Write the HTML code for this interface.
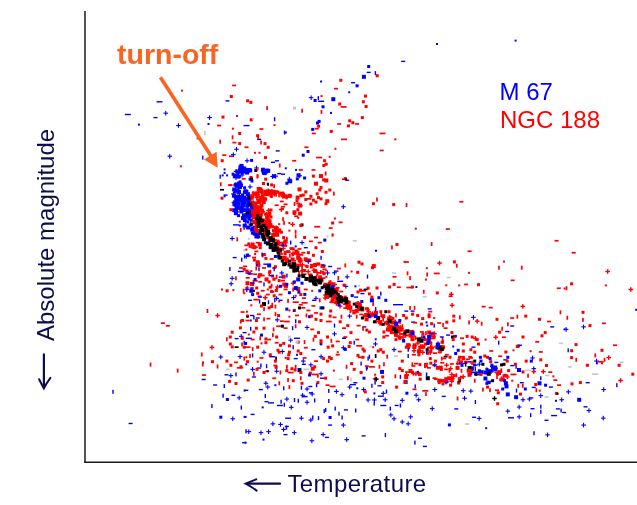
<!DOCTYPE html>
<html><head><meta charset="utf-8">
<style>
html,body{margin:0;padding:0;background:#fff;}
body{width:637px;height:505px;overflow:hidden;position:relative;}
svg{position:absolute;left:0;top:0;}
</style></head><body>
<svg width="637" height="505" viewBox="0 0 637 505">
<defs><filter id="bl" x="0" y="0" width="1" height="1" color-interpolation-filters="sRGB"><feGaussianBlur stdDeviation="0.45"/></filter></defs>
<g id="scatter" filter="url(#bl)">
<rect x="232.1" y="84.6" width="4.0" height="1.7" fill="#f00"/>
<rect x="367.2" y="65.0" width="3.0" height="3.0" fill="#00f"/>
<rect x="366.7" y="71.7" width="4.0" height="1.4" fill="#00f"/>
<rect x="374.7" y="71.1" width="1.4" height="4.0" fill="#00f"/>
<rect x="375.7" y="74.2" width="3.0" height="3.0" fill="#f00"/>
<rect x="361.9" y="74.8" width="4.0" height="4.0" fill="#00f"/>
<rect x="320.1" y="80.5" width="2.0" height="2.0" fill="#00f"/>
<rect x="339.3" y="78.8" width="3.0" height="3.0" fill="#f00"/>
<rect x="351.1" y="82.0" width="4.0" height="1.4" fill="#00f"/>
<rect x="355.6" y="84.3" width="3.0" height="3.0" fill="#00f"/>
<rect x="334.0" y="87.8" width="4.0" height="1.7" fill="#f00"/>
<rect x="436.0" y="43.0" width="2.0" height="2.0" fill="#00f"/>
<rect x="401.2" y="60.7" width="4.0" height="1.4" fill="#00f"/>
<rect x="514.6" y="39.6" width="2.0" height="2.0" fill="#00f"/>
<rect x="156.5" y="101.1" width="6.0" height="1.4" fill="#00f"/>
<rect x="124.8" y="113.8" width="6.0" height="1.4" fill="#00f"/>
<rect x="153.5" y="116.9" width="4.0" height="1.4" fill="#00f"/>
<rect x="163.5" y="112.6" width="4.6" height="1.1" fill="#00f"/><rect x="165.2" y="110.9" width="1.1" height="4.6" fill="#00f"/>
<rect x="137.9" y="123.6" width="2.0" height="2.0" fill="#00f"/>
<rect x="176.2" y="125.0" width="4.6" height="1.1" fill="#00f"/><rect x="177.9" y="123.2" width="1.1" height="4.6" fill="#00f"/>
<rect x="167.5" y="155.7" width="4.6" height="1.1" fill="#00f"/><rect x="169.2" y="154.0" width="1.1" height="4.6" fill="#00f"/>
<rect x="179.9" y="165.3" width="2.0" height="2.0" fill="#f00"/>
<rect x="229.8" y="95.0" width="3.0" height="3.0" fill="#f00"/>
<rect x="225.5" y="100.2" width="4.0" height="1.4" fill="#00f"/>
<rect x="246.1" y="99.3" width="3.0" height="3.0" fill="#f00"/>
<rect x="249.3" y="100.9" width="3.0" height="3.0" fill="#f00"/>
<rect x="266.2" y="106.1" width="1.7" height="4.0" fill="#f00"/>
<rect x="207.3" y="117.0" width="4.6" height="1.1" fill="#00f"/><rect x="209.0" y="115.3" width="1.1" height="4.6" fill="#00f"/>
<rect x="207.5" y="123.0" width="2.0" height="2.0" fill="#00f"/>
<rect x="221.5" y="115.6" width="3.0" height="3.0" fill="#f00"/>
<rect x="236.0" y="115.0" width="2.0" height="2.0" fill="#f00"/>
<rect x="249.7" y="118.3" width="3.0" height="3.0" fill="#f00"/>
<rect x="252.1" y="117.7" width="2.0" height="2.0" fill="#c8c8c8"/>
<rect x="273.9" y="117.2" width="1.4" height="4.0" fill="#00f"/>
<rect x="217.1" y="124.7" width="4.0" height="1.7" fill="#f00"/>
<rect x="243.5" y="124.9" width="6.0" height="1.4" fill="#00f"/>
<rect x="273.5" y="124.1" width="2.0" height="2.0" fill="#f00"/>
<rect x="231.9" y="127.7" width="2.0" height="2.0" fill="#f00"/>
<rect x="259.4" y="128.2" width="4.0" height="1.7" fill="#f00"/>
<rect x="204.0" y="131.0" width="1.7" height="4.0" fill="#c8c8c8"/>
<rect x="238.2" y="132.0" width="3.0" height="3.0" fill="#f00"/>
<rect x="256.1" y="134.2" width="3.0" height="3.0" fill="#f00"/>
<rect x="257.4" y="135.0" width="1.7" height="4.0" fill="#f00"/>
<rect x="231.7" y="135.3" width="1.7" height="4.0" fill="#f00"/>
<rect x="257.2" y="138.7" width="4.0" height="1.4" fill="#00f"/>
<rect x="283.8" y="130.5" width="1.4" height="4.0" fill="#00f"/>
<rect x="196.7" y="137.5" width="2.0" height="2.0" fill="#f00"/>
<rect x="219.3" y="139.7" width="1.7" height="4.0" fill="#f00"/>
<rect x="232.4" y="141.7" width="4.0" height="1.7" fill="#f00"/>
<rect x="238.2" y="142.1" width="3.0" height="3.0" fill="#f00"/>
<rect x="260.2" y="140.5" width="1.7" height="4.0" fill="#f00"/>
<rect x="263.5" y="142.1" width="3.0" height="3.0" fill="#f00"/>
<rect x="266.7" y="145.8" width="3.0" height="3.0" fill="#f00"/>
<rect x="244.5" y="146.4" width="4.0" height="1.7" fill="#f00"/>
<rect x="234.2" y="148.7" width="4.6" height="1.1" fill="#00f"/><rect x="235.9" y="147.0" width="1.1" height="4.6" fill="#00f"/>
<rect x="275.7" y="150.2" width="4.0" height="1.4" fill="#00f"/>
<rect x="254.0" y="151.8" width="2.0" height="2.0" fill="#f00"/>
<rect x="258.5" y="151.8" width="2.0" height="2.0" fill="#f00"/>
<rect x="222.3" y="154.3" width="4.0" height="1.7" fill="#f00"/>
<rect x="229.0" y="155.4" width="4.0" height="1.7" fill="#f00"/>
<rect x="231.0" y="154.1" width="4.6" height="1.1" fill="#00f"/><rect x="232.8" y="152.4" width="1.1" height="4.6" fill="#00f"/>
<rect x="202.1" y="155.6" width="1.4" height="4.0" fill="#00f"/>
<rect x="220.7" y="159.2" width="3.0" height="3.0" fill="#f00"/>
<rect x="264.0" y="156.1" width="3.0" height="3.0" fill="#f00"/>
<rect x="244.8" y="160.2" width="4.6" height="1.1" fill="#00f"/><rect x="246.5" y="158.4" width="1.1" height="4.6" fill="#00f"/>
<rect x="250.1" y="158.9" width="3.0" height="3.0" fill="#00f"/>
<rect x="271.0" y="161.6" width="4.0" height="1.4" fill="#00f"/>
<rect x="274.9" y="160.1" width="4.0" height="1.4" fill="#00f"/>
<rect x="278.9" y="163.5" width="1.7" height="4.0" fill="#f00"/>
<rect x="223.6" y="168.4" width="2.0" height="2.0" fill="#00f"/>
<rect x="348.2" y="91.3" width="2.0" height="2.0" fill="#00f"/>
<rect x="364.0" y="94.6" width="3.0" height="3.0" fill="#f00"/>
<rect x="308.8" y="97.1" width="4.6" height="1.1" fill="#00f"/><rect x="310.6" y="95.4" width="1.1" height="4.6" fill="#00f"/>
<rect x="317.6" y="96.1" width="1.4" height="4.0" fill="#00f"/>
<rect x="313.6" y="99.0" width="3.0" height="3.0" fill="#00f"/>
<rect x="318.1" y="100.6" width="6.0" height="1.4" fill="#00f"/>
<rect x="320.5" y="95.1" width="2.0" height="2.0" fill="#f00"/>
<rect x="331.3" y="97.2" width="4.0" height="4.0" fill="#00f"/>
<rect x="338.2" y="102.5" width="3.0" height="3.0" fill="#f00"/>
<rect x="340.6" y="106.0" width="6.0" height="1.7" fill="#f00"/>
<rect x="361.9" y="100.3" width="3.0" height="3.0" fill="#f00"/>
<rect x="364.6" y="105.0" width="3.0" height="3.0" fill="#f00"/>
<rect x="293.0" y="106.6" width="3.0" height="3.0" fill="#c8c8c8"/>
<rect x="301.3" y="108.8" width="1.7" height="4.0" fill="#f00"/>
<rect x="321.5" y="105.3" width="3.0" height="3.0" fill="#00f"/>
<rect x="320.6" y="109.9" width="1.7" height="4.0" fill="#f00"/>
<rect x="330.0" y="111.9" width="2.0" height="2.0" fill="#00f"/>
<rect x="360.8" y="116.1" width="3.0" height="3.0" fill="#f00"/>
<rect x="348.2" y="119.3" width="3.0" height="3.0" fill="#f00"/>
<rect x="351.3" y="121.2" width="3.0" height="3.0" fill="#f00"/>
<rect x="355.1" y="123.1" width="4.0" height="1.7" fill="#f00"/>
<rect x="346.9" y="124.4" width="3.0" height="3.0" fill="#f00"/>
<rect x="337.2" y="123.1" width="4.0" height="1.7" fill="#f00"/>
<rect x="317.6" y="119.9" width="3.0" height="3.0" fill="#00f"/>
<rect x="316.0" y="121.5" width="3.0" height="3.0" fill="#00f"/>
<rect x="317.1" y="124.7" width="3.0" height="3.0" fill="#f00"/>
<rect x="311.2" y="127.9" width="3.0" height="3.0" fill="#00f"/>
<rect x="314.7" y="127.9" width="4.0" height="1.7" fill="#f00"/>
<rect x="284.8" y="131.5" width="2.0" height="2.0" fill="#00f"/>
<rect x="311.8" y="132.6" width="4.0" height="1.7" fill="#f00"/>
<rect x="329.8" y="129.9" width="3.0" height="3.0" fill="#f00"/>
<rect x="379.5" y="132.6" width="6.0" height="1.7" fill="#f00"/>
<rect x="341.0" y="138.5" width="6.0" height="1.7" fill="#f00"/>
<rect x="304.4" y="146.4" width="4.0" height="1.7" fill="#f00"/>
<rect x="306.5" y="150.0" width="3.0" height="3.0" fill="#00f"/>
<rect x="301.7" y="153.7" width="3.0" height="3.0" fill="#00f"/>
<rect x="334.4" y="147.8" width="2.0" height="2.0" fill="#f00"/>
<rect x="379.7" y="149.6" width="4.0" height="1.7" fill="#f00"/>
<rect x="316.1" y="156.7" width="6.0" height="1.7" fill="#f00"/>
<rect x="328.7" y="155.8" width="2.0" height="2.0" fill="#f00"/>
<rect x="323.1" y="159.2" width="3.0" height="3.0" fill="#f00"/>
<rect x="324.7" y="162.7" width="3.0" height="3.0" fill="#f00"/>
<rect x="322.3" y="164.0" width="3.0" height="3.0" fill="#f00"/>
<rect x="292.2" y="159.9" width="4.0" height="1.7" fill="#f00"/>
<rect x="284.8" y="167.3" width="2.0" height="2.0" fill="#00f"/>
<rect x="295.1" y="168.9" width="2.0" height="2.0" fill="#00f"/>
<rect x="298.8" y="169.1" width="4.0" height="1.7" fill="#f00"/>
<rect x="311.5" y="169.1" width="4.0" height="1.7" fill="#f00"/>
<rect x="394.3" y="138.3" width="2.0" height="2.0" fill="#f00"/>
<rect x="223.6" y="171.9" width="2.0" height="2.0" fill="#00f"/>
<rect x="221.7" y="174.4" width="2.0" height="2.0" fill="#00f"/>
<rect x="226.1" y="174.4" width="2.0" height="2.0" fill="#00f"/>
<rect x="219.5" y="174.7" width="1.4" height="4.0" fill="#00f"/>
<rect x="219.9" y="182.3" width="1.7" height="4.0" fill="#f00"/>
<rect x="228.3" y="184.3" width="4.0" height="1.7" fill="#f00"/>
<rect x="235.1" y="184.2" width="1.7" height="4.0" fill="#f00"/>
<rect x="220.0" y="188.9" width="4.0" height="1.7" fill="#000"/>
<rect x="223.6" y="194.4" width="4.0" height="1.4" fill="#00f"/>
<rect x="223.6" y="195.3" width="2.0" height="2.0" fill="#00f"/>
<rect x="220.5" y="196.7" width="3.0" height="3.0" fill="#f00"/>
<rect x="233.7" y="196.9" width="2.0" height="2.0" fill="#f00"/>
<rect x="229.4" y="208.2" width="3.0" height="3.0" fill="#f00"/>
<rect x="236.9" y="215.0" width="2.0" height="2.0" fill="#f00"/>
<rect x="238.8" y="220.7" width="2.0" height="2.0" fill="#f00"/>
<rect x="233.0" y="224.2" width="6.0" height="1.4" fill="#00f"/>
<rect x="238.8" y="224.5" width="2.0" height="2.0" fill="#00f"/>
<rect x="239.9" y="227.9" width="1.7" height="4.0" fill="#f00"/>
<rect x="243.2" y="227.7" width="2.0" height="2.0" fill="#f00"/>
<rect x="229.9" y="238.0" width="4.6" height="1.1" fill="#00f"/><rect x="231.6" y="236.2" width="1.1" height="4.6" fill="#00f"/>
<rect x="236.4" y="237.4" width="1.7" height="4.0" fill="#f00"/>
<rect x="243.2" y="249.2" width="2.0" height="2.0" fill="#c8c8c8"/>
<rect x="232.7" y="256.9" width="4.0" height="1.4" fill="#00f"/>
<rect x="241.0" y="257.7" width="1.4" height="4.0" fill="#00f"/>
<rect x="243.9" y="254.5" width="1.4" height="4.0" fill="#00f"/>
<rect x="229.2" y="267.0" width="1.4" height="4.0" fill="#00f"/>
<rect x="239.0" y="267.1" width="4.0" height="1.7" fill="#f00"/>
<rect x="237.8" y="270.8" width="6.0" height="1.4" fill="#00f"/>
<rect x="242.7" y="267.7" width="3.0" height="3.0" fill="#f00"/>
<rect x="229.9" y="277.8" width="4.6" height="1.1" fill="#00f"/><rect x="231.6" y="276.0" width="1.1" height="4.6" fill="#00f"/>
<rect x="235.1" y="276.3" width="1.7" height="4.0" fill="#f00"/>
<rect x="228.9" y="283.2" width="4.6" height="1.1" fill="#00f"/><rect x="230.6" y="281.5" width="1.1" height="4.6" fill="#00f"/>
<rect x="221.0" y="288.5" width="2.0" height="2.0" fill="#f00"/>
<rect x="225.6" y="289.3" width="3.0" height="3.0" fill="#f00"/>
<rect x="232.4" y="289.1" width="2.0" height="2.0" fill="#f00"/>
<rect x="242.7" y="288.8" width="1.7" height="4.0" fill="#f00"/>
<rect x="243.2" y="292.3" width="2.0" height="2.0" fill="#f00"/>
<rect x="232.8" y="174.2" width="4.0" height="4.0" fill="#00f"/>
<rect x="234.7" y="170.7" width="4.6" height="1.1" fill="#00f"/><rect x="236.4" y="169.0" width="1.1" height="4.6" fill="#00f"/>
<rect x="239.5" y="168.2" width="3.0" height="3.0" fill="#00f"/>
<rect x="245.8" y="168.4" width="4.0" height="4.0" fill="#00f"/>
<rect x="245.1" y="170.6" width="4.0" height="4.0" fill="#00f"/>
<rect x="248.2" y="168.2" width="3.0" height="3.0" fill="#00f"/>
<rect x="239.8" y="174.5" width="4.6" height="1.1" fill="#00f"/><rect x="241.5" y="172.8" width="1.1" height="4.6" fill="#00f"/>
<rect x="241.0" y="167.7" width="3.0" height="3.0" fill="#00f"/>
<rect x="247.9" y="168.7" width="3.0" height="3.0" fill="#00f"/>
<rect x="236.3" y="173.3" width="3.0" height="3.0" fill="#00f"/>
<rect x="248.1" y="168.8" width="3.0" height="3.0" fill="#00f"/>
<rect x="235.6" y="172.0" width="4.6" height="1.1" fill="#00f"/><rect x="237.3" y="170.3" width="1.1" height="4.6" fill="#00f"/>
<rect x="246.5" y="169.9" width="3.0" height="3.0" fill="#00f"/>
<rect x="245.8" y="170.5" width="4.6" height="1.1" fill="#00f"/><rect x="247.5" y="168.8" width="1.1" height="4.6" fill="#00f"/>
<rect x="238.5" y="165.2" width="3.0" height="3.0" fill="#00f"/>
<rect x="233.3" y="174.1" width="4.0" height="4.0" fill="#00f"/>
<rect x="231.6" y="172.7" width="3.0" height="3.0" fill="#00f"/>
<rect x="241.8" y="168.3" width="3.0" height="3.0" fill="#00f"/>
<rect x="238.3" y="167.6" width="3.0" height="3.0" fill="#00f"/>
<rect x="237.3" y="175.6" width="3.0" height="3.0" fill="#00f"/>
<rect x="237.9" y="174.9" width="3.0" height="3.0" fill="#00f"/>
<rect x="245.8" y="170.1" width="3.0" height="3.0" fill="#00f"/>
<rect x="233.8" y="177.1" width="4.6" height="1.1" fill="#00f"/><rect x="235.5" y="175.4" width="1.1" height="4.6" fill="#00f"/>
<rect x="233.7" y="170.8" width="4.6" height="1.1" fill="#00f"/><rect x="235.4" y="169.1" width="1.1" height="4.6" fill="#00f"/>
<rect x="245.3" y="168.1" width="4.0" height="4.0" fill="#00f"/>
<rect x="240.8" y="171.6" width="3.0" height="3.0" fill="#00f"/>
<rect x="236.9" y="171.3" width="3.0" height="3.0" fill="#00f"/>
<rect x="242.6" y="170.6" width="3.0" height="3.0" fill="#00f"/>
<rect x="235.0" y="174.2" width="4.0" height="4.0" fill="#00f"/>
<rect x="241.9" y="167.2" width="4.0" height="4.0" fill="#00f"/>
<rect x="242.3" y="166.5" width="4.0" height="4.0" fill="#00f"/>
<rect x="239.5" y="163.9" width="4.0" height="4.0" fill="#00f"/>
<rect x="238.0" y="168.7" width="3.0" height="3.0" fill="#00f"/>
<rect x="248.2" y="168.4" width="4.0" height="4.0" fill="#00f"/>
<rect x="238.2" y="170.9" width="4.6" height="1.1" fill="#00f"/><rect x="240.0" y="169.1" width="1.1" height="4.6" fill="#00f"/>
<rect x="240.9" y="165.9" width="3.0" height="3.0" fill="#00f"/>
<rect x="264.1" y="169.3" width="4.0" height="4.0" fill="#00f"/>
<rect x="263.5" y="169.6" width="4.0" height="4.0" fill="#00f"/>
<rect x="266.2" y="168.8" width="4.0" height="4.0" fill="#00f"/>
<rect x="260.9" y="167.7" width="4.0" height="4.0" fill="#00f"/>
<rect x="262.7" y="171.1" width="4.0" height="4.0" fill="#00f"/>
<rect x="261.7" y="170.0" width="3.0" height="3.0" fill="#00f"/>
<rect x="261.8" y="171.6" width="3.0" height="3.0" fill="#00f"/>
<rect x="264.7" y="168.6" width="4.0" height="4.0" fill="#00f"/>
<rect x="270.3" y="175.9" width="4.6" height="1.1" fill="#00f"/><rect x="272.0" y="174.2" width="1.1" height="4.6" fill="#00f"/>
<rect x="273.4" y="175.6" width="4.6" height="1.1" fill="#00f"/><rect x="275.1" y="173.9" width="1.1" height="4.6" fill="#00f"/>
<rect x="271.8" y="174.2" width="4.0" height="4.0" fill="#00f"/>
<rect x="242.3" y="195.5" width="4.0" height="4.0" fill="#00f"/>
<rect x="247.1" y="193.4" width="3.0" height="3.0" fill="#00f"/>
<rect x="233.4" y="184.4" width="4.6" height="1.1" fill="#00f"/><rect x="235.1" y="182.6" width="1.1" height="4.6" fill="#00f"/>
<rect x="248.8" y="208.5" width="4.6" height="1.1" fill="#00f"/><rect x="250.5" y="206.8" width="1.1" height="4.6" fill="#00f"/>
<rect x="246.2" y="200.8" width="4.0" height="4.0" fill="#00f"/>
<rect x="242.0" y="213.4" width="4.0" height="4.0" fill="#00f"/>
<rect x="236.0" y="184.2" width="3.0" height="3.0" fill="#00f"/>
<rect x="248.4" y="205.1" width="4.6" height="1.1" fill="#00f"/><rect x="250.1" y="203.4" width="1.1" height="4.6" fill="#00f"/>
<rect x="246.7" y="212.9" width="4.0" height="4.0" fill="#00f"/>
<rect x="240.8" y="202.1" width="4.0" height="4.0" fill="#00f"/>
<rect x="236.6" y="191.6" width="3.0" height="3.0" fill="#00f"/>
<rect x="233.9" y="211.2" width="4.0" height="4.0" fill="#00f"/>
<rect x="238.0" y="184.2" width="3.0" height="3.0" fill="#00f"/>
<rect x="247.8" y="198.2" width="4.6" height="1.1" fill="#00f"/><rect x="249.6" y="196.5" width="1.1" height="4.6" fill="#00f"/>
<rect x="247.2" y="201.2" width="4.0" height="4.0" fill="#00f"/>
<rect x="240.8" y="208.1" width="4.0" height="4.0" fill="#00f"/>
<rect x="241.9" y="197.4" width="4.0" height="4.0" fill="#00f"/>
<rect x="237.0" y="181.6" width="4.0" height="4.0" fill="#00f"/>
<rect x="240.6" y="207.1" width="4.0" height="4.0" fill="#00f"/>
<rect x="233.5" y="201.2" width="4.0" height="4.0" fill="#00f"/>
<rect x="232.0" y="193.7" width="4.0" height="4.0" fill="#00f"/>
<rect x="235.5" y="188.3" width="4.0" height="4.0" fill="#00f"/>
<rect x="246.8" y="202.7" width="4.0" height="4.0" fill="#00f"/>
<rect x="233.6" y="183.6" width="3.0" height="3.0" fill="#00f"/>
<rect x="242.0" y="203.9" width="3.0" height="3.0" fill="#00f"/>
<rect x="237.0" y="190.0" width="4.0" height="4.0" fill="#00f"/>
<rect x="236.5" y="198.7" width="3.0" height="3.0" fill="#00f"/>
<rect x="235.7" y="200.3" width="3.0" height="3.0" fill="#00f"/>
<rect x="235.1" y="208.5" width="3.0" height="3.0" fill="#00f"/>
<rect x="250.1" y="212.4" width="3.0" height="3.0" fill="#00f"/>
<rect x="248.5" y="210.0" width="3.0" height="3.0" fill="#00f"/>
<rect x="243.7" y="189.3" width="4.0" height="4.0" fill="#00f"/>
<rect x="243.8" y="198.7" width="4.6" height="1.1" fill="#00f"/><rect x="245.5" y="197.0" width="1.1" height="4.6" fill="#00f"/>
<rect x="241.2" y="201.6" width="3.0" height="3.0" fill="#00f"/>
<rect x="238.3" y="195.2" width="4.0" height="4.0" fill="#00f"/>
<rect x="247.3" y="217.6" width="3.0" height="3.0" fill="#00f"/>
<rect x="242.0" y="203.8" width="3.0" height="3.0" fill="#00f"/>
<rect x="237.4" y="195.9" width="3.0" height="3.0" fill="#00f"/>
<rect x="231.1" y="193.4" width="4.6" height="1.1" fill="#00f"/><rect x="232.9" y="191.7" width="1.1" height="4.6" fill="#00f"/>
<rect x="250.8" y="205.6" width="3.0" height="3.0" fill="#00f"/>
<rect x="232.7" y="200.7" width="4.6" height="1.1" fill="#00f"/><rect x="234.4" y="198.9" width="1.1" height="4.6" fill="#00f"/>
<rect x="250.9" y="208.2" width="4.0" height="4.0" fill="#00f"/>
<rect x="241.0" y="216.1" width="4.0" height="4.0" fill="#00f"/>
<rect x="250.0" y="210.2" width="4.0" height="4.0" fill="#00f"/>
<rect x="244.3" y="213.7" width="4.0" height="4.0" fill="#00f"/>
<rect x="238.6" y="182.5" width="4.0" height="4.0" fill="#00f"/>
<rect x="249.9" y="218.8" width="3.0" height="3.0" fill="#00f"/>
<rect x="236.1" y="186.8" width="4.6" height="1.1" fill="#00f"/><rect x="237.9" y="185.1" width="1.1" height="4.6" fill="#00f"/>
<rect x="232.4" y="202.3" width="4.0" height="4.0" fill="#00f"/>
<rect x="239.4" y="195.1" width="4.0" height="4.0" fill="#00f"/>
<rect x="237.1" y="214.1" width="3.0" height="3.0" fill="#00f"/>
<rect x="251.5" y="212.0" width="4.0" height="4.0" fill="#00f"/>
<rect x="246.4" y="213.4" width="4.0" height="4.0" fill="#00f"/>
<rect x="247.6" y="197.2" width="3.0" height="3.0" fill="#00f"/>
<rect x="243.1" y="199.5" width="3.0" height="3.0" fill="#00f"/>
<rect x="237.2" y="183.8" width="4.0" height="4.0" fill="#00f"/>
<rect x="234.4" y="195.0" width="3.0" height="3.0" fill="#00f"/>
<rect x="238.5" y="180.4" width="3.0" height="3.0" fill="#00f"/>
<rect x="233.6" y="190.2" width="3.0" height="3.0" fill="#00f"/>
<rect x="234.1" y="201.2" width="4.0" height="4.0" fill="#00f"/>
<rect x="234.5" y="211.4" width="4.6" height="1.1" fill="#00f"/><rect x="236.2" y="209.7" width="1.1" height="4.6" fill="#00f"/>
<rect x="247.3" y="212.6" width="3.0" height="3.0" fill="#00f"/>
<rect x="240.6" y="199.1" width="4.0" height="4.0" fill="#00f"/>
<rect x="245.9" y="203.8" width="4.6" height="1.1" fill="#00f"/><rect x="247.7" y="202.0" width="1.1" height="4.6" fill="#00f"/>
<rect x="234.9" y="207.1" width="3.0" height="3.0" fill="#00f"/>
<rect x="247.1" y="196.9" width="4.0" height="4.0" fill="#00f"/>
<rect x="246.0" y="192.2" width="4.0" height="4.0" fill="#00f"/>
<rect x="238.1" y="197.4" width="4.0" height="4.0" fill="#00f"/>
<rect x="241.0" y="193.4" width="3.0" height="3.0" fill="#00f"/>
<rect x="239.0" y="206.9" width="4.6" height="1.1" fill="#00f"/><rect x="240.7" y="205.2" width="1.1" height="4.6" fill="#00f"/>
<rect x="236.6" y="201.8" width="4.0" height="4.0" fill="#00f"/>
<rect x="243.4" y="209.0" width="3.0" height="3.0" fill="#00f"/>
<rect x="242.0" y="200.1" width="4.0" height="4.0" fill="#00f"/>
<rect x="245.1" y="197.9" width="3.0" height="3.0" fill="#00f"/>
<rect x="231.6" y="201.9" width="4.6" height="1.1" fill="#00f"/><rect x="233.4" y="200.2" width="1.1" height="4.6" fill="#00f"/>
<rect x="235.4" y="204.4" width="4.0" height="4.0" fill="#00f"/>
<rect x="239.3" y="209.5" width="4.0" height="4.0" fill="#00f"/>
<rect x="243.2" y="196.1" width="3.0" height="3.0" fill="#00f"/>
<rect x="242.8" y="217.3" width="4.0" height="4.0" fill="#00f"/>
<rect x="248.7" y="210.9" width="3.0" height="3.0" fill="#00f"/>
<rect x="247.5" y="196.3" width="3.0" height="3.0" fill="#00f"/>
<rect x="234.6" y="197.9" width="4.0" height="4.0" fill="#00f"/>
<rect x="239.1" y="198.1" width="4.0" height="4.0" fill="#00f"/>
<rect x="234.3" y="183.5" width="3.0" height="3.0" fill="#00f"/>
<rect x="237.3" y="195.0" width="4.6" height="1.1" fill="#00f"/><rect x="239.0" y="193.2" width="1.1" height="4.6" fill="#00f"/>
<rect x="250.4" y="208.7" width="4.6" height="1.1" fill="#00f"/><rect x="252.1" y="206.9" width="1.1" height="4.6" fill="#00f"/>
<rect x="242.9" y="190.3" width="4.0" height="4.0" fill="#00f"/>
<rect x="232.2" y="187.5" width="4.0" height="4.0" fill="#00f"/>
<rect x="234.2" y="182.6" width="3.0" height="3.0" fill="#00f"/>
<rect x="244.0" y="198.6" width="3.0" height="3.0" fill="#00f"/>
<rect x="243.8" y="208.7" width="3.0" height="3.0" fill="#00f"/>
<rect x="234.2" y="204.4" width="3.0" height="3.0" fill="#00f"/>
<rect x="236.5" y="196.8" width="4.6" height="1.1" fill="#00f"/><rect x="238.2" y="195.0" width="1.1" height="4.6" fill="#00f"/>
<rect x="246.7" y="214.4" width="4.0" height="4.0" fill="#00f"/>
<rect x="245.4" y="190.1" width="3.0" height="3.0" fill="#00f"/>
<rect x="244.7" y="213.5" width="4.0" height="4.0" fill="#00f"/>
<rect x="248.0" y="215.9" width="4.6" height="1.1" fill="#00f"/><rect x="249.7" y="214.2" width="1.1" height="4.6" fill="#00f"/>
<rect x="235.4" y="197.2" width="3.0" height="3.0" fill="#00f"/>
<rect x="243.1" y="186.3" width="3.0" height="3.0" fill="#00f"/>
<rect x="245.2" y="203.8" width="4.0" height="4.0" fill="#00f"/>
<rect x="239.0" y="186.1" width="3.0" height="3.0" fill="#00f"/>
<rect x="234.7" y="195.4" width="4.0" height="4.0" fill="#00f"/>
<rect x="245.0" y="208.4" width="4.0" height="4.0" fill="#00f"/>
<rect x="245.5" y="208.4" width="4.6" height="1.1" fill="#00f"/><rect x="247.2" y="206.6" width="1.1" height="4.6" fill="#00f"/>
<rect x="245.1" y="212.8" width="3.0" height="3.0" fill="#00f"/>
<rect x="238.1" y="206.1" width="4.0" height="4.0" fill="#00f"/>
<rect x="239.9" y="195.0" width="3.0" height="3.0" fill="#00f"/>
<rect x="233.8" y="202.8" width="4.6" height="1.1" fill="#00f"/><rect x="235.5" y="201.1" width="1.1" height="4.6" fill="#00f"/>
<rect x="232.3" y="208.2" width="4.0" height="4.0" fill="#00f"/>
<rect x="239.9" y="184.0" width="3.0" height="3.0" fill="#00f"/>
<rect x="246.9" y="214.1" width="4.0" height="4.0" fill="#00f"/>
<rect x="249.2" y="213.7" width="4.0" height="4.0" fill="#00f"/>
<rect x="249.5" y="210.5" width="3.0" height="3.0" fill="#00f"/>
<rect x="240.6" y="202.1" width="4.0" height="4.0" fill="#00f"/>
<rect x="255.2" y="234.4" width="4.0" height="4.0" fill="#00f"/>
<rect x="250.9" y="228.4" width="3.0" height="3.0" fill="#00f"/>
<rect x="242.7" y="223.7" width="4.0" height="4.0" fill="#00f"/>
<rect x="248.5" y="223.7" width="4.6" height="1.1" fill="#00f"/><rect x="250.2" y="221.9" width="1.1" height="4.6" fill="#00f"/>
<rect x="252.5" y="232.2" width="3.0" height="3.0" fill="#00f"/>
<rect x="252.4" y="225.6" width="4.0" height="4.0" fill="#00f"/>
<rect x="246.3" y="220.5" width="3.0" height="3.0" fill="#00f"/>
<rect x="253.0" y="229.9" width="4.0" height="4.0" fill="#00f"/>
<rect x="250.9" y="231.6" width="3.0" height="3.0" fill="#00f"/>
<rect x="253.2" y="231.6" width="4.0" height="4.0" fill="#00f"/>
<rect x="255.4" y="233.5" width="4.0" height="4.0" fill="#00f"/>
<rect x="250.1" y="227.5" width="4.0" height="4.0" fill="#00f"/>
<rect x="250.8" y="227.0" width="3.0" height="3.0" fill="#00f"/>
<rect x="255.8" y="233.4" width="4.6" height="1.1" fill="#00f"/><rect x="257.5" y="231.7" width="1.1" height="4.6" fill="#00f"/>
<rect x="243.0" y="221.0" width="4.6" height="1.1" fill="#00f"/><rect x="244.8" y="219.3" width="1.1" height="4.6" fill="#00f"/>
<rect x="243.4" y="223.9" width="3.0" height="3.0" fill="#00f"/>
<rect x="246.1" y="225.5" width="4.0" height="4.0" fill="#00f"/>
<rect x="249.2" y="223.7" width="3.0" height="3.0" fill="#00f"/>
<rect x="285.4" y="181.8" width="3.0" height="3.0" fill="#00f"/>
<rect x="287.1" y="178.6" width="4.6" height="1.1" fill="#00f"/><rect x="288.8" y="176.8" width="1.1" height="4.6" fill="#00f"/>
<rect x="287.5" y="179.9" width="3.0" height="3.0" fill="#00f"/>
<rect x="288.2" y="179.3" width="4.0" height="4.0" fill="#00f"/>
<rect x="297.4" y="175.2" width="4.6" height="1.1" fill="#00f"/><rect x="299.1" y="173.5" width="1.1" height="4.6" fill="#00f"/>
<rect x="296.5" y="173.3" width="4.0" height="4.0" fill="#00f"/>
<rect x="295.8" y="177.4" width="3.0" height="3.0" fill="#00f"/>
<rect x="261.7" y="200.1" width="4.0" height="4.0" fill="#f00"/>
<rect x="260.6" y="221.7" width="3.0" height="3.0" fill="#f00"/>
<rect x="255.2" y="229.0" width="4.0" height="4.0" fill="#f00"/>
<rect x="251.3" y="209.2" width="4.0" height="4.0" fill="#f00"/>
<rect x="256.4" y="193.6" width="3.0" height="3.0" fill="#f00"/>
<rect x="271.9" y="229.1" width="3.0" height="3.0" fill="#f00"/>
<rect x="279.9" y="230.7" width="3.0" height="3.0" fill="#f00"/>
<rect x="251.8" y="191.3" width="3.0" height="3.0" fill="#f00"/>
<rect x="257.9" y="189.7" width="3.0" height="3.0" fill="#f00"/>
<rect x="270.0" y="189.8" width="4.0" height="4.0" fill="#f00"/>
<rect x="266.0" y="215.1" width="4.6" height="1.4" fill="#f00"/><rect x="267.6" y="213.5" width="1.4" height="4.6" fill="#f00"/>
<rect x="266.6" y="218.3" width="3.0" height="3.0" fill="#f00"/>
<rect x="284.9" y="196.3" width="4.6" height="1.4" fill="#f00"/><rect x="286.5" y="194.7" width="1.4" height="4.6" fill="#f00"/>
<rect x="256.9" y="222.4" width="4.6" height="1.4" fill="#f00"/><rect x="258.5" y="220.8" width="1.4" height="4.6" fill="#f00"/>
<rect x="265.7" y="228.0" width="3.0" height="3.0" fill="#f00"/>
<rect x="256.8" y="200.1" width="4.0" height="4.0" fill="#f00"/>
<rect x="271.1" y="225.2" width="3.0" height="3.0" fill="#f00"/>
<rect x="265.4" y="215.7" width="4.0" height="4.0" fill="#f00"/>
<rect x="266.8" y="193.6" width="4.6" height="1.4" fill="#f00"/><rect x="268.4" y="192.0" width="1.4" height="4.6" fill="#f00"/>
<rect x="287.7" y="193.8" width="4.0" height="4.0" fill="#f00"/>
<rect x="265.1" y="230.0" width="4.0" height="4.0" fill="#f00"/>
<rect x="267.6" y="223.4" width="4.0" height="4.0" fill="#f00"/>
<rect x="274.3" y="226.1" width="4.0" height="4.0" fill="#f00"/>
<rect x="264.3" y="225.1" width="4.6" height="1.4" fill="#f00"/><rect x="265.9" y="223.5" width="1.4" height="4.6" fill="#f00"/>
<rect x="250.1" y="194.2" width="4.0" height="4.0" fill="#f00"/>
<rect x="263.8" y="192.1" width="4.0" height="4.0" fill="#f00"/>
<rect x="263.0" y="229.5" width="3.0" height="3.0" fill="#f00"/>
<rect x="253.4" y="192.7" width="3.0" height="3.0" fill="#f00"/>
<rect x="258.3" y="187.3" width="4.0" height="4.0" fill="#f00"/>
<rect x="255.5" y="222.4" width="4.0" height="4.0" fill="#f00"/>
<rect x="265.0" y="220.0" width="4.0" height="4.0" fill="#f00"/>
<rect x="252.8" y="214.8" width="4.0" height="4.0" fill="#f00"/>
<rect x="263.0" y="230.5" width="4.0" height="4.0" fill="#f00"/>
<rect x="256.4" y="223.9" width="4.0" height="4.0" fill="#f00"/>
<rect x="252.5" y="205.7" width="4.6" height="1.4" fill="#f00"/><rect x="254.1" y="204.1" width="1.4" height="4.6" fill="#f00"/>
<rect x="260.6" y="211.2" width="4.6" height="1.4" fill="#f00"/><rect x="262.2" y="209.6" width="1.4" height="4.6" fill="#f00"/>
<rect x="253.9" y="226.2" width="4.0" height="4.0" fill="#f00"/>
<rect x="255.7" y="215.4" width="3.0" height="3.0" fill="#f00"/>
<rect x="256.4" y="198.7" width="3.0" height="3.0" fill="#f00"/>
<rect x="261.2" y="209.7" width="3.0" height="3.0" fill="#f00"/>
<rect x="273.8" y="226.5" width="4.0" height="4.0" fill="#f00"/>
<rect x="275.2" y="229.5" width="4.0" height="4.0" fill="#f00"/>
<rect x="251.6" y="215.4" width="4.0" height="4.0" fill="#f00"/>
<rect x="258.8" y="199.5" width="3.0" height="3.0" fill="#f00"/>
<rect x="266.0" y="192.7" width="3.0" height="3.0" fill="#f00"/>
<rect x="265.4" y="215.7" width="4.0" height="4.0" fill="#f00"/>
<rect x="255.2" y="205.5" width="4.0" height="4.0" fill="#f00"/>
<rect x="256.8" y="222.2" width="3.0" height="3.0" fill="#f00"/>
<rect x="252.1" y="201.9" width="3.0" height="3.0" fill="#f00"/>
<rect x="254.4" y="192.7" width="4.0" height="4.0" fill="#f00"/>
<rect x="258.2" y="215.9" width="4.0" height="4.0" fill="#f00"/>
<rect x="258.7" y="196.0" width="3.0" height="3.0" fill="#f00"/>
<rect x="262.2" y="222.4" width="4.0" height="4.0" fill="#f00"/>
<rect x="273.9" y="226.5" width="4.0" height="4.0" fill="#f00"/>
<rect x="250.7" y="202.1" width="3.0" height="3.0" fill="#f00"/>
<rect x="254.3" y="228.8" width="3.0" height="3.0" fill="#f00"/>
<rect x="252.4" y="220.1" width="4.0" height="4.0" fill="#f00"/>
<rect x="261.6" y="198.3" width="3.0" height="3.0" fill="#f00"/>
<rect x="255.3" y="205.3" width="3.0" height="3.0" fill="#f00"/>
<rect x="253.0" y="201.5" width="4.0" height="4.0" fill="#f00"/>
<rect x="269.8" y="194.8" width="3.0" height="3.0" fill="#f00"/>
<rect x="254.3" y="219.4" width="4.0" height="4.0" fill="#f00"/>
<rect x="264.1" y="212.7" width="3.0" height="3.0" fill="#f00"/>
<rect x="261.9" y="218.6" width="3.0" height="3.0" fill="#f00"/>
<rect x="252.8" y="213.8" width="3.0" height="3.0" fill="#f00"/>
<rect x="268.4" y="223.7" width="4.0" height="4.0" fill="#f00"/>
<rect x="255.2" y="224.7" width="4.6" height="1.4" fill="#f00"/><rect x="256.8" y="223.1" width="1.4" height="4.6" fill="#f00"/>
<rect x="265.8" y="232.4" width="3.0" height="3.0" fill="#f00"/>
<rect x="260.4" y="217.9" width="3.0" height="3.0" fill="#f00"/>
<rect x="254.5" y="221.1" width="4.0" height="4.0" fill="#f00"/>
<rect x="267.9" y="223.2" width="3.0" height="3.0" fill="#f00"/>
<rect x="267.5" y="190.8" width="4.0" height="4.0" fill="#f00"/>
<rect x="268.5" y="219.3" width="3.0" height="3.0" fill="#f00"/>
<rect x="258.8" y="212.5" width="4.0" height="4.0" fill="#f00"/>
<rect x="265.9" y="220.2" width="4.0" height="4.0" fill="#f00"/>
<rect x="275.2" y="232.8" width="4.0" height="4.0" fill="#f00"/>
<rect x="263.4" y="221.5" width="4.0" height="4.0" fill="#f00"/>
<rect x="267.2" y="219.4" width="3.0" height="3.0" fill="#f00"/>
<rect x="276.3" y="228.4" width="3.0" height="3.0" fill="#f00"/>
<rect x="253.8" y="214.7" width="4.6" height="1.4" fill="#f00"/><rect x="255.4" y="213.1" width="1.4" height="4.6" fill="#f00"/>
<rect x="282.6" y="194.8" width="3.0" height="3.0" fill="#f00"/>
<rect x="253.3" y="201.8" width="4.0" height="4.0" fill="#f00"/>
<rect x="269.2" y="222.9" width="3.0" height="3.0" fill="#f00"/>
<rect x="254.1" y="209.0" width="4.0" height="4.0" fill="#f00"/>
<rect x="282.0" y="194.4" width="4.6" height="1.4" fill="#f00"/><rect x="283.6" y="192.8" width="1.4" height="4.6" fill="#f00"/>
<rect x="265.6" y="223.6" width="4.0" height="4.0" fill="#f00"/>
<rect x="255.4" y="210.7" width="4.0" height="4.0" fill="#f00"/>
<rect x="265.4" y="216.3" width="3.0" height="3.0" fill="#f00"/>
<rect x="259.2" y="223.0" width="3.0" height="3.0" fill="#f00"/>
<rect x="287.6" y="194.8" width="3.0" height="3.0" fill="#f00"/>
<rect x="250.7" y="196.8" width="3.0" height="3.0" fill="#f00"/>
<rect x="280.0" y="191.7" width="4.0" height="4.0" fill="#f00"/>
<rect x="264.2" y="213.7" width="4.6" height="1.4" fill="#f00"/><rect x="265.8" y="212.1" width="1.4" height="4.6" fill="#f00"/>
<rect x="251.1" y="210.4" width="4.0" height="4.0" fill="#f00"/>
<rect x="268.2" y="220.5" width="3.0" height="3.0" fill="#f00"/>
<rect x="272.7" y="232.4" width="4.0" height="4.0" fill="#f00"/>
<rect x="260.8" y="194.8" width="3.0" height="3.0" fill="#f00"/>
<rect x="253.1" y="203.5" width="3.0" height="3.0" fill="#f00"/>
<rect x="259.2" y="199.2" width="4.6" height="1.4" fill="#f00"/><rect x="260.8" y="197.6" width="1.4" height="4.6" fill="#f00"/>
<rect x="260.8" y="208.5" width="3.0" height="3.0" fill="#f00"/>
<rect x="258.7" y="189.9" width="3.0" height="3.0" fill="#f00"/>
<rect x="266.7" y="227.5" width="3.0" height="3.0" fill="#f00"/>
<rect x="255.3" y="208.2" width="3.0" height="3.0" fill="#f00"/>
<rect x="255.4" y="217.4" width="4.0" height="4.0" fill="#f00"/>
<rect x="254.4" y="211.4" width="4.0" height="4.0" fill="#f00"/>
<rect x="254.5" y="196.9" width="4.6" height="1.4" fill="#f00"/><rect x="256.1" y="195.3" width="1.4" height="4.6" fill="#f00"/>
<rect x="263.9" y="225.9" width="3.0" height="3.0" fill="#f00"/>
<rect x="260.7" y="194.2" width="4.6" height="1.4" fill="#f00"/><rect x="262.3" y="192.6" width="1.4" height="4.6" fill="#f00"/>
<rect x="270.4" y="190.3" width="4.0" height="4.0" fill="#f00"/>
<rect x="257.5" y="207.8" width="4.0" height="4.0" fill="#f00"/>
<rect x="253.1" y="204.9" width="4.6" height="1.4" fill="#f00"/><rect x="254.7" y="203.3" width="1.4" height="4.6" fill="#f00"/>
<rect x="259.4" y="188.8" width="4.0" height="4.0" fill="#f00"/>
<rect x="255.6" y="192.3" width="4.0" height="4.0" fill="#f00"/>
<rect x="254.3" y="207.0" width="3.0" height="3.0" fill="#f00"/>
<rect x="259.5" y="196.4" width="3.0" height="3.0" fill="#f00"/>
<rect x="265.4" y="229.4" width="3.0" height="3.0" fill="#f00"/>
<rect x="257.0" y="223.2" width="4.6" height="1.4" fill="#f00"/><rect x="258.6" y="221.6" width="1.4" height="4.6" fill="#f00"/>
<rect x="258.9" y="188.4" width="3.0" height="3.0" fill="#f00"/>
<rect x="276.2" y="229.8" width="3.0" height="3.0" fill="#f00"/>
<rect x="258.5" y="205.4" width="4.0" height="4.0" fill="#f00"/>
<rect x="260.5" y="191.2" width="3.0" height="3.0" fill="#f00"/>
<rect x="256.7" y="186.9" width="4.0" height="4.0" fill="#f00"/>
<rect x="262.5" y="197.5" width="4.0" height="4.0" fill="#f00"/>
<rect x="257.3" y="210.5" width="3.0" height="3.0" fill="#f00"/>
<rect x="264.0" y="197.5" width="3.0" height="3.0" fill="#f00"/>
<rect x="267.9" y="225.7" width="3.0" height="3.0" fill="#f00"/>
<rect x="253.5" y="205.4" width="3.0" height="3.0" fill="#f00"/>
<rect x="264.5" y="229.9" width="4.6" height="1.4" fill="#f00"/><rect x="266.1" y="228.3" width="1.4" height="4.6" fill="#f00"/>
<rect x="250.0" y="200.4" width="4.0" height="4.0" fill="#f00"/>
<rect x="271.2" y="232.9" width="4.0" height="4.0" fill="#f00"/>
<rect x="272.5" y="191.9" width="3.0" height="3.0" fill="#f00"/>
<rect x="270.1" y="190.8" width="4.0" height="4.0" fill="#f00"/>
<rect x="274.0" y="227.1" width="4.6" height="1.4" fill="#f00"/><rect x="275.6" y="225.5" width="1.4" height="4.6" fill="#f00"/>
<rect x="263.0" y="229.7" width="3.0" height="3.0" fill="#f00"/>
<rect x="262.6" y="196.6" width="3.0" height="3.0" fill="#f00"/>
<rect x="255.2" y="191.2" width="4.0" height="4.0" fill="#f00"/>
<rect x="259.5" y="203.4" width="4.0" height="4.0" fill="#f00"/>
<rect x="277.2" y="228.5" width="4.0" height="4.0" fill="#f00"/>
<rect x="266.1" y="192.5" width="3.0" height="3.0" fill="#f00"/>
<rect x="257.3" y="200.4" width="4.6" height="1.4" fill="#f00"/><rect x="258.9" y="198.8" width="1.4" height="4.6" fill="#f00"/>
<rect x="251.7" y="210.6" width="3.0" height="3.0" fill="#f00"/>
<rect x="303.1" y="176.5" width="3.0" height="3.0" fill="#00f"/>
<rect x="247.8" y="186.3" width="4.6" height="1.1" fill="#00f"/><rect x="249.5" y="184.5" width="1.1" height="4.6" fill="#00f"/>
<rect x="248.6" y="177.7" width="3.0" height="3.0" fill="#00f"/>
<rect x="277.2" y="172.9" width="4.0" height="1.4" fill="#00f"/>
<rect x="281.0" y="173.5" width="4.0" height="1.4" fill="#00f"/>
<rect x="247.3" y="196.1" width="3.0" height="3.0" fill="#000"/>
<rect x="248.6" y="202.5" width="3.0" height="3.0" fill="#000"/>
<rect x="246.0" y="211.3" width="3.0" height="3.0" fill="#000"/>
<rect x="249.8" y="222.7" width="3.0" height="3.0" fill="#000"/>
<rect x="256.2" y="213.9" width="3.0" height="3.0" fill="#000"/>
<rect x="258.7" y="216.6" width="3.0" height="3.0" fill="#000"/>
<rect x="261.2" y="219.2" width="3.0" height="3.0" fill="#000"/>
<rect x="257.4" y="222.7" width="3.0" height="3.0" fill="#000"/>
<rect x="262.5" y="224.3" width="3.0" height="3.0" fill="#000"/>
<rect x="260.0" y="228.1" width="3.0" height="3.0" fill="#000"/>
<rect x="265.0" y="229.3" width="3.0" height="3.0" fill="#000"/>
<rect x="267.6" y="231.9" width="3.0" height="3.0" fill="#000"/>
<rect x="258.7" y="231.9" width="3.0" height="3.0" fill="#000"/>
<rect x="300.5" y="223.4" width="3.0" height="3.0" fill="#000"/>
<rect x="266.8" y="182.7" width="2.0" height="2.0" fill="#000"/>
<rect x="256.8" y="174.1" width="1.7" height="4.0" fill="#f00"/>
<rect x="270.1" y="183.4" width="3.0" height="3.0" fill="#f00"/>
<rect x="273.3" y="184.2" width="1.7" height="4.0" fill="#f00"/>
<rect x="279.8" y="200.6" width="4.0" height="1.7" fill="#f00"/>
<rect x="274.7" y="204.4" width="4.0" height="1.7" fill="#f00"/>
<rect x="282.0" y="208.0" width="2.0" height="2.0" fill="#f00"/>
<rect x="285.3" y="211.3" width="3.0" height="3.0" fill="#f00"/>
<rect x="292.9" y="212.0" width="3.0" height="3.0" fill="#f00"/>
<rect x="282.2" y="217.2" width="1.7" height="4.0" fill="#f00"/>
<rect x="288.4" y="222.0" width="2.0" height="2.0" fill="#f00"/>
<rect x="297.2" y="216.9" width="2.0" height="2.0" fill="#f00"/>
<rect x="299.3" y="224.0" width="3.0" height="3.0" fill="#f00"/>
<rect x="288.4" y="229.6" width="2.0" height="2.0" fill="#f00"/>
<rect x="294.8" y="229.8" width="1.7" height="4.0" fill="#f00"/>
<rect x="314.2" y="225.9" width="6.0" height="1.7" fill="#f00"/>
<rect x="278.2" y="223.2" width="2.0" height="2.0" fill="#f00"/>
<rect x="274.4" y="230.8" width="2.0" height="2.0" fill="#f00"/>
<rect x="297.5" y="187.4" width="4.0" height="4.0" fill="#f00"/>
<rect x="304.3" y="190.4" width="3.0" height="3.0" fill="#f00"/>
<rect x="295.6" y="195.6" width="4.0" height="4.0" fill="#f00"/>
<rect x="295.5" y="199.3" width="3.0" height="3.0" fill="#f00"/>
<rect x="301.8" y="193.6" width="3.0" height="3.0" fill="#f00"/>
<rect x="305.4" y="198.0" width="6.0" height="1.7" fill="#f00"/>
<rect x="311.9" y="198.7" width="3.0" height="3.0" fill="#f00"/>
<rect x="315.7" y="192.3" width="3.0" height="3.0" fill="#f00"/>
<rect x="318.3" y="188.5" width="3.0" height="3.0" fill="#f00"/>
<rect x="314.0" y="181.7" width="4.0" height="4.0" fill="#f00"/>
<rect x="319.5" y="186.0" width="3.0" height="3.0" fill="#f00"/>
<rect x="319.5" y="197.4" width="3.0" height="3.0" fill="#f00"/>
<rect x="314.5" y="200.6" width="3.0" height="3.0" fill="#f00"/>
<rect x="309.4" y="202.5" width="3.0" height="3.0" fill="#f00"/>
<rect x="311.9" y="174.6" width="3.0" height="3.0" fill="#f00"/>
<rect x="319.0" y="174.1" width="4.0" height="4.0" fill="#f00"/>
<rect x="322.1" y="178.4" width="3.0" height="3.0" fill="#f00"/>
<rect x="299.3" y="194.2" width="3.0" height="3.0" fill="#f00"/>
<rect x="304.3" y="198.0" width="3.0" height="3.0" fill="#f00"/>
<rect x="309.4" y="194.8" width="3.0" height="3.0" fill="#f00"/>
<rect x="317.0" y="196.1" width="3.0" height="3.0" fill="#f00"/>
<rect x="291.5" y="252.4" width="1.7" height="4.0" fill="#f00"/>
<rect x="298.2" y="270.6" width="1.7" height="4.0" fill="#f00"/>
<rect x="276.6" y="239.6" width="3.0" height="3.0" fill="#f00"/>
<rect x="306.7" y="258.5" width="4.0" height="1.7" fill="#f00"/>
<rect x="276.5" y="249.7" width="4.6" height="1.4" fill="#f00"/><rect x="278.1" y="248.1" width="1.4" height="4.6" fill="#f00"/>
<rect x="295.3" y="250.3" width="1.7" height="4.0" fill="#f00"/>
<rect x="320.4" y="263.9" width="4.0" height="4.0" fill="#f00"/>
<rect x="301.1" y="269.5" width="4.0" height="1.7" fill="#f00"/>
<rect x="313.2" y="263.0" width="4.0" height="4.0" fill="#f00"/>
<rect x="319.5" y="278.5" width="4.0" height="4.0" fill="#f00"/>
<rect x="304.3" y="264.8" width="4.0" height="1.7" fill="#f00"/>
<rect x="309.9" y="265.6" width="3.0" height="3.0" fill="#f00"/>
<rect x="313.2" y="269.0" width="4.0" height="4.0" fill="#f00"/>
<rect x="287.7" y="262.9" width="4.0" height="1.7" fill="#f00"/>
<rect x="319.8" y="270.1" width="1.7" height="4.0" fill="#f00"/>
<rect x="267.7" y="240.1" width="4.0" height="1.7" fill="#f00"/>
<rect x="308.5" y="273.7" width="4.0" height="1.7" fill="#f00"/>
<rect x="286.7" y="251.4" width="4.0" height="1.7" fill="#f00"/>
<rect x="269.3" y="240.5" width="4.0" height="1.7" fill="#f00"/>
<rect x="321.3" y="270.8" width="3.0" height="3.0" fill="#f00"/>
<rect x="309.8" y="273.3" width="1.7" height="4.0" fill="#f00"/>
<rect x="298.1" y="253.6" width="4.0" height="1.7" fill="#f00"/>
<rect x="321.4" y="277.3" width="4.0" height="1.7" fill="#f00"/>
<rect x="269.4" y="244.1" width="3.0" height="3.0" fill="#f00"/>
<rect x="301.2" y="265.9" width="1.7" height="4.0" fill="#f00"/>
<rect x="305.9" y="270.9" width="4.6" height="1.4" fill="#f00"/><rect x="307.5" y="269.3" width="1.4" height="4.6" fill="#f00"/>
<rect x="294.1" y="269.4" width="3.0" height="3.0" fill="#f00"/>
<rect x="311.6" y="269.6" width="4.6" height="1.4" fill="#f00"/><rect x="313.2" y="268.0" width="1.4" height="4.6" fill="#f00"/>
<rect x="308.2" y="274.0" width="4.0" height="1.7" fill="#f00"/>
<rect x="282.1" y="236.1" width="3.0" height="3.0" fill="#f00"/>
<rect x="266.3" y="236.4" width="3.0" height="3.0" fill="#f00"/>
<rect x="296.5" y="251.2" width="3.0" height="3.0" fill="#f00"/>
<rect x="300.0" y="264.1" width="4.6" height="1.4" fill="#f00"/><rect x="301.6" y="262.5" width="1.4" height="4.6" fill="#f00"/>
<rect x="276.2" y="248.7" width="4.0" height="4.0" fill="#f00"/>
<rect x="283.6" y="239.4" width="4.0" height="4.0" fill="#f00"/>
<rect x="281.0" y="247.7" width="4.6" height="1.4" fill="#f00"/><rect x="282.6" y="246.1" width="1.4" height="4.6" fill="#f00"/>
<rect x="316.6" y="271.5" width="1.7" height="4.0" fill="#f00"/>
<rect x="279.3" y="244.5" width="4.0" height="1.7" fill="#f00"/>
<rect x="318.1" y="280.5" width="4.6" height="1.4" fill="#f00"/><rect x="319.7" y="278.9" width="1.4" height="4.6" fill="#f00"/>
<rect x="289.4" y="247.2" width="4.0" height="1.7" fill="#f00"/>
<rect x="293.6" y="251.8" width="3.0" height="3.0" fill="#f00"/>
<rect x="316.3" y="262.5" width="4.0" height="1.7" fill="#f00"/>
<rect x="290.9" y="253.0" width="4.6" height="1.4" fill="#f00"/><rect x="292.5" y="251.4" width="1.4" height="4.6" fill="#f00"/>
<rect x="286.2" y="250.2" width="4.0" height="1.7" fill="#f00"/>
<rect x="291.8" y="266.9" width="3.0" height="3.0" fill="#f00"/>
<rect x="279.4" y="253.1" width="4.0" height="1.7" fill="#f00"/>
<rect x="282.6" y="255.8" width="4.0" height="4.0" fill="#f00"/>
<rect x="285.7" y="257.4" width="3.0" height="3.0" fill="#f00"/>
<rect x="314.4" y="269.9" width="3.0" height="3.0" fill="#f00"/>
<rect x="305.1" y="259.0" width="3.0" height="3.0" fill="#f00"/>
<rect x="322.6" y="272.2" width="3.0" height="3.0" fill="#f00"/>
<rect x="302.5" y="273.3" width="4.0" height="1.7" fill="#f00"/>
<rect x="315.8" y="274.6" width="1.7" height="4.0" fill="#f00"/>
<rect x="316.3" y="272.0" width="4.0" height="1.7" fill="#f00"/>
<rect x="276.8" y="247.3" width="4.0" height="1.7" fill="#f00"/>
<rect x="278.1" y="248.5" width="4.0" height="4.0" fill="#f00"/>
<rect x="277.9" y="249.6" width="4.0" height="4.0" fill="#f00"/>
<rect x="310.4" y="280.2" width="4.6" height="1.4" fill="#f00"/><rect x="312.0" y="278.6" width="1.4" height="4.6" fill="#f00"/>
<rect x="298.5" y="258.3" width="4.0" height="4.0" fill="#f00"/>
<rect x="277.9" y="241.7" width="4.0" height="1.7" fill="#f00"/>
<rect x="276.7" y="242.9" width="4.0" height="1.7" fill="#f00"/>
<rect x="285.0" y="259.0" width="4.0" height="4.0" fill="#f00"/>
<rect x="297.7" y="259.9" width="4.6" height="1.4" fill="#f00"/><rect x="299.3" y="258.3" width="1.4" height="4.6" fill="#f00"/>
<rect x="322.5" y="268.5" width="4.0" height="1.7" fill="#f00"/>
<rect x="283.7" y="250.8" width="4.0" height="1.7" fill="#f00"/>
<rect x="312.0" y="280.6" width="4.6" height="1.4" fill="#f00"/><rect x="313.6" y="279.0" width="1.4" height="4.6" fill="#f00"/>
<rect x="274.5" y="249.0" width="3.0" height="3.0" fill="#f00"/>
<rect x="278.4" y="252.0" width="1.7" height="4.0" fill="#f00"/>
<rect x="306.6" y="260.5" width="4.0" height="1.7" fill="#f00"/>
<rect x="300.1" y="270.1" width="4.0" height="1.7" fill="#f00"/>
<rect x="272.9" y="239.2" width="4.0" height="1.7" fill="#f00"/>
<rect x="295.1" y="264.3" width="4.0" height="1.7" fill="#f00"/>
<rect x="292.1" y="259.9" width="4.0" height="1.7" fill="#f00"/>
<rect x="318.1" y="275.3" width="4.0" height="4.0" fill="#f00"/>
<rect x="299.2" y="254.0" width="4.0" height="1.7" fill="#f00"/>
<rect x="306.7" y="278.0" width="4.6" height="1.4" fill="#f00"/><rect x="308.3" y="276.4" width="1.4" height="4.6" fill="#f00"/>
<rect x="276.0" y="241.3" width="4.0" height="1.7" fill="#f00"/>
<rect x="297.8" y="258.5" width="4.0" height="4.0" fill="#f00"/>
<rect x="285.0" y="242.6" width="1.7" height="4.0" fill="#f00"/>
<rect x="296.6" y="257.1" width="4.6" height="1.4" fill="#f00"/><rect x="298.2" y="255.5" width="1.4" height="4.6" fill="#f00"/>
<rect x="294.4" y="249.6" width="4.0" height="4.0" fill="#f00"/>
<rect x="281.6" y="241.7" width="3.0" height="3.0" fill="#f00"/>
<rect x="296.2" y="252.9" width="3.0" height="3.0" fill="#f00"/>
<rect x="309.9" y="263.8" width="4.0" height="1.7" fill="#f00"/>
<rect x="296.7" y="257.9" width="4.0" height="1.7" fill="#f00"/>
<rect x="270.2" y="237.2" width="4.6" height="1.4" fill="#f00"/><rect x="271.8" y="235.6" width="1.4" height="4.6" fill="#f00"/>
<rect x="280.8" y="255.9" width="4.0" height="1.7" fill="#f00"/>
<rect x="296.2" y="255.7" width="4.0" height="4.0" fill="#f00"/>
<rect x="308.3" y="258.9" width="3.0" height="3.0" fill="#f00"/>
<rect x="283.7" y="252.1" width="3.0" height="3.0" fill="#f00"/>
<rect x="271.1" y="239.0" width="3.0" height="3.0" fill="#f00"/>
<rect x="289.0" y="253.6" width="1.7" height="4.0" fill="#f00"/>
<rect x="290.6" y="257.4" width="4.0" height="4.0" fill="#f00"/>
<rect x="316.5" y="280.0" width="3.0" height="3.0" fill="#f00"/>
<rect x="310.5" y="279.6" width="4.0" height="1.7" fill="#f00"/>
<rect x="283.3" y="245.0" width="4.0" height="1.7" fill="#f00"/>
<rect x="281.7" y="257.3" width="4.0" height="1.7" fill="#f00"/>
<rect x="311.3" y="277.0" width="3.0" height="3.0" fill="#f00"/>
<rect x="291.2" y="261.9" width="1.7" height="4.0" fill="#f00"/>
<rect x="275.9" y="241.8" width="4.0" height="4.0" fill="#f00"/>
<rect x="272.1" y="241.3" width="4.0" height="1.7" fill="#f00"/>
<rect x="301.1" y="272.0" width="1.7" height="4.0" fill="#f00"/>
<rect x="283.1" y="241.4" width="4.0" height="1.7" fill="#f00"/>
<rect x="305.5" y="265.0" width="3.0" height="3.0" fill="#f00"/>
<rect x="296.2" y="263.6" width="3.0" height="3.0" fill="#f00"/>
<rect x="277.2" y="245.8" width="1.7" height="4.0" fill="#f00"/>
<rect x="311.1" y="277.4" width="4.0" height="1.7" fill="#f00"/>
<rect x="314.6" y="280.3" width="4.0" height="1.7" fill="#f00"/>
<rect x="303.1" y="269.0" width="3.0" height="3.0" fill="#f00"/>
<rect x="273.5" y="246.3" width="3.0" height="3.0" fill="#f00"/>
<rect x="303.7" y="257.3" width="4.0" height="4.0" fill="#f00"/>
<rect x="272.3" y="246.7" width="4.0" height="1.7" fill="#f00"/>
<rect x="310.6" y="264.6" width="3.0" height="3.0" fill="#f00"/>
<rect x="268.1" y="240.4" width="4.0" height="1.7" fill="#f00"/>
<rect x="281.9" y="258.6" width="3.0" height="3.0" fill="#f00"/>
<rect x="322.3" y="264.9" width="3.0" height="3.0" fill="#f00"/>
<rect x="292.5" y="265.6" width="3.0" height="3.0" fill="#f00"/>
<rect x="283.6" y="239.7" width="3.0" height="3.0" fill="#f00"/>
<rect x="297.8" y="264.1" width="4.6" height="1.4" fill="#f00"/><rect x="299.4" y="262.5" width="1.4" height="4.6" fill="#f00"/>
<rect x="301.7" y="269.2" width="3.0" height="3.0" fill="#f00"/>
<rect x="290.1" y="248.4" width="4.0" height="1.7" fill="#f00"/>
<rect x="292.5" y="262.6" width="4.0" height="1.7" fill="#f00"/>
<rect x="275.3" y="286.2" width="4.6" height="1.4" fill="#f00"/><rect x="276.9" y="284.6" width="1.4" height="4.6" fill="#f00"/>
<rect x="272.4" y="277.8" width="3.0" height="3.0" fill="#f00"/>
<rect x="263.0" y="297.0" width="4.6" height="1.4" fill="#f00"/><rect x="264.6" y="295.4" width="1.4" height="4.6" fill="#f00"/>
<rect x="290.8" y="282.5" width="4.6" height="1.4" fill="#f00"/><rect x="292.4" y="280.9" width="1.4" height="4.6" fill="#f00"/>
<rect x="268.7" y="285.7" width="3.0" height="3.0" fill="#f00"/>
<rect x="262.9" y="253.0" width="3.0" height="3.0" fill="#f00"/>
<rect x="274.8" y="289.0" width="3.0" height="3.0" fill="#f00"/>
<rect x="296.2" y="287.0" width="4.0" height="4.0" fill="#f00"/>
<rect x="272.8" y="277.7" width="4.0" height="1.7" fill="#f00"/>
<rect x="247.6" y="271.9" width="3.0" height="3.0" fill="#f00"/>
<rect x="284.0" y="283.9" width="4.0" height="4.0" fill="#f00"/>
<rect x="250.1" y="282.0" width="4.0" height="4.0" fill="#f00"/>
<rect x="282.3" y="282.5" width="4.0" height="4.0" fill="#f00"/>
<rect x="281.7" y="274.7" width="4.0" height="4.0" fill="#f00"/>
<rect x="253.7" y="280.0" width="4.0" height="1.7" fill="#f00"/>
<rect x="245.7" y="277.0" width="4.0" height="1.7" fill="#f00"/>
<rect x="257.9" y="273.4" width="1.7" height="4.0" fill="#f00"/>
<rect x="270.2" y="289.9" width="3.0" height="3.0" fill="#f00"/>
<rect x="255.2" y="286.5" width="3.0" height="3.0" fill="#f00"/>
<rect x="302.0" y="297.3" width="4.0" height="1.7" fill="#f00"/>
<rect x="270.2" y="291.0" width="4.0" height="1.7" fill="#f00"/>
<rect x="252.9" y="258.5" width="3.0" height="3.0" fill="#f00"/>
<rect x="257.5" y="295.4" width="4.0" height="1.7" fill="#f00"/>
<rect x="247.2" y="271.8" width="4.0" height="1.7" fill="#f00"/>
<rect x="257.9" y="261.7" width="1.7" height="4.0" fill="#f00"/>
<rect x="268.3" y="272.2" width="1.7" height="4.0" fill="#f00"/>
<rect x="243.1" y="265.5" width="4.0" height="1.7" fill="#f00"/>
<rect x="252.6" y="279.7" width="1.7" height="4.0" fill="#f00"/>
<rect x="244.9" y="287.3" width="4.6" height="1.4" fill="#f00"/><rect x="246.5" y="285.7" width="1.4" height="4.6" fill="#f00"/>
<rect x="258.2" y="273.4" width="3.0" height="3.0" fill="#f00"/>
<rect x="271.1" y="274.5" width="3.0" height="3.0" fill="#f00"/>
<rect x="259.3" y="273.3" width="3.0" height="3.0" fill="#f00"/>
<rect x="255.4" y="266.5" width="1.7" height="4.0" fill="#f00"/>
<rect x="244.5" y="269.6" width="4.0" height="1.7" fill="#f00"/>
<rect x="252.0" y="256.7" width="4.0" height="1.7" fill="#f00"/>
<rect x="268.1" y="270.4" width="3.0" height="3.0" fill="#f00"/>
<rect x="255.8" y="262.4" width="4.0" height="4.0" fill="#00f"/>
<rect x="269.8" y="275.0" width="4.0" height="1.4" fill="#00f"/>
<rect x="250.3" y="287.2" width="3.0" height="3.0" fill="#00f"/>
<rect x="278.6" y="276.4" width="4.0" height="1.4" fill="#00f"/>
<rect x="303.3" y="292.9" width="3.0" height="3.0" fill="#00f"/>
<rect x="279.1" y="284.8" width="3.0" height="3.0" fill="#00f"/>
<rect x="291.3" y="297.0" width="4.6" height="1.1" fill="#00f"/><rect x="293.0" y="295.3" width="1.1" height="4.6" fill="#00f"/>
<rect x="293.8" y="286.1" width="4.0" height="4.0" fill="#00f"/>
<rect x="244.5" y="289.1" width="4.6" height="1.1" fill="#00f"/><rect x="246.2" y="287.4" width="1.1" height="4.6" fill="#00f"/>
<rect x="245.5" y="272.4" width="4.0" height="1.4" fill="#00f"/>
<rect x="246.2" y="253.5" width="3.0" height="3.0" fill="#00f"/>
<rect x="248.8" y="273.2" width="4.0" height="1.4" fill="#00f"/>
<rect x="297.4" y="290.7" width="3.0" height="3.0" fill="#00f"/>
<rect x="257.8" y="242.3" width="4.0" height="4.0" fill="#f00"/>
<rect x="248.6" y="244.8" width="3.0" height="3.0" fill="#f00"/>
<rect x="253.9" y="246.3" width="4.0" height="1.7" fill="#f00"/>
<rect x="252.4" y="245.2" width="4.0" height="4.0" fill="#f00"/>
<rect x="244.3" y="244.5" width="4.0" height="1.7" fill="#f00"/>
<rect x="247.8" y="237.8" width="2.0" height="2.0" fill="#c8c8c8"/>
<rect x="254.4" y="234.3" width="4.0" height="4.0" fill="#00f"/>
<rect x="257.4" y="235.4" width="3.0" height="3.0" fill="#00f"/>
<rect x="247.3" y="242.4" width="3.0" height="3.0" fill="#f00"/>
<rect x="250.6" y="242.5" width="4.0" height="4.0" fill="#f00"/>
<rect x="255.7" y="241.8" width="4.0" height="1.7" fill="#f00"/>
<rect x="258.7" y="246.2" width="3.0" height="3.0" fill="#f00"/>
<rect x="250.6" y="246.8" width="4.0" height="1.7" fill="#f00"/>
<rect x="245.3" y="248.6" width="2.0" height="2.0" fill="#f00"/>
<rect x="254.4" y="250.6" width="4.0" height="1.7" fill="#f00"/>
<rect x="244.0" y="256.0" width="4.6" height="1.1" fill="#00f"/><rect x="245.7" y="254.2" width="1.1" height="4.6" fill="#00f"/>
<rect x="246.8" y="255.2" width="4.0" height="1.4" fill="#00f"/>
<rect x="254.1" y="253.0" width="2.0" height="2.0" fill="#f00"/>
<rect x="261.9" y="253.3" width="1.7" height="4.0" fill="#f00"/>
<rect x="264.4" y="256.9" width="3.0" height="3.0" fill="#f00"/>
<rect x="269.6" y="258.2" width="4.0" height="1.7" fill="#f00"/>
<rect x="261.4" y="252.6" width="1.4" height="4.0" fill="#00f"/>
<rect x="267.1" y="263.4" width="4.0" height="4.0" fill="#00f"/>
<rect x="263.3" y="263.5" width="4.0" height="1.4" fill="#00f"/>
<rect x="255.7" y="260.2" width="4.0" height="4.0" fill="#f00"/>
<rect x="257.4" y="263.9" width="3.0" height="3.0" fill="#f00"/>
<rect x="262.0" y="267.1" width="4.0" height="1.7" fill="#f00"/>
<rect x="272.2" y="267.1" width="4.0" height="1.7" fill="#f00"/>
<rect x="269.5" y="269.8" width="1.7" height="4.0" fill="#f00"/>
<rect x="273.9" y="265.2" width="3.0" height="3.0" fill="#f00"/>
<rect x="273.5" y="267.2" width="1.4" height="4.0" fill="#00f"/>
<rect x="258.3" y="267.2" width="1.4" height="4.0" fill="#00f"/>
<rect x="245.5" y="270.9" width="4.0" height="1.7" fill="#f00"/>
<rect x="250.3" y="270.1" width="2.0" height="2.0" fill="#f00"/>
<rect x="253.1" y="273.4" width="4.0" height="1.7" fill="#f00"/>
<rect x="257.4" y="275.3" width="3.0" height="3.0" fill="#f00"/>
<rect x="260.7" y="274.7" width="4.0" height="1.7" fill="#f00"/>
<rect x="264.5" y="277.4" width="4.0" height="4.0" fill="#f00"/>
<rect x="267.6" y="280.4" width="3.0" height="3.0" fill="#f00"/>
<rect x="258.2" y="281.0" width="4.0" height="1.7" fill="#f00"/>
<rect x="275.8" y="274.8" width="1.7" height="4.0" fill="#f00"/>
<rect x="277.7" y="279.1" width="3.0" height="3.0" fill="#f00"/>
<rect x="281.0" y="279.8" width="4.0" height="1.7" fill="#f00"/>
<rect x="270.8" y="283.7" width="1.7" height="4.0" fill="#f00"/>
<rect x="275.7" y="287.2" width="2.0" height="2.0" fill="#f00"/>
<rect x="279.5" y="272.4" width="4.6" height="1.1" fill="#00f"/><rect x="281.2" y="270.7" width="1.1" height="4.6" fill="#00f"/>
<rect x="286.2" y="273.6" width="1.4" height="4.0" fill="#00f"/>
<rect x="253.6" y="277.9" width="3.0" height="3.0" fill="#00f"/>
<rect x="250.6" y="282.5" width="4.0" height="1.4" fill="#00f"/>
<rect x="263.3" y="282.4" width="1.4" height="4.0" fill="#00f"/>
<rect x="285.3" y="282.9" width="3.0" height="3.0" fill="#00f"/>
<rect x="292.9" y="280.4" width="3.0" height="3.0" fill="#00f"/>
<rect x="296.2" y="277.4" width="4.0" height="4.0" fill="#00f"/>
<rect x="300.5" y="281.7" width="3.0" height="3.0" fill="#00f"/>
<rect x="287.9" y="291.2" width="3.0" height="3.0" fill="#00f"/>
<rect x="245.5" y="281.2" width="4.0" height="4.0" fill="#f00"/>
<rect x="251.6" y="287.2" width="2.0" height="2.0" fill="#f00"/>
<rect x="260.7" y="289.9" width="4.0" height="1.7" fill="#f00"/>
<rect x="266.8" y="288.5" width="2.0" height="2.0" fill="#f00"/>
<rect x="256.2" y="291.8" width="3.0" height="3.0" fill="#f00"/>
<rect x="265.8" y="293.7" width="4.0" height="1.7" fill="#f00"/>
<rect x="272.7" y="294.3" width="3.0" height="3.0" fill="#f00"/>
<rect x="278.5" y="293.7" width="4.0" height="1.7" fill="#f00"/>
<rect x="283.6" y="288.6" width="4.0" height="1.7" fill="#f00"/>
<rect x="292.3" y="287.5" width="1.7" height="4.0" fill="#f00"/>
<rect x="294.7" y="294.8" width="2.0" height="2.0" fill="#f00"/>
<rect x="299.3" y="293.1" width="3.0" height="3.0" fill="#f00"/>
<rect x="303.8" y="288.6" width="4.0" height="1.7" fill="#f00"/>
<rect x="311.2" y="289.8" width="2.0" height="2.0" fill="#f00"/>
<rect x="249.3" y="288.8" width="4.0" height="4.0" fill="#00f"/>
<rect x="251.1" y="293.1" width="3.0" height="3.0" fill="#00f"/>
<rect x="258.2" y="296.4" width="4.0" height="1.4" fill="#00f"/>
<rect x="274.4" y="297.8" width="4.6" height="1.1" fill="#00f"/><rect x="276.1" y="296.1" width="1.1" height="4.6" fill="#00f"/>
<rect x="313.7" y="297.8" width="4.6" height="1.1" fill="#00f"/><rect x="315.4" y="296.1" width="1.1" height="4.6" fill="#00f"/>
<rect x="318.3" y="289.3" width="3.0" height="3.0" fill="#00f"/>
<rect x="252.9" y="289.8" width="2.0" height="2.0" fill="#000"/>
<rect x="286.0" y="236.8" width="1.7" height="4.0" fill="#f00"/>
<rect x="294.8" y="234.3" width="1.7" height="4.0" fill="#f00"/>
<rect x="299.7" y="242.0" width="4.6" height="1.1" fill="#00f"/><rect x="301.5" y="240.3" width="1.1" height="4.6" fill="#00f"/>
<rect x="303.1" y="236.0" width="3.0" height="3.0" fill="#f00"/>
<rect x="308.9" y="240.5" width="4.0" height="1.7" fill="#f00"/>
<rect x="314.5" y="246.2" width="3.0" height="3.0" fill="#f00"/>
<rect x="317.8" y="241.8" width="4.0" height="1.7" fill="#f00"/>
<rect x="314.0" y="236.7" width="4.0" height="1.7" fill="#f00"/>
<rect x="323.3" y="238.6" width="3.0" height="3.0" fill="#00f"/>
<rect x="320.8" y="250.0" width="3.0" height="3.0" fill="#f00"/>
<rect x="320.4" y="255.8" width="1.4" height="4.0" fill="#00f"/>
<rect x="311.9" y="253.8" width="3.0" height="3.0" fill="#f00"/>
<rect x="306.9" y="251.2" width="3.0" height="3.0" fill="#f00"/>
<rect x="301.3" y="251.9" width="4.0" height="1.7" fill="#f00"/>
<rect x="306.1" y="261.0" width="4.6" height="1.1" fill="#00f"/><rect x="307.8" y="259.3" width="1.1" height="4.6" fill="#00f"/>
<rect x="317.0" y="262.7" width="3.0" height="3.0" fill="#f00"/>
<rect x="321.6" y="264.7" width="4.0" height="1.4" fill="#00f"/>
<rect x="294.7" y="245.4" width="2.0" height="2.0" fill="#00f"/>
<rect x="290.0" y="240.6" width="1.4" height="4.0" fill="#00f"/>
<rect x="291.7" y="247.4" width="3.0" height="3.0" fill="#f00"/>
<rect x="297.5" y="248.1" width="4.0" height="1.7" fill="#f00"/>
<rect x="303.8" y="247.0" width="4.0" height="1.4" fill="#00f"/>
<rect x="263.8" y="241.1" width="3.0" height="3.0" fill="#00f"/>
<rect x="268.8" y="246.2" width="3.0" height="3.0" fill="#00f"/>
<rect x="281.5" y="243.6" width="3.0" height="3.0" fill="#00f"/>
<rect x="273.9" y="255.0" width="3.0" height="3.0" fill="#00f"/>
<rect x="324.8" y="171.5" width="1.7" height="4.0" fill="#f00"/>
<rect x="324.3" y="178.5" width="4.0" height="4.0" fill="#f00"/>
<rect x="343.8" y="177.1" width="3.0" height="3.0" fill="#f00"/>
<rect x="342.0" y="178.4" width="4.0" height="1.7" fill="#f00"/>
<rect x="345.2" y="179.5" width="4.0" height="1.4" fill="#00f"/>
<rect x="344.9" y="178.2" width="2.0" height="2.0" fill="#000"/>
<rect x="328.3" y="188.5" width="3.0" height="3.0" fill="#f00"/>
<rect x="324.5" y="190.8" width="3.0" height="3.0" fill="#f00"/>
<rect x="333.0" y="191.6" width="1.7" height="4.0" fill="#f00"/>
<rect x="325.3" y="199.2" width="4.0" height="4.0" fill="#f00"/>
<rect x="324.5" y="202.2" width="3.0" height="3.0" fill="#f00"/>
<rect x="341.1" y="206.2" width="4.6" height="1.1" fill="#00f"/><rect x="342.8" y="204.4" width="1.1" height="4.6" fill="#00f"/>
<rect x="376.1" y="197.5" width="1.7" height="4.0" fill="#f00"/>
<rect x="371.9" y="202.2" width="3.0" height="3.0" fill="#f00"/>
<rect x="392.2" y="203.1" width="3.0" height="3.0" fill="#f00"/>
<rect x="333.9" y="217.5" width="2.0" height="2.0" fill="#f00"/>
<rect x="331.1" y="221.5" width="3.0" height="3.0" fill="#f00"/>
<rect x="338.6" y="221.5" width="4.0" height="1.7" fill="#f00"/>
<rect x="328.7" y="227.2" width="4.0" height="1.7" fill="#f00"/>
<rect x="331.6" y="233.4" width="2.0" height="2.0" fill="#f00"/>
<rect x="405.7" y="203.0" width="1.7" height="4.0" fill="#f00"/>
<rect x="459.4" y="200.9" width="4.0" height="1.7" fill="#f00"/>
<rect x="414.8" y="227.7" width="2.0" height="2.0" fill="#f00"/>
<rect x="445.8" y="228.2" width="4.0" height="1.7" fill="#f00"/>
<rect x="554.6" y="239.9" width="4.0" height="1.7" fill="#f00"/>
<rect x="325.1" y="285.7" width="3.0" height="3.0" fill="#f00"/>
<rect x="326.1" y="289.4" width="4.0" height="1.7" fill="#f00"/>
<rect x="339.2" y="290.7" width="4.0" height="1.7" fill="#f00"/>
<rect x="330.8" y="291.7" width="3.0" height="3.0" fill="#f00"/>
<rect x="323.7" y="282.8" width="4.0" height="1.7" fill="#f00"/>
<rect x="325.1" y="296.1" width="4.0" height="1.7" fill="#f00"/>
<rect x="327.2" y="289.9" width="4.0" height="4.0" fill="#f00"/>
<rect x="331.5" y="294.9" width="4.6" height="1.4" fill="#f00"/><rect x="333.1" y="293.3" width="1.4" height="4.6" fill="#f00"/>
<rect x="322.9" y="297.4" width="4.6" height="1.4" fill="#f00"/><rect x="324.5" y="295.8" width="1.4" height="4.6" fill="#f00"/>
<rect x="323.3" y="283.4" width="4.0" height="4.0" fill="#f00"/>
<rect x="334.5" y="296.4" width="4.0" height="1.7" fill="#f00"/>
<rect x="325.1" y="294.5" width="1.7" height="4.0" fill="#f00"/>
<rect x="338.3" y="297.1" width="3.0" height="3.0" fill="#f00"/>
<rect x="328.1" y="283.6" width="1.7" height="4.0" fill="#f00"/>
<rect x="328.8" y="283.4" width="4.0" height="1.7" fill="#f00"/>
<rect x="334.8" y="295.2" width="3.0" height="3.0" fill="#f00"/>
<rect x="331.4" y="291.7" width="4.0" height="4.0" fill="#f00"/>
<rect x="327.3" y="287.8" width="4.0" height="1.7" fill="#f00"/>
<rect x="333.6" y="295.9" width="3.0" height="3.0" fill="#f00"/>
<rect x="326.1" y="295.8" width="3.0" height="3.0" fill="#f00"/>
<rect x="332.5" y="283.8" width="4.6" height="1.4" fill="#f00"/><rect x="334.1" y="282.2" width="1.4" height="4.6" fill="#f00"/>
<rect x="323.2" y="284.0" width="4.0" height="1.7" fill="#f00"/>
<rect x="330.4" y="289.0" width="4.6" height="1.4" fill="#f00"/><rect x="332.0" y="287.4" width="1.4" height="4.6" fill="#f00"/>
<rect x="328.0" y="282.2" width="4.6" height="1.4" fill="#f00"/><rect x="329.6" y="280.6" width="1.4" height="4.6" fill="#f00"/>
<rect x="334.7" y="287.7" width="4.0" height="4.0" fill="#f00"/>
<rect x="324.5" y="284.1" width="3.0" height="3.0" fill="#f00"/>
<rect x="330.5" y="295.1" width="4.6" height="1.4" fill="#f00"/><rect x="332.1" y="293.5" width="1.4" height="4.6" fill="#f00"/>
<rect x="339.3" y="295.1" width="3.0" height="3.0" fill="#f00"/>
<rect x="333.6" y="288.1" width="4.0" height="4.0" fill="#f00"/>
<rect x="326.7" y="292.4" width="4.0" height="1.7" fill="#f00"/>
<rect x="333.4" y="288.3" width="3.0" height="3.0" fill="#f00"/>
<rect x="327.9" y="282.0" width="3.0" height="3.0" fill="#f00"/>
<rect x="324.0" y="295.0" width="4.0" height="1.7" fill="#f00"/>
<rect x="323.3" y="294.2" width="4.0" height="1.7" fill="#f00"/>
<rect x="331.2" y="297.3" width="4.0" height="1.7" fill="#f00"/>
<rect x="328.3" y="286.6" width="1.7" height="4.0" fill="#f00"/>
<rect x="341.9" y="296.4" width="1.7" height="4.0" fill="#f00"/>
<rect x="331.2" y="282.3" width="3.0" height="3.0" fill="#f00"/>
<rect x="329.4" y="286.7" width="4.0" height="4.0" fill="#f00"/>
<rect x="335.6" y="287.0" width="4.0" height="1.7" fill="#f00"/>
<rect x="333.8" y="295.3" width="4.6" height="1.4" fill="#f00"/><rect x="335.4" y="293.7" width="1.4" height="4.6" fill="#f00"/>
<rect x="327.6" y="286.6" width="4.6" height="1.4" fill="#f00"/><rect x="329.2" y="285.0" width="1.4" height="4.6" fill="#f00"/>
<rect x="330.7" y="290.1" width="3.0" height="3.0" fill="#f00"/>
<rect x="327.6" y="294.4" width="1.7" height="4.0" fill="#f00"/>
<rect x="331.5" y="289.4" width="3.0" height="3.0" fill="#f00"/>
<rect x="325.6" y="290.6" width="3.0" height="3.0" fill="#f00"/>
<rect x="331.6" y="288.6" width="4.0" height="1.7" fill="#f00"/>
<rect x="331.6" y="234.6" width="2.0" height="2.0" fill="#f00"/>
<rect x="326.5" y="235.3" width="2.0" height="2.0" fill="#c8c8c8"/>
<rect x="352.8" y="239.9" width="4.0" height="1.7" fill="#c8c8c8"/>
<rect x="395.5" y="243.0" width="3.0" height="3.0" fill="#f00"/>
<rect x="391.1" y="245.4" width="1.7" height="4.0" fill="#f00"/>
<rect x="375.0" y="249.8" width="2.0" height="2.0" fill="#00f"/>
<rect x="357.5" y="260.7" width="3.0" height="3.0" fill="#f00"/>
<rect x="360.5" y="262.4" width="3.0" height="3.0" fill="#f00"/>
<rect x="371.8" y="264.1" width="4.0" height="4.0" fill="#f00"/>
<rect x="371.0" y="266.2" width="3.0" height="3.0" fill="#f00"/>
<rect x="344.4" y="263.4" width="1.7" height="4.0" fill="#f00"/>
<rect x="328.1" y="265.8" width="4.0" height="1.4" fill="#00f"/>
<rect x="336.9" y="267.7" width="4.0" height="1.7" fill="#f00"/>
<rect x="350.6" y="270.5" width="2.0" height="2.0" fill="#f00"/>
<rect x="356.2" y="270.9" width="3.0" height="3.0" fill="#f00"/>
<rect x="332.2" y="272.2" width="4.6" height="1.1" fill="#00f"/><rect x="333.9" y="270.5" width="1.1" height="4.6" fill="#00f"/>
<rect x="325.2" y="272.4" width="4.6" height="1.1" fill="#00f"/><rect x="327.0" y="270.7" width="1.1" height="4.6" fill="#00f"/>
<rect x="334.4" y="270.4" width="4.0" height="1.4" fill="#00f"/>
<rect x="325.3" y="269.5" width="2.0" height="2.0" fill="#f00"/>
<rect x="366.8" y="274.6" width="1.4" height="4.0" fill="#00f"/>
<rect x="344.9" y="276.3" width="4.6" height="1.1" fill="#00f"/><rect x="346.6" y="274.5" width="1.1" height="4.6" fill="#00f"/>
<rect x="337.2" y="280.6" width="6.0" height="1.4" fill="#00f"/>
<rect x="337.5" y="276.1" width="1.7" height="4.0" fill="#f00"/>
<rect x="343.6" y="285.8" width="4.6" height="1.1" fill="#00f"/><rect x="345.3" y="284.0" width="1.1" height="4.6" fill="#00f"/>
<rect x="342.5" y="283.6" width="3.0" height="3.0" fill="#f00"/>
<rect x="328.6" y="280.4" width="3.0" height="3.0" fill="#f00"/>
<rect x="325.3" y="275.8" width="2.0" height="2.0" fill="#f00"/>
<rect x="330.6" y="285.0" width="4.0" height="4.0" fill="#00f"/>
<rect x="354.4" y="285.3" width="2.0" height="2.0" fill="#00f"/>
<rect x="358.2" y="284.7" width="2.0" height="2.0" fill="#c8c8c8"/>
<rect x="359.0" y="288.6" width="3.0" height="3.0" fill="#f00"/>
<rect x="360.0" y="289.9" width="6.0" height="1.7" fill="#f00"/>
<rect x="366.6" y="286.7" width="3.0" height="3.0" fill="#f00"/>
<rect x="367.9" y="292.4" width="3.0" height="3.0" fill="#f00"/>
<rect x="370.4" y="295.6" width="3.0" height="3.0" fill="#f00"/>
<rect x="356.5" y="290.5" width="3.0" height="3.0" fill="#f00"/>
<rect x="363.6" y="288.6" width="4.0" height="1.7" fill="#000"/>
<rect x="360.4" y="292.9" width="4.0" height="1.4" fill="#00f"/>
<rect x="380.1" y="291.6" width="1.4" height="4.0" fill="#00f"/>
<rect x="375.5" y="286.5" width="3.0" height="3.0" fill="#f00"/>
<rect x="388.1" y="285.5" width="3.0" height="3.0" fill="#f00"/>
<rect x="392.6" y="282.9" width="3.0" height="3.0" fill="#f00"/>
<rect x="396.8" y="286.4" width="4.0" height="1.7" fill="#f00"/>
<rect x="392.1" y="272.2" width="4.0" height="1.7" fill="#c8c8c8"/>
<rect x="392.5" y="276.0" width="4.0" height="1.7" fill="#f00"/>
<rect x="403.6" y="260.9" width="2.0" height="2.0" fill="#f00"/>
<rect x="350.7" y="294.1" width="3.0" height="3.0" fill="#00f"/>
<rect x="354.1" y="296.4" width="4.0" height="1.4" fill="#00f"/>
<rect x="343.8" y="295.6" width="3.0" height="3.0" fill="#f00"/>
<rect x="377.4" y="296.2" width="3.0" height="3.0" fill="#00f"/>
<rect x="430.8" y="242.1" width="1.7" height="4.0" fill="#f00"/>
<rect x="467.6" y="250.4" width="4.0" height="1.7" fill="#f00"/>
<rect x="404.9" y="261.1" width="4.0" height="1.7" fill="#f00"/>
<rect x="437.2" y="262.4" width="4.6" height="1.4" fill="#f00"/><rect x="438.8" y="260.8" width="1.4" height="4.6" fill="#f00"/>
<rect x="452.9" y="260.4" width="3.0" height="3.0" fill="#f00"/>
<rect x="455.9" y="263.7" width="1.7" height="4.0" fill="#f00"/>
<rect x="425.8" y="267.2" width="2.0" height="2.0" fill="#f00"/>
<rect x="406.7" y="271.3" width="1.7" height="4.0" fill="#f00"/>
<rect x="409.2" y="276.1" width="1.7" height="4.0" fill="#f00"/>
<rect x="426.3" y="272.5" width="1.7" height="4.0" fill="#f00"/>
<rect x="433.7" y="272.6" width="6.0" height="1.7" fill="#f00"/>
<rect x="424.9" y="278.6" width="2.0" height="2.0" fill="#f00"/>
<rect x="446.7" y="276.6" width="4.0" height="1.7" fill="#c8c8c8"/>
<rect x="468.0" y="271.8" width="2.0" height="2.0" fill="#f00"/>
<rect x="406.4" y="286.7" width="6.0" height="1.7" fill="#f00"/>
<rect x="410.9" y="285.5" width="3.0" height="3.0" fill="#f00"/>
<rect x="415.4" y="286.0" width="2.0" height="2.0" fill="#00f"/>
<rect x="445.2" y="284.3" width="2.0" height="2.0" fill="#f00"/>
<rect x="458.2" y="284.4" width="2.0" height="2.0" fill="#f00"/>
<rect x="464.1" y="283.6" width="4.0" height="1.7" fill="#f00"/>
<rect x="477.0" y="283.2" width="3.0" height="3.0" fill="#f00"/>
<rect x="422.9" y="289.7" width="1.7" height="4.0" fill="#f00"/>
<rect x="435.8" y="291.4" width="3.0" height="3.0" fill="#f00"/>
<rect x="422.6" y="295.9" width="4.0" height="1.7" fill="#c8c8c8"/>
<rect x="449.0" y="293.6" width="4.6" height="1.4" fill="#f00"/><rect x="450.6" y="292.0" width="1.4" height="4.6" fill="#f00"/>
<rect x="448.6" y="295.4" width="4.0" height="1.7" fill="#f00"/>
<rect x="503.0" y="260.6" width="2.0" height="2.0" fill="#f00"/>
<rect x="498.1" y="265.7" width="1.7" height="4.0" fill="#f00"/>
<rect x="520.9" y="265.7" width="1.7" height="4.0" fill="#f00"/>
<rect x="510.6" y="279.5" width="4.0" height="1.7" fill="#f00"/>
<rect x="556.8" y="287.4" width="4.0" height="1.7" fill="#f00"/>
<rect x="563.6" y="287.5" width="2.0" height="2.0" fill="#f00"/>
<rect x="571.7" y="251.9" width="4.0" height="1.7" fill="#f00"/>
<rect x="605.4" y="270.8" width="4.6" height="1.4" fill="#f00"/><rect x="607.0" y="269.2" width="1.4" height="4.6" fill="#f00"/>
<rect x="570.1" y="282.3" width="3.0" height="3.0" fill="#f00"/>
<rect x="565.7" y="286.2" width="1.7" height="4.0" fill="#f00"/>
<rect x="604.8" y="284.4" width="2.0" height="2.0" fill="#f00"/>
<rect x="628.5" y="288.8" width="4.6" height="1.4" fill="#f00"/><rect x="630.1" y="287.2" width="1.4" height="4.6" fill="#f00"/>
<rect x="160.9" y="322.3" width="4.0" height="1.7" fill="#f00"/>
<rect x="149.7" y="362.6" width="1.7" height="4.0" fill="#f00"/>
<rect x="112.3" y="389.8" width="1.4" height="4.0" fill="#00f"/>
<rect x="165.8" y="325.0" width="4.0" height="1.7" fill="#f00"/>
<rect x="206.6" y="309.0" width="1.7" height="4.0" fill="#f00"/>
<rect x="215.3" y="314.8" width="4.6" height="1.4" fill="#f00"/><rect x="216.9" y="313.2" width="1.4" height="4.6" fill="#f00"/>
<rect x="240.6" y="311.2" width="4.0" height="1.7" fill="#f00"/>
<rect x="239.9" y="319.6" width="1.7" height="4.0" fill="#f00"/>
<rect x="241.1" y="319.0" width="3.0" height="3.0" fill="#f00"/>
<rect x="238.9" y="326.4" width="3.0" height="3.0" fill="#f00"/>
<rect x="230.7" y="330.7" width="3.0" height="3.0" fill="#f00"/>
<rect x="242.6" y="331.9" width="4.0" height="1.4" fill="#00f"/>
<rect x="228.8" y="335.5" width="3.0" height="3.0" fill="#f00"/>
<rect x="226.0" y="337.3" width="1.7" height="4.0" fill="#f00"/>
<rect x="234.6" y="337.9" width="4.0" height="1.4" fill="#00f"/>
<rect x="239.0" y="335.8" width="4.6" height="1.1" fill="#00f"/><rect x="240.7" y="334.1" width="1.1" height="4.6" fill="#00f"/>
<rect x="240.8" y="336.8" width="3.0" height="3.0" fill="#f00"/>
<rect x="228.8" y="342.5" width="3.0" height="3.0" fill="#f00"/>
<rect x="230.7" y="345.4" width="3.0" height="3.0" fill="#f00"/>
<rect x="234.6" y="346.3" width="4.0" height="1.7" fill="#000"/>
<rect x="241.2" y="342.4" width="1.7" height="4.0" fill="#f00"/>
<rect x="243.5" y="340.7" width="1.4" height="4.0" fill="#00f"/>
<rect x="209.6" y="346.7" width="4.6" height="1.4" fill="#f00"/><rect x="211.2" y="345.1" width="1.4" height="4.6" fill="#f00"/>
<rect x="200.9" y="352.5" width="1.7" height="4.0" fill="#f00"/>
<rect x="218.5" y="356.5" width="4.6" height="1.1" fill="#00f"/><rect x="220.2" y="354.7" width="1.1" height="4.6" fill="#00f"/>
<rect x="237.7" y="356.1" width="4.6" height="1.1" fill="#00f"/><rect x="239.5" y="354.4" width="1.1" height="4.6" fill="#00f"/>
<rect x="242.7" y="345.7" width="3.0" height="3.0" fill="#f00"/>
<rect x="243.4" y="356.6" width="1.7" height="4.0" fill="#f00"/>
<rect x="225.4" y="359.6" width="3.0" height="3.0" fill="#f00"/>
<rect x="211.0" y="360.2" width="3.0" height="3.0" fill="#f00"/>
<rect x="234.0" y="361.5" width="4.0" height="1.7" fill="#f00"/>
<rect x="202.0" y="361.4" width="2.0" height="2.0" fill="#f00"/>
<rect x="248.1" y="299.6" width="4.0" height="1.4" fill="#00f"/>
<rect x="253.4" y="298.8" width="6.0" height="1.7" fill="#f00"/>
<rect x="258.9" y="299.5" width="1.4" height="4.0" fill="#00f"/>
<rect x="262.5" y="302.6" width="3.0" height="3.0" fill="#f00"/>
<rect x="262.0" y="302.1" width="4.0" height="4.0" fill="#000"/>
<rect x="260.0" y="304.5" width="3.0" height="3.0" fill="#f00"/>
<rect x="267.8" y="300.2" width="1.4" height="4.0" fill="#00f"/>
<rect x="271.4" y="302.7" width="1.7" height="4.0" fill="#f00"/>
<rect x="274.1" y="298.3" width="1.4" height="4.0" fill="#00f"/>
<rect x="278.5" y="299.6" width="4.0" height="1.4" fill="#00f"/>
<rect x="278.2" y="300.5" width="2.0" height="2.0" fill="#f00"/>
<rect x="287.2" y="298.9" width="1.7" height="4.0" fill="#f00"/>
<rect x="292.7" y="301.3" width="6.0" height="1.7" fill="#f00"/>
<rect x="301.6" y="302.0" width="6.0" height="1.7" fill="#f00"/>
<rect x="298.8" y="303.9" width="4.0" height="1.7" fill="#f00"/>
<rect x="312.1" y="299.6" width="4.0" height="1.4" fill="#00f"/>
<rect x="318.9" y="298.3" width="1.7" height="4.0" fill="#f00"/>
<rect x="250.3" y="304.3" width="2.0" height="2.0" fill="#f00"/>
<rect x="274.6" y="304.6" width="1.7" height="4.0" fill="#f00"/>
<rect x="270.1" y="305.1" width="3.0" height="3.0" fill="#f00"/>
<rect x="245.9" y="310.7" width="2.0" height="2.0" fill="#f00"/>
<rect x="246.0" y="314.6" width="3.0" height="3.0" fill="#f00"/>
<rect x="246.5" y="315.7" width="2.0" height="2.0" fill="#000"/>
<rect x="250.0" y="314.8" width="4.0" height="1.4" fill="#00f"/>
<rect x="253.2" y="315.4" width="1.4" height="4.0" fill="#00f"/>
<rect x="256.9" y="313.4" width="4.0" height="1.7" fill="#f00"/>
<rect x="255.7" y="317.3" width="4.0" height="1.4" fill="#00f"/>
<rect x="263.2" y="307.1" width="1.7" height="4.0" fill="#f00"/>
<rect x="267.6" y="306.4" width="3.0" height="3.0" fill="#f00"/>
<rect x="285.3" y="307.6" width="3.0" height="3.0" fill="#00f"/>
<rect x="288.4" y="309.4" width="2.0" height="2.0" fill="#f00"/>
<rect x="292.9" y="308.9" width="3.0" height="3.0" fill="#f00"/>
<rect x="292.8" y="310.0" width="2.0" height="2.0" fill="#00f"/>
<rect x="298.0" y="306.4" width="3.0" height="3.0" fill="#000"/>
<rect x="301.3" y="307.0" width="4.0" height="1.7" fill="#f00"/>
<rect x="306.4" y="309.6" width="4.0" height="1.7" fill="#f00"/>
<rect x="305.6" y="313.5" width="1.7" height="4.0" fill="#f00"/>
<rect x="308.1" y="315.2" width="3.0" height="3.0" fill="#00f"/>
<rect x="310.0" y="314.6" width="3.0" height="3.0" fill="#f00"/>
<rect x="314.0" y="312.1" width="4.0" height="1.7" fill="#f00"/>
<rect x="319.5" y="312.7" width="3.0" height="3.0" fill="#f00"/>
<rect x="319.5" y="306.4" width="3.0" height="3.0" fill="#00f"/>
<rect x="321.4" y="306.4" width="3.0" height="3.0" fill="#000"/>
<rect x="311.4" y="305.1" width="4.0" height="1.7" fill="#f00"/>
<rect x="263.2" y="317.3" width="1.7" height="4.0" fill="#f00"/>
<rect x="266.4" y="317.8" width="4.0" height="1.7" fill="#f00"/>
<rect x="274.6" y="312.2" width="1.7" height="4.0" fill="#f00"/>
<rect x="275.0" y="319.3" width="4.6" height="1.1" fill="#00f"/><rect x="276.7" y="317.6" width="1.1" height="4.6" fill="#00f"/>
<rect x="277.1" y="314.0" width="3.0" height="3.0" fill="#f00"/>
<rect x="279.8" y="320.3" width="4.0" height="1.7" fill="#f00"/>
<rect x="283.8" y="320.7" width="6.0" height="1.7" fill="#f00"/>
<rect x="295.0" y="319.2" width="1.4" height="4.0" fill="#00f"/>
<rect x="298.0" y="320.3" width="3.0" height="3.0" fill="#f00"/>
<rect x="288.4" y="315.7" width="2.0" height="2.0" fill="#f00"/>
<rect x="295.0" y="314.6" width="4.0" height="1.7" fill="#f00"/>
<rect x="314.5" y="317.8" width="3.0" height="3.0" fill="#f00"/>
<rect x="319.5" y="319.0" width="3.0" height="3.0" fill="#f00"/>
<rect x="254.9" y="319.0" width="3.0" height="3.0" fill="#f00"/>
<rect x="245.5" y="319.7" width="4.0" height="1.7" fill="#f00"/>
<rect x="249.7" y="319.5" width="2.0" height="2.0" fill="#00f"/>
<rect x="276.2" y="325.4" width="6.0" height="1.7" fill="#f00"/>
<rect x="280.9" y="324.7" width="3.0" height="3.0" fill="#000"/>
<rect x="272.7" y="327.4" width="1.7" height="4.0" fill="#f00"/>
<rect x="283.6" y="327.3" width="4.0" height="1.7" fill="#f00"/>
<rect x="294.8" y="324.2" width="1.7" height="4.0" fill="#f00"/>
<rect x="304.8" y="326.9" width="4.6" height="1.1" fill="#00f"/><rect x="306.5" y="325.2" width="1.1" height="4.6" fill="#00f"/>
<rect x="310.2" y="328.6" width="4.0" height="1.7" fill="#f00"/>
<rect x="317.0" y="331.1" width="3.0" height="3.0" fill="#f00"/>
<rect x="291.9" y="326.2" width="1.4" height="4.0" fill="#00f"/>
<rect x="262.5" y="326.7" width="3.0" height="3.0" fill="#f00"/>
<rect x="254.9" y="326.7" width="3.0" height="3.0" fill="#f00"/>
<rect x="250.0" y="326.8" width="1.4" height="4.0" fill="#00f"/>
<rect x="252.4" y="330.5" width="3.0" height="3.0" fill="#f00"/>
<rect x="247.8" y="333.5" width="2.0" height="2.0" fill="#f00"/>
<rect x="260.0" y="333.6" width="3.0" height="3.0" fill="#00f"/>
<rect x="272.0" y="333.1" width="1.7" height="4.0" fill="#f00"/>
<rect x="275.2" y="335.5" width="3.0" height="3.0" fill="#f00"/>
<rect x="259.4" y="336.3" width="1.7" height="4.0" fill="#f00"/>
<rect x="245.8" y="337.6" width="6.0" height="1.4" fill="#00f"/>
<rect x="250.6" y="338.7" width="4.0" height="1.7" fill="#f00"/>
<rect x="264.4" y="337.4" width="3.0" height="3.0" fill="#f00"/>
<rect x="267.1" y="338.7" width="4.0" height="1.7" fill="#f00"/>
<rect x="288.3" y="339.6" width="4.6" height="1.1" fill="#00f"/><rect x="290.1" y="337.9" width="1.1" height="4.6" fill="#00f"/>
<rect x="294.0" y="337.6" width="6.0" height="1.4" fill="#00f"/>
<rect x="296.7" y="340.6" width="3.0" height="3.0" fill="#f00"/>
<rect x="303.7" y="340.1" width="1.7" height="4.0" fill="#f00"/>
<rect x="313.8" y="334.9" width="3.0" height="3.0" fill="#f00"/>
<rect x="312.6" y="337.6" width="1.7" height="4.0" fill="#f00"/>
<rect x="319.5" y="339.3" width="3.0" height="3.0" fill="#f00"/>
<rect x="287.9" y="335.5" width="3.0" height="3.0" fill="#c8c8c8"/>
<rect x="295.5" y="340.6" width="3.0" height="3.0" fill="#c8c8c8"/>
<rect x="244.5" y="346.3" width="6.0" height="1.7" fill="#f00"/>
<rect x="244.1" y="341.9" width="3.0" height="3.0" fill="#00f"/>
<rect x="256.2" y="345.7" width="3.0" height="3.0" fill="#f00"/>
<rect x="260.5" y="342.4" width="2.0" height="2.0" fill="#f00"/>
<rect x="264.4" y="341.2" width="3.0" height="3.0" fill="#f00"/>
<rect x="274.7" y="341.9" width="4.0" height="1.7" fill="#f00"/>
<rect x="279.0" y="343.8" width="3.0" height="3.0" fill="#f00"/>
<rect x="282.2" y="341.9" width="3.0" height="3.0" fill="#f00"/>
<rect x="287.9" y="344.4" width="3.0" height="3.0" fill="#f00"/>
<rect x="292.5" y="345.2" width="1.4" height="4.0" fill="#00f"/>
<rect x="303.8" y="346.9" width="4.0" height="1.7" fill="#f00"/>
<rect x="311.4" y="349.0" width="4.0" height="1.4" fill="#00f"/>
<rect x="319.5" y="341.9" width="3.0" height="3.0" fill="#f00"/>
<rect x="320.0" y="343.4" width="2.0" height="2.0" fill="#00f"/>
<rect x="251.8" y="347.1" width="1.7" height="4.0" fill="#f00"/>
<rect x="261.7" y="351.7" width="4.6" height="1.1" fill="#00f"/><rect x="263.4" y="349.9" width="1.1" height="4.6" fill="#00f"/>
<rect x="276.5" y="348.8" width="3.0" height="3.0" fill="#f00"/>
<rect x="277.7" y="350.7" width="3.0" height="3.0" fill="#f00"/>
<rect x="280.1" y="351.0" width="4.6" height="1.1" fill="#00f"/><rect x="281.8" y="349.3" width="1.1" height="4.6" fill="#00f"/>
<rect x="287.9" y="350.7" width="3.0" height="3.0" fill="#f00"/>
<rect x="287.2" y="353.3" width="3.0" height="3.0" fill="#f00"/>
<rect x="296.7" y="349.5" width="3.0" height="3.0" fill="#f00"/>
<rect x="296.0" y="353.8" width="2.0" height="2.0" fill="#00f"/>
<rect x="299.3" y="352.0" width="3.0" height="3.0" fill="#f00"/>
<rect x="302.6" y="357.1" width="4.0" height="1.7" fill="#f00"/>
<rect x="318.7" y="356.1" width="4.6" height="1.1" fill="#00f"/><rect x="320.5" y="354.4" width="1.1" height="4.6" fill="#00f"/>
<rect x="322.1" y="357.1" width="3.0" height="3.0" fill="#f00"/>
<rect x="249.2" y="354.0" width="1.7" height="4.0" fill="#f00"/>
<rect x="251.9" y="353.4" width="1.4" height="4.0" fill="#00f"/>
<rect x="259.5" y="357.1" width="4.0" height="1.7" fill="#f00"/>
<rect x="268.8" y="353.3" width="3.0" height="3.0" fill="#f00"/>
<rect x="269.2" y="356.0" width="6.0" height="1.4" fill="#00f"/>
<rect x="275.2" y="356.6" width="1.7" height="4.0" fill="#000"/>
<rect x="273.9" y="359.6" width="3.0" height="3.0" fill="#f00"/>
<rect x="284.6" y="356.9" width="2.0" height="2.0" fill="#f00"/>
<rect x="286.6" y="357.1" width="3.0" height="3.0" fill="#f00"/>
<rect x="293.7" y="357.9" width="4.0" height="1.4" fill="#00f"/>
<rect x="301.0" y="360.5" width="4.6" height="1.1" fill="#00f"/><rect x="302.7" y="358.8" width="1.1" height="4.6" fill="#00f"/>
<rect x="314.0" y="360.3" width="4.0" height="1.7" fill="#f00"/>
<rect x="256.7" y="360.7" width="2.0" height="2.0" fill="#f00"/>
<rect x="245.3" y="356.3" width="2.0" height="2.0" fill="#f00"/>
<rect x="246.0" y="360.2" width="3.0" height="3.0" fill="#f00"/>
<rect x="364.1" y="313.0" width="4.0" height="4.0" fill="#f00"/>
<rect x="390.3" y="320.5" width="4.0" height="4.0" fill="#f00"/>
<rect x="347.0" y="305.7" width="4.6" height="1.4" fill="#f00"/><rect x="348.6" y="304.1" width="1.4" height="4.6" fill="#f00"/>
<rect x="366.3" y="314.0" width="3.0" height="3.0" fill="#f00"/>
<rect x="340.1" y="297.2" width="4.0" height="4.0" fill="#f00"/>
<rect x="389.5" y="319.5" width="3.0" height="3.0" fill="#f00"/>
<rect x="397.9" y="326.5" width="4.6" height="1.4" fill="#f00"/><rect x="399.5" y="324.9" width="1.4" height="4.6" fill="#f00"/>
<rect x="341.2" y="299.8" width="4.0" height="1.7" fill="#f00"/>
<rect x="381.3" y="314.2" width="4.0" height="4.0" fill="#f00"/>
<rect x="386.0" y="327.5" width="4.0" height="4.0" fill="#f00"/>
<rect x="393.1" y="321.2" width="4.0" height="1.7" fill="#f00"/>
<rect x="388.7" y="327.0" width="4.0" height="4.0" fill="#f00"/>
<rect x="345.1" y="297.8" width="1.7" height="4.0" fill="#f00"/>
<rect x="356.5" y="309.2" width="4.0" height="1.7" fill="#f00"/>
<rect x="356.6" y="304.7" width="3.0" height="3.0" fill="#f00"/>
<rect x="394.5" y="325.0" width="4.0" height="1.7" fill="#f00"/>
<rect x="396.4" y="333.5" width="1.7" height="4.0" fill="#f00"/>
<rect x="389.1" y="316.6" width="4.0" height="1.7" fill="#f00"/>
<rect x="395.7" y="328.2" width="4.0" height="4.0" fill="#f00"/>
<rect x="347.6" y="303.8" width="3.0" height="3.0" fill="#f00"/>
<rect x="374.1" y="320.5" width="4.6" height="1.4" fill="#f00"/><rect x="375.7" y="318.9" width="1.4" height="4.6" fill="#f00"/>
<rect x="329.4" y="301.3" width="4.0" height="1.7" fill="#f00"/>
<rect x="345.5" y="307.2" width="4.6" height="1.4" fill="#f00"/><rect x="347.1" y="305.6" width="1.4" height="4.6" fill="#f00"/>
<rect x="397.8" y="335.2" width="3.0" height="3.0" fill="#f00"/>
<rect x="334.2" y="300.2" width="3.0" height="3.0" fill="#f00"/>
<rect x="355.8" y="302.7" width="4.6" height="1.4" fill="#f00"/><rect x="357.4" y="301.1" width="1.4" height="4.6" fill="#f00"/>
<rect x="374.6" y="310.8" width="3.0" height="3.0" fill="#f00"/>
<rect x="395.2" y="329.9" width="1.7" height="4.0" fill="#f00"/>
<rect x="398.8" y="327.6" width="4.0" height="4.0" fill="#f00"/>
<rect x="389.9" y="315.7" width="1.7" height="4.0" fill="#f00"/>
<rect x="357.7" y="302.2" width="4.0" height="4.0" fill="#f00"/>
<rect x="396.5" y="329.4" width="4.0" height="4.0" fill="#f00"/>
<rect x="386.9" y="317.8" width="4.0" height="1.7" fill="#f00"/>
<rect x="337.7" y="305.4" width="4.6" height="1.4" fill="#f00"/><rect x="339.3" y="303.8" width="1.4" height="4.6" fill="#f00"/>
<rect x="356.9" y="302.7" width="3.0" height="3.0" fill="#f00"/>
<rect x="400.7" y="333.0" width="4.0" height="1.7" fill="#f00"/>
<rect x="391.4" y="317.1" width="3.0" height="3.0" fill="#f00"/>
<rect x="330.0" y="301.5" width="4.0" height="1.7" fill="#f00"/>
<rect x="397.8" y="327.4" width="4.0" height="4.0" fill="#f00"/>
<rect x="394.0" y="333.7" width="3.0" height="3.0" fill="#f00"/>
<rect x="389.8" y="330.1" width="4.0" height="4.0" fill="#f00"/>
<rect x="334.4" y="301.8" width="4.0" height="1.7" fill="#f00"/>
<rect x="388.7" y="325.1" width="4.0" height="1.7" fill="#f00"/>
<rect x="355.3" y="302.3" width="1.7" height="4.0" fill="#f00"/>
<rect x="360.3" y="307.5" width="4.0" height="4.0" fill="#f00"/>
<rect x="403.3" y="329.8" width="3.0" height="3.0" fill="#f00"/>
<rect x="334.1" y="302.8" width="4.6" height="1.4" fill="#f00"/><rect x="335.7" y="301.2" width="1.4" height="4.6" fill="#f00"/>
<rect x="389.5" y="326.0" width="4.0" height="1.7" fill="#f00"/>
<rect x="343.3" y="307.2" width="4.0" height="1.7" fill="#f00"/>
<rect x="384.2" y="321.2" width="3.0" height="3.0" fill="#f00"/>
<rect x="367.6" y="312.5" width="4.0" height="1.7" fill="#f00"/>
<rect x="387.6" y="327.3" width="4.0" height="1.7" fill="#f00"/>
<rect x="359.3" y="313.6" width="4.0" height="1.7" fill="#f00"/>
<rect x="334.5" y="298.5" width="4.6" height="1.4" fill="#f00"/><rect x="336.1" y="296.9" width="1.4" height="4.6" fill="#f00"/>
<rect x="352.6" y="311.9" width="4.0" height="1.7" fill="#f00"/>
<rect x="385.7" y="323.8" width="4.0" height="1.7" fill="#f00"/>
<rect x="386.2" y="327.5" width="3.0" height="3.0" fill="#f00"/>
<rect x="385.7" y="320.5" width="4.0" height="1.7" fill="#f00"/>
<rect x="396.0" y="326.3" width="4.6" height="1.4" fill="#f00"/><rect x="397.6" y="324.7" width="1.4" height="4.6" fill="#f00"/>
<rect x="364.4" y="315.3" width="4.0" height="1.7" fill="#f00"/>
<rect x="382.3" y="317.6" width="1.7" height="4.0" fill="#f00"/>
<rect x="351.3" y="309.8" width="4.0" height="1.7" fill="#f00"/>
<rect x="394.2" y="328.4" width="4.6" height="1.4" fill="#f00"/><rect x="395.8" y="326.8" width="1.4" height="4.6" fill="#f00"/>
<rect x="366.3" y="311.1" width="4.6" height="1.4" fill="#f00"/><rect x="367.9" y="309.5" width="1.4" height="4.6" fill="#f00"/>
<rect x="375.0" y="311.0" width="3.0" height="3.0" fill="#f00"/>
<rect x="345.1" y="301.6" width="4.0" height="1.7" fill="#f00"/>
<rect x="339.1" y="299.9" width="4.6" height="1.4" fill="#f00"/><rect x="340.7" y="298.3" width="1.4" height="4.6" fill="#f00"/>
<rect x="394.3" y="319.6" width="1.7" height="4.0" fill="#f00"/>
<rect x="392.5" y="331.9" width="4.6" height="1.4" fill="#f00"/><rect x="394.1" y="330.3" width="1.4" height="4.6" fill="#f00"/>
<rect x="346.6" y="300.6" width="4.0" height="4.0" fill="#f00"/>
<rect x="386.9" y="318.1" width="4.0" height="1.7" fill="#f00"/>
<rect x="346.7" y="306.2" width="3.0" height="3.0" fill="#f00"/>
<rect x="378.1" y="320.0" width="4.0" height="4.0" fill="#f00"/>
<rect x="356.4" y="301.5" width="3.0" height="3.0" fill="#f00"/>
<rect x="370.8" y="312.8" width="4.0" height="4.0" fill="#f00"/>
<rect x="358.9" y="304.2" width="3.0" height="3.0" fill="#f00"/>
<rect x="373.4" y="320.7" width="4.0" height="1.7" fill="#f00"/>
<rect x="392.2" y="325.3" width="3.0" height="3.0" fill="#f00"/>
<rect x="365.1" y="309.0" width="4.6" height="1.4" fill="#f00"/><rect x="366.7" y="307.4" width="1.4" height="4.6" fill="#f00"/>
<rect x="364.9" y="307.3" width="4.0" height="1.7" fill="#f00"/>
<rect x="330.5" y="298.9" width="3.0" height="3.0" fill="#f00"/>
<rect x="379.2" y="323.9" width="4.0" height="1.7" fill="#f00"/>
<rect x="397.9" y="328.3" width="4.0" height="1.7" fill="#f00"/>
<rect x="380.3" y="313.0" width="1.7" height="4.0" fill="#f00"/>
<rect x="345.8" y="303.6" width="4.0" height="1.7" fill="#f00"/>
<rect x="339.7" y="301.0" width="4.6" height="1.4" fill="#f00"/><rect x="341.3" y="299.4" width="1.4" height="4.6" fill="#f00"/>
<rect x="345.8" y="300.5" width="3.0" height="3.0" fill="#f00"/>
<rect x="345.4" y="304.9" width="4.0" height="4.0" fill="#f00"/>
<rect x="346.6" y="300.9" width="4.0" height="1.7" fill="#f00"/>
<rect x="384.1" y="322.2" width="4.0" height="1.7" fill="#f00"/>
<rect x="397.2" y="327.2" width="3.0" height="3.0" fill="#f00"/>
<rect x="398.0" y="320.7" width="3.0" height="3.0" fill="#f00"/>
<rect x="387.1" y="316.5" width="4.6" height="1.4" fill="#f00"/><rect x="388.7" y="314.9" width="1.4" height="4.6" fill="#f00"/>
<rect x="370.8" y="313.4" width="1.7" height="4.0" fill="#f00"/>
<rect x="370.1" y="313.0" width="4.6" height="1.4" fill="#f00"/><rect x="371.7" y="311.4" width="1.4" height="4.6" fill="#f00"/>
<rect x="348.3" y="305.7" width="4.0" height="4.0" fill="#f00"/>
<rect x="344.7" y="301.4" width="1.7" height="4.0" fill="#f00"/>
<rect x="359.1" y="307.1" width="4.0" height="1.7" fill="#f00"/>
<rect x="374.1" y="316.1" width="4.0" height="1.7" fill="#f00"/>
<rect x="362.7" y="314.6" width="1.7" height="4.0" fill="#f00"/>
<rect x="364.6" y="317.3" width="4.0" height="4.0" fill="#f00"/>
<rect x="356.9" y="307.4" width="3.0" height="3.0" fill="#f00"/>
<rect x="400.8" y="336.4" width="4.6" height="1.4" fill="#f00"/><rect x="402.4" y="334.8" width="1.4" height="4.6" fill="#f00"/>
<rect x="398.9" y="333.2" width="4.0" height="1.7" fill="#f00"/>
<rect x="385.6" y="321.0" width="4.0" height="4.0" fill="#f00"/>
<rect x="343.0" y="303.3" width="4.0" height="1.7" fill="#f00"/>
<rect x="387.0" y="325.5" width="4.6" height="1.4" fill="#f00"/><rect x="388.6" y="323.9" width="1.4" height="4.6" fill="#f00"/>
<rect x="368.5" y="314.6" width="3.0" height="3.0" fill="#f00"/>
<rect x="398.2" y="336.2" width="4.0" height="1.7" fill="#f00"/>
<rect x="398.1" y="337.1" width="4.0" height="1.7" fill="#f00"/>
<rect x="354.7" y="308.9" width="4.0" height="4.0" fill="#f00"/>
<rect x="387.5" y="329.9" width="4.0" height="1.7" fill="#f00"/>
<rect x="401.5" y="324.3" width="1.7" height="4.0" fill="#f00"/>
<rect x="352.4" y="311.4" width="3.0" height="3.0" fill="#f00"/>
<rect x="331.2" y="298.3" width="3.0" height="3.0" fill="#f00"/>
<rect x="373.7" y="310.6" width="1.7" height="4.0" fill="#f00"/>
<rect x="400.7" y="327.5" width="3.0" height="3.0" fill="#f00"/>
<rect x="394.5" y="333.7" width="3.0" height="3.0" fill="#f00"/>
<rect x="364.8" y="314.3" width="4.0" height="1.7" fill="#f00"/>
<rect x="336.9" y="297.6" width="4.0" height="4.0" fill="#000"/>
<rect x="344.5" y="300.2" width="4.0" height="4.0" fill="#000"/>
<rect x="352.7" y="302.6" width="3.0" height="3.0" fill="#000"/>
<rect x="359.8" y="306.5" width="4.0" height="4.0" fill="#000"/>
<rect x="360.9" y="316.5" width="3.0" height="3.0" fill="#000"/>
<rect x="367.2" y="314.0" width="3.0" height="3.0" fill="#000"/>
<rect x="376.2" y="316.0" width="4.0" height="4.0" fill="#000"/>
<rect x="384.3" y="310.2" width="3.0" height="3.0" fill="#000"/>
<rect x="381.8" y="322.8" width="3.0" height="3.0" fill="#000"/>
<rect x="387.6" y="319.2" width="4.0" height="4.0" fill="#000"/>
<rect x="392.1" y="326.8" width="4.0" height="4.0" fill="#000"/>
<rect x="394.0" y="329.3" width="4.0" height="4.0" fill="#000"/>
<rect x="402.1" y="339.3" width="3.0" height="3.0" fill="#000"/>
<rect x="355.2" y="305.1" width="3.0" height="3.0" fill="#000"/>
<rect x="372.9" y="320.3" width="3.0" height="3.0" fill="#000"/>
<rect x="337.4" y="303.2" width="3.0" height="3.0" fill="#00f"/>
<rect x="360.3" y="300.0" width="3.0" height="3.0" fill="#00f"/>
<rect x="369.9" y="298.3" width="4.0" height="4.0" fill="#00f"/>
<rect x="375.0" y="307.1" width="1.4" height="4.0" fill="#00f"/>
<rect x="373.7" y="314.1" width="4.0" height="4.0" fill="#00f"/>
<rect x="367.9" y="315.2" width="3.0" height="3.0" fill="#00f"/>
<rect x="394.0" y="321.7" width="4.0" height="4.0" fill="#00f"/>
<rect x="398.3" y="319.0" width="3.0" height="3.0" fill="#00f"/>
<rect x="402.1" y="339.3" width="3.0" height="3.0" fill="#00f"/>
<rect x="384.3" y="298.8" width="3.0" height="3.0" fill="#00f"/>
<rect x="393.0" y="304.0" width="6.0" height="1.4" fill="#00f"/>
<rect x="399.0" y="304.0" width="4.0" height="1.4" fill="#00f"/>
<rect x="329.2" y="309.5" width="3.0" height="3.0" fill="#f00"/>
<rect x="328.6" y="314.6" width="3.0" height="3.0" fill="#f00"/>
<rect x="332.5" y="316.5" width="4.0" height="1.7" fill="#f00"/>
<rect x="340.6" y="314.7" width="1.7" height="4.0" fill="#f00"/>
<rect x="338.7" y="320.3" width="3.0" height="3.0" fill="#f00"/>
<rect x="325.8" y="320.7" width="6.0" height="1.7" fill="#f00"/>
<rect x="333.8" y="323.6" width="1.4" height="4.0" fill="#00f"/>
<rect x="347.4" y="315.5" width="4.6" height="1.1" fill="#00f"/><rect x="349.1" y="313.8" width="1.1" height="4.6" fill="#00f"/>
<rect x="349.5" y="309.0" width="1.7" height="4.0" fill="#f00"/>
<rect x="346.3" y="324.1" width="3.0" height="3.0" fill="#f00"/>
<rect x="342.0" y="327.3" width="4.0" height="1.7" fill="#f00"/>
<rect x="355.8" y="314.7" width="1.7" height="4.0" fill="#f00"/>
<rect x="356.6" y="324.8" width="4.0" height="1.7" fill="#f00"/>
<rect x="362.3" y="326.2" width="4.0" height="1.4" fill="#00f"/>
<rect x="365.3" y="328.6" width="3.0" height="3.0" fill="#f00"/>
<rect x="367.9" y="330.5" width="3.0" height="3.0" fill="#f00"/>
<rect x="362.2" y="326.8" width="1.7" height="4.0" fill="#f00"/>
<rect x="349.5" y="331.1" width="3.0" height="3.0" fill="#f00"/>
<rect x="343.3" y="336.2" width="4.0" height="1.7" fill="#f00"/>
<rect x="342.0" y="337.6" width="4.0" height="1.4" fill="#00f"/>
<rect x="332.2" y="333.3" width="4.6" height="1.1" fill="#00f"/><rect x="333.9" y="331.6" width="1.1" height="4.6" fill="#00f"/>
<rect x="326.0" y="335.5" width="3.0" height="3.0" fill="#f00"/>
<rect x="330.5" y="338.8" width="1.7" height="4.0" fill="#f00"/>
<rect x="335.7" y="340.6" width="4.0" height="1.7" fill="#f00"/>
<rect x="326.7" y="345.7" width="3.0" height="3.0" fill="#f00"/>
<rect x="331.1" y="344.4" width="3.0" height="3.0" fill="#f00"/>
<rect x="353.5" y="340.7" width="1.4" height="4.0" fill="#00f"/>
<rect x="341.1" y="347.2" width="4.6" height="1.1" fill="#00f"/><rect x="342.8" y="345.5" width="1.1" height="4.6" fill="#00f"/>
<rect x="343.8" y="347.9" width="3.0" height="3.0" fill="#00f"/>
<rect x="347.6" y="345.0" width="3.0" height="3.0" fill="#f00"/>
<rect x="348.8" y="341.2" width="3.0" height="3.0" fill="#f00"/>
<rect x="356.2" y="345.0" width="6.0" height="1.7" fill="#f00"/>
<rect x="361.5" y="347.6" width="3.0" height="3.0" fill="#f00"/>
<rect x="362.8" y="349.5" width="3.0" height="3.0" fill="#f00"/>
<rect x="355.3" y="338.7" width="4.0" height="1.7" fill="#f00"/>
<rect x="382.4" y="330.5" width="3.0" height="3.0" fill="#f00"/>
<rect x="385.1" y="334.9" width="4.0" height="1.7" fill="#f00"/>
<rect x="382.4" y="335.5" width="3.0" height="3.0" fill="#f00"/>
<rect x="394.5" y="338.1" width="3.0" height="3.0" fill="#f00"/>
<rect x="398.3" y="336.8" width="3.0" height="3.0" fill="#f00"/>
<rect x="374.7" y="338.3" width="2.0" height="2.0" fill="#00f"/>
<rect x="373.1" y="343.4" width="4.6" height="1.1" fill="#00f"/><rect x="374.9" y="341.7" width="1.1" height="4.6" fill="#00f"/>
<rect x="379.3" y="348.2" width="3.0" height="3.0" fill="#f00"/>
<rect x="381.8" y="350.7" width="3.0" height="3.0" fill="#f00"/>
<rect x="376.7" y="349.5" width="3.0" height="3.0" fill="#f00"/>
<rect x="391.8" y="349.1" width="4.6" height="1.1" fill="#00f"/><rect x="393.5" y="347.4" width="1.1" height="4.6" fill="#00f"/>
<rect x="397.8" y="350.7" width="4.0" height="1.7" fill="#f00"/>
<rect x="372.2" y="346.2" width="2.0" height="2.0" fill="#f00"/>
<rect x="369.6" y="345.5" width="2.0" height="2.0" fill="#c8c8c8"/>
<rect x="336.7" y="351.2" width="2.0" height="2.0" fill="#f00"/>
<rect x="335.7" y="353.9" width="4.0" height="1.7" fill="#f00"/>
<rect x="327.9" y="355.8" width="3.0" height="3.0" fill="#f00"/>
<rect x="329.8" y="357.1" width="3.0" height="3.0" fill="#f00"/>
<rect x="357.9" y="356.5" width="4.0" height="1.7" fill="#f00"/>
<rect x="361.5" y="355.8" width="3.0" height="3.0" fill="#f00"/>
<rect x="356.5" y="353.9" width="3.0" height="3.0" fill="#f00"/>
<rect x="367.4" y="356.6" width="1.4" height="4.0" fill="#00f"/>
<rect x="368.7" y="354.7" width="1.4" height="4.0" fill="#00f"/>
<rect x="374.8" y="354.0" width="1.7" height="4.0" fill="#000"/>
<rect x="370.4" y="359.6" width="3.0" height="3.0" fill="#f00"/>
<rect x="386.3" y="354.7" width="1.7" height="4.0" fill="#f00"/>
<rect x="394.0" y="355.2" width="4.0" height="1.7" fill="#c8c8c8"/>
<rect x="326.0" y="359.6" width="3.0" height="3.0" fill="#f00"/>
<rect x="400.8" y="359.6" width="3.0" height="3.0" fill="#f00"/>
<rect x="379.3" y="310.2" width="3.0" height="3.0" fill="#f00"/>
<rect x="387.5" y="310.2" width="3.0" height="3.0" fill="#f00"/>
<rect x="395.1" y="313.5" width="1.7" height="4.0" fill="#f00"/>
<rect x="402.1" y="314.0" width="3.0" height="3.0" fill="#f00"/>
<rect x="372.3" y="302.1" width="1.7" height="4.0" fill="#f00"/>
<rect x="430.7" y="346.6" width="3.0" height="3.0" fill="#f00"/>
<rect x="423.4" y="338.9" width="4.0" height="1.7" fill="#f00"/>
<rect x="433.0" y="352.3" width="4.0" height="1.7" fill="#f00"/>
<rect x="406.0" y="343.2" width="4.0" height="1.7" fill="#f00"/>
<rect x="412.7" y="343.3" width="4.0" height="4.0" fill="#f00"/>
<rect x="409.6" y="330.2" width="3.0" height="3.0" fill="#f00"/>
<rect x="427.0" y="346.8" width="4.0" height="1.7" fill="#f00"/>
<rect x="411.8" y="329.8" width="1.7" height="4.0" fill="#f00"/>
<rect x="404.3" y="334.7" width="4.0" height="1.7" fill="#f00"/>
<rect x="418.0" y="350.1" width="1.7" height="4.0" fill="#f00"/>
<rect x="422.1" y="345.2" width="1.7" height="4.0" fill="#f00"/>
<rect x="418.3" y="345.7" width="4.6" height="1.4" fill="#f00"/><rect x="419.9" y="344.1" width="1.4" height="4.6" fill="#f00"/>
<rect x="419.4" y="337.0" width="4.6" height="1.4" fill="#f00"/><rect x="421.0" y="335.4" width="1.4" height="4.6" fill="#f00"/>
<rect x="417.2" y="350.2" width="3.0" height="3.0" fill="#f00"/>
<rect x="411.7" y="350.0" width="4.6" height="1.4" fill="#f00"/><rect x="413.3" y="348.4" width="1.4" height="4.6" fill="#f00"/>
<rect x="426.3" y="339.6" width="4.0" height="1.7" fill="#f00"/>
<rect x="427.2" y="336.5" width="4.0" height="4.0" fill="#f00"/>
<rect x="437.0" y="343.1" width="3.0" height="3.0" fill="#f00"/>
<rect x="437.8" y="351.7" width="4.0" height="1.7" fill="#f00"/>
<rect x="415.6" y="342.4" width="4.6" height="1.4" fill="#f00"/><rect x="417.2" y="340.8" width="1.4" height="4.6" fill="#f00"/>
<rect x="433.8" y="346.2" width="4.6" height="1.4" fill="#f00"/><rect x="435.4" y="344.6" width="1.4" height="4.6" fill="#f00"/>
<rect x="426.0" y="351.8" width="3.0" height="3.0" fill="#f00"/>
<rect x="410.1" y="330.0" width="4.0" height="1.7" fill="#f00"/>
<rect x="421.4" y="332.5" width="3.0" height="3.0" fill="#f00"/>
<rect x="428.9" y="334.1" width="4.6" height="1.4" fill="#f00"/><rect x="430.5" y="332.5" width="1.4" height="4.6" fill="#f00"/>
<rect x="435.7" y="342.9" width="4.6" height="1.4" fill="#f00"/><rect x="437.3" y="341.3" width="1.4" height="4.6" fill="#f00"/>
<rect x="423.8" y="342.6" width="3.0" height="3.0" fill="#f00"/>
<rect x="410.5" y="337.1" width="4.0" height="4.0" fill="#f00"/>
<rect x="432.5" y="335.9" width="3.0" height="3.0" fill="#f00"/>
<rect x="441.6" y="337.1" width="1.7" height="4.0" fill="#f00"/>
<rect x="408.5" y="333.6" width="4.0" height="4.0" fill="#f00"/>
<rect x="427.2" y="330.5" width="4.0" height="4.0" fill="#f00"/>
<rect x="407.9" y="343.6" width="3.0" height="3.0" fill="#f00"/>
<rect x="439.8" y="345.0" width="4.0" height="4.0" fill="#f00"/>
<rect x="420.5" y="351.6" width="4.6" height="1.4" fill="#f00"/><rect x="422.1" y="350.0" width="1.4" height="4.6" fill="#f00"/>
<rect x="419.9" y="331.1" width="4.0" height="1.7" fill="#f00"/>
<rect x="442.2" y="339.5" width="1.7" height="4.0" fill="#f00"/>
<rect x="421.3" y="344.4" width="1.7" height="4.0" fill="#f00"/>
<rect x="423.5" y="338.0" width="3.0" height="3.0" fill="#f00"/>
<rect x="426.2" y="351.3" width="4.0" height="1.7" fill="#f00"/>
<rect x="425.1" y="331.1" width="1.7" height="4.0" fill="#f00"/>
<rect x="412.3" y="345.0" width="4.0" height="4.0" fill="#f00"/>
<rect x="429.0" y="341.5" width="3.0" height="3.0" fill="#f00"/>
<rect x="440.6" y="340.8" width="3.0" height="3.0" fill="#f00"/>
<rect x="429.3" y="349.5" width="3.0" height="3.0" fill="#f00"/>
<rect x="414.6" y="335.8" width="1.7" height="4.0" fill="#f00"/>
<rect x="408.1" y="334.3" width="4.6" height="1.4" fill="#f00"/><rect x="409.7" y="332.7" width="1.4" height="4.6" fill="#f00"/>
<rect x="417.0" y="349.3" width="4.0" height="4.0" fill="#f00"/>
<rect x="405.9" y="344.6" width="3.0" height="3.0" fill="#f00"/>
<rect x="431.7" y="335.7" width="4.0" height="1.7" fill="#f00"/>
<rect x="429.2" y="347.2" width="4.6" height="1.4" fill="#f00"/><rect x="430.8" y="345.6" width="1.4" height="4.6" fill="#f00"/>
<rect x="415.1" y="337.5" width="4.0" height="1.7" fill="#f00"/>
<rect x="430.6" y="341.7" width="1.7" height="4.0" fill="#f00"/>
<rect x="428.3" y="346.5" width="4.6" height="1.4" fill="#f00"/><rect x="429.9" y="344.9" width="1.4" height="4.6" fill="#f00"/>
<rect x="406.4" y="329.9" width="3.0" height="3.0" fill="#f00"/>
<rect x="411.4" y="335.2" width="4.0" height="1.7" fill="#f00"/>
<rect x="421.3" y="344.7" width="4.0" height="4.0" fill="#f00"/>
<rect x="430.7" y="333.1" width="4.6" height="1.4" fill="#f00"/><rect x="432.3" y="331.5" width="1.4" height="4.6" fill="#f00"/>
<rect x="418.3" y="346.2" width="3.0" height="3.0" fill="#f00"/>
<rect x="441.0" y="345.4" width="4.0" height="4.0" fill="#f00"/>
<rect x="420.7" y="346.5" width="4.0" height="1.7" fill="#f00"/>
<rect x="427.9" y="352.0" width="4.6" height="1.4" fill="#f00"/><rect x="429.5" y="350.4" width="1.4" height="4.6" fill="#f00"/>
<rect x="417.4" y="350.1" width="4.6" height="1.4" fill="#f00"/><rect x="419.0" y="348.5" width="1.4" height="4.6" fill="#f00"/>
<rect x="403.3" y="334.6" width="4.6" height="1.4" fill="#f00"/><rect x="404.9" y="333.0" width="1.4" height="4.6" fill="#f00"/>
<rect x="438.2" y="350.1" width="4.0" height="1.7" fill="#f00"/>
<rect x="408.4" y="345.4" width="1.7" height="4.0" fill="#f00"/>
<rect x="432.2" y="333.1" width="4.6" height="1.4" fill="#f00"/><rect x="433.8" y="331.5" width="1.4" height="4.6" fill="#f00"/>
<rect x="419.4" y="337.4" width="1.7" height="4.0" fill="#f00"/>
<rect x="430.6" y="337.6" width="4.0" height="1.7" fill="#f00"/>
<rect x="405.5" y="329.3" width="4.0" height="4.0" fill="#000"/>
<rect x="416.9" y="337.6" width="4.0" height="4.0" fill="#000"/>
<rect x="419.5" y="338.8" width="4.0" height="4.0" fill="#000"/>
<rect x="426.3" y="341.9" width="3.0" height="3.0" fill="#000"/>
<rect x="437.2" y="345.8" width="4.0" height="4.0" fill="#000"/>
<rect x="439.8" y="347.1" width="4.0" height="4.0" fill="#000"/>
<rect x="425.7" y="348.2" width="3.0" height="3.0" fill="#000"/>
<rect x="403.5" y="331.7" width="3.0" height="3.0" fill="#000"/>
<rect x="410.6" y="331.2" width="4.0" height="4.0" fill="#00f"/>
<rect x="422.5" y="335.5" width="3.0" height="3.0" fill="#00f"/>
<rect x="427.1" y="335.0" width="4.0" height="4.0" fill="#00f"/>
<rect x="427.6" y="339.3" width="3.0" height="3.0" fill="#00f"/>
<rect x="426.3" y="341.2" width="3.0" height="3.0" fill="#00f"/>
<rect x="436.0" y="342.6" width="4.0" height="4.0" fill="#00f"/>
<rect x="435.8" y="346.3" width="3.0" height="3.0" fill="#00f"/>
<rect x="429.6" y="332.5" width="4.0" height="1.4" fill="#00f"/>
<rect x="439.8" y="336.3" width="4.0" height="1.4" fill="#00f"/>
<rect x="425.9" y="350.2" width="1.4" height="4.0" fill="#00f"/>
<rect x="409.2" y="305.9" width="1.7" height="4.0" fill="#f00"/>
<rect x="413.7" y="305.9" width="1.7" height="4.0" fill="#f00"/>
<rect x="427.7" y="308.2" width="4.0" height="1.4" fill="#00f"/>
<rect x="404.3" y="310.4" width="4.0" height="1.4" fill="#00f"/>
<rect x="410.6" y="310.4" width="4.0" height="1.4" fill="#00f"/>
<rect x="428.3" y="310.8" width="4.0" height="1.7" fill="#f00"/>
<rect x="411.1" y="312.7" width="3.0" height="3.0" fill="#f00"/>
<rect x="416.2" y="314.0" width="3.0" height="3.0" fill="#f00"/>
<rect x="427.6" y="313.3" width="3.0" height="3.0" fill="#f00"/>
<rect x="427.6" y="315.2" width="3.0" height="3.0" fill="#f00"/>
<rect x="404.8" y="316.5" width="3.0" height="3.0" fill="#f00"/>
<rect x="421.2" y="317.1" width="3.0" height="3.0" fill="#f00"/>
<rect x="433.2" y="317.0" width="2.0" height="2.0" fill="#f00"/>
<rect x="449.8" y="304.6" width="4.6" height="1.4" fill="#f00"/><rect x="451.4" y="303.0" width="1.4" height="4.6" fill="#f00"/>
<rect x="481.6" y="305.8" width="4.0" height="1.7" fill="#f00"/>
<rect x="452.3" y="314.6" width="3.0" height="3.0" fill="#f00"/>
<rect x="459.0" y="315.4" width="1.7" height="4.0" fill="#f00"/>
<rect x="471.1" y="316.8" width="4.6" height="1.1" fill="#00f"/><rect x="472.9" y="315.1" width="1.1" height="4.6" fill="#00f"/>
<rect x="474.9" y="320.5" width="4.6" height="1.4" fill="#f00"/><rect x="476.5" y="318.9" width="1.4" height="4.6" fill="#f00"/>
<rect x="480.8" y="321.7" width="1.7" height="4.0" fill="#f00"/>
<rect x="468.2" y="320.4" width="1.7" height="4.0" fill="#f00"/>
<rect x="452.3" y="319.3" width="3.0" height="3.0" fill="#f00"/>
<rect x="411.2" y="321.4" width="4.0" height="1.4" fill="#00f"/>
<rect x="413.1" y="321.9" width="4.0" height="1.7" fill="#f00"/>
<rect x="425.5" y="321.4" width="2.0" height="2.0" fill="#00f"/>
<rect x="420.0" y="322.6" width="3.0" height="3.0" fill="#f00"/>
<rect x="433.5" y="323.6" width="1.4" height="4.0" fill="#00f"/>
<rect x="430.1" y="322.2" width="3.0" height="3.0" fill="#f00"/>
<rect x="426.2" y="324.6" width="2.0" height="2.0" fill="#00f"/>
<rect x="437.2" y="322.2" width="4.0" height="1.7" fill="#f00"/>
<rect x="445.3" y="320.7" width="3.0" height="3.0" fill="#f00"/>
<rect x="442.2" y="323.0" width="1.7" height="4.0" fill="#f00"/>
<rect x="443.6" y="327.3" width="4.0" height="1.7" fill="#f00"/>
<rect x="450.4" y="331.1" width="3.0" height="3.0" fill="#f00"/>
<rect x="446.1" y="334.4" width="4.0" height="1.4" fill="#00f"/>
<rect x="451.0" y="335.5" width="3.0" height="3.0" fill="#000"/>
<rect x="451.7" y="338.1" width="3.0" height="3.0" fill="#f00"/>
<rect x="453.6" y="334.9" width="3.0" height="3.0" fill="#f00"/>
<rect x="453.1" y="335.3" width="4.0" height="1.4" fill="#00f"/>
<rect x="460.0" y="337.4" width="4.0" height="1.7" fill="#f00"/>
<rect x="465.6" y="334.9" width="3.0" height="3.0" fill="#f00"/>
<rect x="473.0" y="337.6" width="4.6" height="1.4" fill="#f00"/><rect x="474.6" y="336.0" width="1.4" height="4.6" fill="#f00"/>
<rect x="470.7" y="335.5" width="3.0" height="3.0" fill="#f00"/>
<rect x="475.7" y="338.1" width="3.0" height="3.0" fill="#f00"/>
<rect x="461.8" y="342.5" width="3.0" height="3.0" fill="#f00"/>
<rect x="477.0" y="342.5" width="3.0" height="3.0" fill="#f00"/>
<rect x="471.4" y="346.5" width="4.0" height="1.4" fill="#00f"/>
<rect x="452.2" y="345.5" width="2.0" height="2.0" fill="#00f"/>
<rect x="469.4" y="348.2" width="3.0" height="3.0" fill="#f00"/>
<rect x="473.2" y="350.7" width="3.0" height="3.0" fill="#f00"/>
<rect x="461.8" y="349.5" width="3.0" height="3.0" fill="#f00"/>
<rect x="454.2" y="352.0" width="3.0" height="3.0" fill="#00f"/>
<rect x="456.7" y="348.8" width="3.0" height="3.0" fill="#00f"/>
<rect x="444.8" y="353.9" width="4.0" height="1.7" fill="#f00"/>
<rect x="443.6" y="355.8" width="4.0" height="1.7" fill="#000"/>
<rect x="448.5" y="355.8" width="3.0" height="3.0" fill="#f00"/>
<rect x="458.0" y="355.8" width="3.0" height="3.0" fill="#f00"/>
<rect x="461.8" y="357.1" width="3.0" height="3.0" fill="#f00"/>
<rect x="468.9" y="357.1" width="4.0" height="1.7" fill="#f00"/>
<rect x="478.9" y="355.8" width="3.0" height="3.0" fill="#00f"/>
<rect x="483.3" y="354.5" width="3.0" height="3.0" fill="#f00"/>
<rect x="464.3" y="360.9" width="3.0" height="3.0" fill="#000"/>
<rect x="465.4" y="361.1" width="6.0" height="1.4" fill="#00f"/>
<rect x="473.2" y="359.6" width="3.0" height="3.0" fill="#000"/>
<rect x="479.5" y="359.6" width="3.0" height="3.0" fill="#00f"/>
<rect x="404.8" y="345.7" width="3.0" height="3.0" fill="#f00"/>
<rect x="407.5" y="347.7" width="1.4" height="4.0" fill="#00f"/>
<rect x="407.5" y="354.0" width="1.4" height="4.0" fill="#00f"/>
<rect x="411.9" y="353.9" width="4.0" height="1.7" fill="#f00"/>
<rect x="417.4" y="353.3" width="3.0" height="3.0" fill="#f00"/>
<rect x="428.8" y="357.1" width="3.0" height="3.0" fill="#f00"/>
<rect x="440.9" y="356.6" width="1.7" height="4.0" fill="#f00"/>
<rect x="433.9" y="359.6" width="3.0" height="3.0" fill="#f00"/>
<rect x="488.7" y="306.8" width="4.0" height="1.7" fill="#f00"/>
<rect x="520.5" y="305.7" width="4.6" height="1.4" fill="#f00"/><rect x="522.1" y="304.1" width="1.4" height="4.6" fill="#f00"/>
<rect x="559.6" y="310.3" width="1.7" height="4.0" fill="#f00"/>
<rect x="510.2" y="317.2" width="4.0" height="1.7" fill="#f00"/>
<rect x="516.5" y="314.7" width="1.7" height="4.0" fill="#f00"/>
<rect x="524.3" y="314.6" width="3.0" height="3.0" fill="#f00"/>
<rect x="495.5" y="317.8" width="3.0" height="3.0" fill="#f00"/>
<rect x="538.0" y="317.8" width="3.0" height="3.0" fill="#f00"/>
<rect x="547.0" y="320.7" width="4.0" height="1.7" fill="#f00"/>
<rect x="507.0" y="322.3" width="1.7" height="4.0" fill="#f00"/>
<rect x="510.2" y="325.3" width="4.0" height="1.4" fill="#00f"/>
<rect x="550.2" y="326.2" width="4.0" height="1.4" fill="#00f"/>
<rect x="563.6" y="328.4" width="2.0" height="2.0" fill="#00f"/>
<rect x="501.3" y="326.8" width="1.7" height="4.0" fill="#f00"/>
<rect x="498.1" y="330.7" width="3.0" height="3.0" fill="#f00"/>
<rect x="505.2" y="330.8" width="4.0" height="1.4" fill="#00f"/>
<rect x="543.7" y="331.1" width="3.0" height="3.0" fill="#f00"/>
<rect x="540.5" y="334.3" width="3.0" height="3.0" fill="#f00"/>
<rect x="493.5" y="336.6" width="4.6" height="1.4" fill="#f00"/><rect x="495.1" y="335.0" width="1.4" height="4.6" fill="#f00"/>
<rect x="501.8" y="336.4" width="4.0" height="1.7" fill="#f00"/>
<rect x="521.5" y="335.5" width="3.0" height="3.0" fill="#f00"/>
<rect x="484.6" y="338.6" width="2.0" height="2.0" fill="#f00"/>
<rect x="498.0" y="340.7" width="1.4" height="4.0" fill="#00f"/>
<rect x="535.2" y="341.0" width="4.0" height="1.7" fill="#f00"/>
<rect x="559.0" y="342.5" width="4.0" height="1.7" fill="#c8c8c8"/>
<rect x="516.7" y="344.6" width="3.0" height="3.0" fill="#000"/>
<rect x="517.9" y="344.6" width="4.0" height="1.4" fill="#00f"/>
<rect x="515.8" y="345.0" width="3.0" height="3.0" fill="#f00"/>
<rect x="489.3" y="350.1" width="4.0" height="1.7" fill="#f00"/>
<rect x="504.4" y="350.5" width="3.0" height="3.0" fill="#f00"/>
<rect x="512.5" y="349.3" width="2.0" height="2.0" fill="#f00"/>
<rect x="529.6" y="350.2" width="2.0" height="2.0" fill="#f00"/>
<rect x="538.8" y="351.1" width="4.0" height="1.7" fill="#f00"/>
<rect x="486.0" y="355.8" width="3.0" height="3.0" fill="#f00"/>
<rect x="488.6" y="357.1" width="3.0" height="3.0" fill="#00f"/>
<rect x="498.2" y="355.4" width="4.0" height="1.7" fill="#f00"/>
<rect x="506.3" y="355.8" width="3.0" height="3.0" fill="#00f"/>
<rect x="503.3" y="359.2" width="4.0" height="1.4" fill="#00f"/>
<rect x="505.7" y="359.6" width="3.0" height="3.0" fill="#f00"/>
<rect x="530.2" y="357.4" width="4.6" height="1.1" fill="#00f"/><rect x="532.0" y="355.6" width="1.1" height="4.6" fill="#00f"/>
<rect x="529.8" y="359.6" width="3.0" height="3.0" fill="#00f"/>
<rect x="524.7" y="359.6" width="3.0" height="3.0" fill="#f00"/>
<rect x="539.3" y="358.3" width="3.0" height="3.0" fill="#f00"/>
<rect x="489.2" y="360.2" width="3.0" height="3.0" fill="#f00"/>
<rect x="494.4" y="361.7" width="4.0" height="1.4" fill="#00f"/>
<rect x="566.5" y="315.8" width="1.7" height="4.0" fill="#f00"/>
<rect x="581.5" y="310.8" width="3.0" height="3.0" fill="#f00"/>
<rect x="582.1" y="317.9" width="1.7" height="4.0" fill="#f00"/>
<rect x="581.3" y="326.3" width="4.6" height="1.1" fill="#00f"/><rect x="583.0" y="324.6" width="1.1" height="4.6" fill="#00f"/>
<rect x="588.5" y="324.1" width="3.0" height="3.0" fill="#f00"/>
<rect x="601.9" y="322.5" width="4.0" height="1.7" fill="#f00"/>
<rect x="563.8" y="328.8" width="4.6" height="1.1" fill="#00f"/><rect x="565.6" y="327.1" width="1.1" height="4.6" fill="#00f"/>
<rect x="635.2" y="308.8" width="2.0" height="2.0" fill="#00f"/>
<rect x="574.5" y="343.1" width="3.0" height="3.0" fill="#f00"/>
<rect x="567.5" y="348.3" width="1.4" height="4.0" fill="#00f"/>
<rect x="570.1" y="349.2" width="3.0" height="3.0" fill="#f00"/>
<rect x="613.0" y="344.4" width="4.0" height="1.7" fill="#f00"/>
<rect x="600.5" y="348.8" width="3.0" height="3.0" fill="#f00"/>
<rect x="570.1" y="356.1" width="3.0" height="3.0" fill="#f00"/>
<rect x="575.4" y="357.8" width="1.7" height="4.0" fill="#f00"/>
<rect x="594.4" y="353.4" width="1.7" height="4.0" fill="#f00"/>
<rect x="606.4" y="356.9" width="4.6" height="1.4" fill="#f00"/><rect x="608.0" y="355.3" width="1.4" height="4.6" fill="#f00"/>
<rect x="603.7" y="357.8" width="1.7" height="4.0" fill="#f00"/>
<rect x="594.2" y="360.5" width="4.6" height="1.1" fill="#00f"/><rect x="596.0" y="358.8" width="1.1" height="4.6" fill="#00f"/>
<rect x="597.7" y="360.9" width="6.0" height="1.7" fill="#f00"/>
<rect x="619.6" y="361.5" width="4.0" height="1.7" fill="#c8c8c8"/>
<rect x="128.6" y="422.8" width="4.0" height="1.4" fill="#00f"/>
<rect x="176.8" y="368.6" width="1.7" height="4.0" fill="#f00"/>
<rect x="201.9" y="362.5" width="1.7" height="4.0" fill="#f00"/>
<rect x="216.7" y="364.5" width="1.7" height="4.0" fill="#f00"/>
<rect x="229.4" y="363.8" width="3.0" height="3.0" fill="#f00"/>
<rect x="236.8" y="367.0" width="6.0" height="1.7" fill="#f00"/>
<rect x="239.5" y="365.3" width="3.0" height="3.0" fill="#f00"/>
<rect x="225.7" y="368.5" width="4.0" height="1.7" fill="#c8c8c8"/>
<rect x="202.0" y="374.2" width="4.0" height="1.7" fill="#f00"/>
<rect x="201.7" y="378.8" width="4.0" height="1.4" fill="#00f"/>
<rect x="224.5" y="374.1" width="4.0" height="1.4" fill="#00f"/>
<rect x="228.6" y="375.1" width="4.6" height="1.1" fill="#00f"/><rect x="230.3" y="373.4" width="1.1" height="4.6" fill="#00f"/>
<rect x="235.3" y="372.4" width="1.4" height="4.0" fill="#00f"/>
<rect x="228.1" y="379.9" width="3.0" height="3.0" fill="#f00"/>
<rect x="234.5" y="382.0" width="3.0" height="3.0" fill="#f00"/>
<rect x="213.1" y="384.3" width="4.0" height="1.4" fill="#00f"/>
<rect x="223.6" y="384.1" width="1.4" height="4.0" fill="#00f"/>
<rect x="243.6" y="389.6" width="2.0" height="2.0" fill="#00f"/>
<rect x="222.4" y="393.7" width="1.4" height="4.0" fill="#00f"/>
<rect x="231.4" y="394.6" width="4.0" height="1.4" fill="#00f"/>
<rect x="225.9" y="398.0" width="3.0" height="3.0" fill="#00f"/>
<rect x="236.8" y="397.3" width="4.6" height="1.1" fill="#00f"/><rect x="238.6" y="395.6" width="1.1" height="4.6" fill="#00f"/>
<rect x="211.2" y="404.1" width="1.4" height="4.0" fill="#00f"/>
<rect x="240.6" y="405.6" width="1.4" height="4.0" fill="#00f"/>
<rect x="219.3" y="415.7" width="3.0" height="3.0" fill="#00f"/>
<rect x="230.5" y="418.2" width="4.6" height="1.1" fill="#00f"/><rect x="232.2" y="416.5" width="1.1" height="4.6" fill="#00f"/>
<rect x="243.6" y="415.9" width="2.0" height="2.0" fill="#00f"/>
<rect x="245.3" y="363.3" width="2.0" height="2.0" fill="#00f"/>
<rect x="260.2" y="363.5" width="1.4" height="4.0" fill="#00f"/>
<rect x="256.9" y="367.4" width="4.0" height="1.4" fill="#00f"/>
<rect x="250.3" y="368.8" width="4.6" height="1.1" fill="#00f"/><rect x="252.0" y="367.0" width="1.1" height="4.6" fill="#00f"/>
<rect x="255.5" y="367.8" width="3.0" height="3.0" fill="#f00"/>
<rect x="253.0" y="371.8" width="1.7" height="4.0" fill="#f00"/>
<rect x="251.9" y="376.3" width="4.0" height="1.4" fill="#00f"/>
<rect x="265.9" y="364.2" width="1.4" height="4.0" fill="#00f"/>
<rect x="262.5" y="371.0" width="3.0" height="3.0" fill="#f00"/>
<rect x="265.2" y="370.4" width="4.0" height="1.7" fill="#f00"/>
<rect x="266.6" y="370.2" width="2.0" height="2.0" fill="#000"/>
<rect x="274.4" y="370.7" width="4.6" height="1.1" fill="#00f"/><rect x="276.1" y="368.9" width="1.1" height="4.6" fill="#00f"/>
<rect x="273.4" y="364.7" width="4.0" height="1.7" fill="#f00"/>
<rect x="274.6" y="365.9" width="3.0" height="3.0" fill="#f00"/>
<rect x="279.6" y="370.5" width="1.7" height="4.0" fill="#f00"/>
<rect x="286.0" y="364.8" width="1.7" height="4.0" fill="#f00"/>
<rect x="285.3" y="369.1" width="3.0" height="3.0" fill="#f00"/>
<rect x="290.4" y="367.2" width="3.0" height="3.0" fill="#f00"/>
<rect x="287.6" y="371.7" width="6.0" height="1.7" fill="#f00"/>
<rect x="294.8" y="364.8" width="1.7" height="4.0" fill="#f00"/>
<rect x="293.6" y="368.5" width="3.0" height="3.0" fill="#f00"/>
<rect x="297.5" y="368.0" width="4.0" height="4.0" fill="#00f"/>
<rect x="298.0" y="369.1" width="3.0" height="3.0" fill="#000"/>
<rect x="299.3" y="371.0" width="3.0" height="3.0" fill="#f00"/>
<rect x="303.5" y="368.5" width="6.0" height="1.7" fill="#c8c8c8"/>
<rect x="301.9" y="363.6" width="4.0" height="1.4" fill="#00f"/>
<rect x="308.6" y="364.3" width="4.6" height="1.1" fill="#00f"/><rect x="310.3" y="362.6" width="1.1" height="4.6" fill="#00f"/>
<rect x="310.8" y="366.7" width="4.0" height="4.0" fill="#f00"/>
<rect x="313.2" y="365.3" width="3.0" height="3.0" fill="#f00"/>
<rect x="308.8" y="371.6" width="3.0" height="3.0" fill="#f00"/>
<rect x="311.7" y="373.6" width="6.0" height="1.7" fill="#f00"/>
<rect x="308.1" y="373.5" width="3.0" height="3.0" fill="#00f"/>
<rect x="318.7" y="373.2" width="4.6" height="1.1" fill="#00f"/><rect x="320.5" y="371.5" width="1.1" height="4.6" fill="#00f"/>
<rect x="319.9" y="377.5" width="6.0" height="1.4" fill="#00f"/>
<rect x="317.0" y="373.7" width="1.7" height="4.0" fill="#f00"/>
<rect x="299.9" y="376.2" width="1.7" height="4.0" fill="#f00"/>
<rect x="300.5" y="381.8" width="3.0" height="3.0" fill="#f00"/>
<rect x="316.4" y="381.1" width="3.0" height="3.0" fill="#f00"/>
<rect x="315.9" y="383.2" width="1.4" height="4.0" fill="#00f"/>
<rect x="246.7" y="378.6" width="3.0" height="3.0" fill="#f00"/>
<rect x="272.2" y="377.4" width="4.0" height="1.7" fill="#f00"/>
<rect x="278.4" y="381.3" width="1.7" height="4.0" fill="#f00"/>
<rect x="287.2" y="378.1" width="1.7" height="4.0" fill="#f00"/>
<rect x="291.7" y="379.2" width="3.0" height="3.0" fill="#f00"/>
<rect x="288.5" y="385.1" width="1.7" height="4.0" fill="#f00"/>
<rect x="263.6" y="382.7" width="4.6" height="1.1" fill="#00f"/><rect x="265.3" y="381.0" width="1.1" height="4.6" fill="#00f"/>
<rect x="265.5" y="386.5" width="4.6" height="1.1" fill="#00f"/><rect x="267.2" y="384.8" width="1.1" height="4.6" fill="#00f"/>
<rect x="244.3" y="389.6" width="4.0" height="1.4" fill="#00f"/>
<rect x="258.8" y="388.9" width="4.0" height="1.4" fill="#00f"/>
<rect x="274.4" y="384.2" width="2.0" height="2.0" fill="#00f"/>
<rect x="283.0" y="386.3" width="1.4" height="4.0" fill="#00f"/>
<rect x="300.7" y="385.7" width="1.4" height="4.0" fill="#00f"/>
<rect x="308.3" y="385.8" width="4.0" height="1.4" fill="#00f"/>
<rect x="304.8" y="388.4" width="4.6" height="1.1" fill="#00f"/><rect x="306.5" y="386.7" width="1.1" height="4.6" fill="#00f"/>
<rect x="264.6" y="394.0" width="1.4" height="4.0" fill="#00f"/>
<rect x="300.4" y="394.7" width="4.6" height="1.1" fill="#00f"/><rect x="302.1" y="393.0" width="1.1" height="4.6" fill="#00f"/>
<rect x="301.6" y="395.9" width="6.0" height="1.4" fill="#00f"/>
<rect x="309.9" y="393.5" width="4.6" height="1.1" fill="#00f"/><rect x="311.6" y="391.8" width="1.1" height="4.6" fill="#00f"/>
<rect x="308.9" y="392.1" width="4.0" height="1.4" fill="#00f"/>
<rect x="284.5" y="398.5" width="4.6" height="1.1" fill="#00f"/><rect x="286.3" y="396.8" width="1.1" height="4.6" fill="#00f"/>
<rect x="293.8" y="398.0" width="1.4" height="4.0" fill="#00f"/>
<rect x="297.6" y="398.8" width="1.4" height="4.0" fill="#00f"/>
<rect x="314.0" y="398.4" width="1.4" height="4.0" fill="#00f"/>
<rect x="304.8" y="401.7" width="4.6" height="1.1" fill="#00f"/><rect x="306.5" y="400.0" width="1.1" height="4.6" fill="#00f"/>
<rect x="264.5" y="401.0" width="4.0" height="1.4" fill="#00f"/>
<rect x="268.0" y="402.2" width="6.0" height="1.4" fill="#00f"/>
<rect x="280.4" y="399.7" width="1.4" height="4.0" fill="#00f"/>
<rect x="276.9" y="404.8" width="6.0" height="1.4" fill="#00f"/>
<rect x="283.6" y="402.8" width="1.4" height="4.0" fill="#00f"/>
<rect x="261.7" y="406.4" width="2.0" height="2.0" fill="#00f"/>
<rect x="289.0" y="406.8" width="4.6" height="1.1" fill="#00f"/><rect x="290.7" y="405.1" width="1.1" height="4.6" fill="#00f"/>
<rect x="323.5" y="409.2" width="1.4" height="4.0" fill="#00f"/>
<rect x="250.6" y="413.7" width="4.0" height="1.4" fill="#00f"/>
<rect x="244.6" y="415.9" width="2.0" height="2.0" fill="#00f"/>
<rect x="285.1" y="417.5" width="6.0" height="1.4" fill="#00f"/>
<rect x="299.1" y="417.6" width="4.6" height="1.1" fill="#00f"/><rect x="300.8" y="415.8" width="1.1" height="4.6" fill="#00f"/>
<rect x="308.6" y="419.5" width="4.6" height="1.1" fill="#00f"/><rect x="310.3" y="417.7" width="1.1" height="4.6" fill="#00f"/>
<rect x="312.1" y="415.5" width="1.4" height="4.0" fill="#00f"/>
<rect x="317.8" y="416.1" width="1.4" height="4.0" fill="#00f"/>
<rect x="270.6" y="423.3" width="4.6" height="1.1" fill="#00f"/><rect x="272.3" y="421.5" width="1.1" height="4.6" fill="#00f"/>
<rect x="278.2" y="423.9" width="4.6" height="1.1" fill="#00f"/><rect x="279.9" y="422.2" width="1.1" height="4.6" fill="#00f"/>
<rect x="284.8" y="425.7" width="4.0" height="1.4" fill="#00f"/>
<rect x="350.1" y="362.1" width="3.0" height="3.0" fill="#f00"/>
<rect x="360.4" y="361.6" width="1.4" height="4.0" fill="#00f"/>
<rect x="345.7" y="364.8" width="1.7" height="4.0" fill="#f00"/>
<rect x="332.9" y="369.6" width="2.0" height="2.0" fill="#f00"/>
<rect x="352.7" y="367.8" width="3.0" height="3.0" fill="#f00"/>
<rect x="359.6" y="371.0" width="3.0" height="3.0" fill="#f00"/>
<rect x="364.8" y="365.3" width="4.0" height="1.7" fill="#f00"/>
<rect x="365.8" y="367.1" width="2.0" height="2.0" fill="#000"/>
<rect x="365.9" y="366.7" width="1.4" height="4.0" fill="#00f"/>
<rect x="368.9" y="366.0" width="6.0" height="1.7" fill="#f00"/>
<rect x="378.6" y="364.8" width="1.7" height="4.0" fill="#f00"/>
<rect x="383.1" y="362.3" width="1.7" height="4.0" fill="#f00"/>
<rect x="380.0" y="369.9" width="4.0" height="4.0" fill="#00f"/>
<rect x="398.3" y="367.2" width="3.0" height="3.0" fill="#f00"/>
<rect x="400.8" y="369.1" width="3.0" height="3.0" fill="#f00"/>
<rect x="324.1" y="376.7" width="3.0" height="3.0" fill="#f00"/>
<rect x="347.0" y="376.2" width="1.7" height="4.0" fill="#f00"/>
<rect x="338.8" y="378.4" width="4.0" height="1.7" fill="#c8c8c8"/>
<rect x="350.1" y="377.5" width="1.7" height="4.0" fill="#c8c8c8"/>
<rect x="362.5" y="376.7" width="3.0" height="3.0" fill="#00f"/>
<rect x="374.1" y="373.7" width="2.0" height="2.0" fill="#f00"/>
<rect x="372.8" y="378.1" width="4.6" height="1.4" fill="#f00"/><rect x="374.4" y="376.5" width="1.4" height="4.6" fill="#f00"/>
<rect x="374.0" y="378.5" width="4.6" height="1.4" fill="#000"/><rect x="375.6" y="376.9" width="1.4" height="4.6" fill="#000"/>
<rect x="381.2" y="375.4" width="3.0" height="3.0" fill="#f00"/>
<rect x="381.2" y="381.1" width="3.0" height="3.0" fill="#f00"/>
<rect x="374.4" y="380.6" width="1.4" height="4.0" fill="#00f"/>
<rect x="394.5" y="374.3" width="1.7" height="4.0" fill="#f00"/>
<rect x="399.7" y="374.9" width="1.4" height="4.0" fill="#00f"/>
<rect x="403.4" y="380.0" width="1.7" height="4.0" fill="#f00"/>
<rect x="325.5" y="384.3" width="4.0" height="1.7" fill="#f00"/>
<rect x="329.6" y="385.6" width="6.0" height="1.7" fill="#f00"/>
<rect x="353.4" y="382.0" width="4.0" height="1.4" fill="#00f"/>
<rect x="349.9" y="383.9" width="6.0" height="1.4" fill="#00f"/>
<rect x="347.4" y="386.5" width="4.6" height="1.1" fill="#00f"/><rect x="349.1" y="384.8" width="1.1" height="4.6" fill="#00f"/>
<rect x="356.3" y="387.3" width="2.0" height="2.0" fill="#00f"/>
<rect x="361.4" y="389.0" width="4.6" height="1.1" fill="#00f"/><rect x="363.1" y="387.3" width="1.1" height="4.6" fill="#00f"/>
<rect x="363.8" y="390.4" width="3.0" height="3.0" fill="#f00"/>
<rect x="371.2" y="383.8" width="1.4" height="4.0" fill="#00f"/>
<rect x="377.5" y="385.1" width="4.0" height="1.4" fill="#00f"/>
<rect x="395.1" y="385.6" width="3.0" height="3.0" fill="#f00"/>
<rect x="328.1" y="388.9" width="1.4" height="4.0" fill="#00f"/>
<rect x="334.1" y="390.9" width="4.6" height="1.1" fill="#00f"/><rect x="335.8" y="389.2" width="1.1" height="4.6" fill="#00f"/>
<rect x="339.8" y="394.1" width="4.6" height="1.1" fill="#00f"/><rect x="341.5" y="392.4" width="1.1" height="4.6" fill="#00f"/>
<rect x="355.4" y="394.0" width="1.4" height="4.0" fill="#00f"/>
<rect x="373.4" y="392.4" width="2.0" height="2.0" fill="#00f"/>
<rect x="377.8" y="395.5" width="6.0" height="1.4" fill="#00f"/>
<rect x="385.8" y="389.5" width="1.4" height="4.0" fill="#00f"/>
<rect x="381.0" y="392.8" width="4.6" height="1.1" fill="#00f"/><rect x="382.7" y="391.1" width="1.1" height="4.6" fill="#00f"/>
<rect x="382.9" y="399.2" width="4.6" height="1.1" fill="#00f"/><rect x="384.6" y="397.5" width="1.1" height="4.6" fill="#00f"/>
<rect x="328.1" y="399.0" width="1.4" height="4.0" fill="#00f"/>
<rect x="365.8" y="399.4" width="4.6" height="1.1" fill="#00f"/><rect x="367.5" y="397.7" width="1.1" height="4.6" fill="#00f"/>
<rect x="372.1" y="399.4" width="4.6" height="1.1" fill="#00f"/><rect x="373.9" y="397.7" width="1.1" height="4.6" fill="#00f"/>
<rect x="373.5" y="401.6" width="1.4" height="4.0" fill="#00f"/>
<rect x="380.3" y="404.8" width="6.0" height="1.4" fill="#00f"/>
<rect x="394.6" y="404.8" width="4.0" height="1.4" fill="#00f"/>
<rect x="399.7" y="403.5" width="1.4" height="4.0" fill="#00f"/>
<rect x="400.0" y="399.8" width="4.6" height="1.1" fill="#00f"/><rect x="401.7" y="398.1" width="1.1" height="4.6" fill="#00f"/>
<rect x="334.5" y="406.6" width="1.4" height="4.0" fill="#00f"/>
<rect x="343.9" y="409.2" width="4.0" height="1.4" fill="#00f"/>
<rect x="355.0" y="408.5" width="1.4" height="4.0" fill="#00f"/>
<rect x="389.6" y="406.6" width="1.4" height="4.0" fill="#00f"/>
<rect x="325.0" y="407.9" width="1.4" height="4.0" fill="#00f"/>
<rect x="338.3" y="411.7" width="1.4" height="4.0" fill="#00f"/>
<rect x="328.6" y="416.0" width="3.0" height="3.0" fill="#00f"/>
<rect x="341.4" y="415.5" width="1.4" height="4.0" fill="#00f"/>
<rect x="388.6" y="414.4" width="4.6" height="1.1" fill="#00f"/><rect x="390.3" y="412.7" width="1.1" height="4.6" fill="#00f"/>
<rect x="391.8" y="418.2" width="4.6" height="1.1" fill="#00f"/><rect x="393.5" y="416.5" width="1.1" height="4.6" fill="#00f"/>
<rect x="400.0" y="421.4" width="4.6" height="1.1" fill="#00f"/><rect x="401.7" y="419.6" width="1.1" height="4.6" fill="#00f"/>
<rect x="328.1" y="424.4" width="4.0" height="1.4" fill="#00f"/>
<rect x="341.1" y="424.5" width="4.6" height="1.1" fill="#00f"/><rect x="342.8" y="422.8" width="1.1" height="4.6" fill="#00f"/>
<rect x="437.6" y="378.7" width="4.0" height="4.0" fill="#f00"/>
<rect x="449.9" y="363.1" width="4.0" height="1.7" fill="#f00"/>
<rect x="418.1" y="372.2" width="1.7" height="4.0" fill="#f00"/>
<rect x="424.0" y="364.0" width="1.7" height="4.0" fill="#f00"/>
<rect x="448.6" y="368.7" width="1.7" height="4.0" fill="#f00"/>
<rect x="426.9" y="367.0" width="4.0" height="1.7" fill="#f00"/>
<rect x="416.1" y="372.5" width="4.6" height="1.4" fill="#f00"/><rect x="417.7" y="370.9" width="1.4" height="4.6" fill="#f00"/>
<rect x="444.1" y="368.5" width="4.0" height="1.7" fill="#f00"/>
<rect x="432.3" y="364.6" width="4.0" height="1.7" fill="#f00"/>
<rect x="432.5" y="377.3" width="4.0" height="1.7" fill="#f00"/>
<rect x="437.2" y="380.3" width="4.0" height="1.7" fill="#f00"/>
<rect x="424.1" y="365.6" width="4.0" height="1.7" fill="#f00"/>
<rect x="449.4" y="380.6" width="4.6" height="1.4" fill="#f00"/><rect x="451.0" y="379.0" width="1.4" height="4.6" fill="#f00"/>
<rect x="458.3" y="377.2" width="4.6" height="1.4" fill="#f00"/><rect x="459.9" y="375.6" width="1.4" height="4.6" fill="#f00"/>
<rect x="418.4" y="363.1" width="3.0" height="3.0" fill="#f00"/>
<rect x="433.9" y="378.3" width="4.0" height="1.7" fill="#f00"/>
<rect x="455.5" y="365.9" width="4.0" height="4.0" fill="#f00"/>
<rect x="429.3" y="361.7" width="3.0" height="3.0" fill="#f00"/>
<rect x="412.1" y="370.6" width="1.7" height="4.0" fill="#f00"/>
<rect x="447.2" y="376.3" width="4.0" height="4.0" fill="#f00"/>
<rect x="413.6" y="373.1" width="4.6" height="1.4" fill="#f00"/><rect x="415.2" y="371.5" width="1.4" height="4.6" fill="#f00"/>
<rect x="411.5" y="362.3" width="1.7" height="4.0" fill="#f00"/>
<rect x="424.0" y="362.9" width="4.0" height="1.7" fill="#f00"/>
<rect x="455.8" y="362.8" width="4.0" height="1.7" fill="#f00"/>
<rect x="441.0" y="365.7" width="1.7" height="4.0" fill="#f00"/>
<rect x="457.3" y="381.4" width="3.0" height="3.0" fill="#f00"/>
<rect x="411.5" y="365.1" width="4.0" height="1.7" fill="#f00"/>
<rect x="414.0" y="362.8" width="4.0" height="1.7" fill="#f00"/>
<rect x="404.2" y="375.1" width="4.0" height="4.0" fill="#f00"/>
<rect x="404.2" y="374.3" width="4.6" height="1.4" fill="#f00"/><rect x="405.8" y="372.7" width="1.4" height="4.6" fill="#f00"/>
<rect x="443.4" y="381.3" width="4.6" height="1.4" fill="#f00"/><rect x="445.0" y="379.7" width="1.4" height="4.6" fill="#f00"/>
<rect x="441.0" y="379.1" width="3.0" height="3.0" fill="#f00"/>
<rect x="435.9" y="365.8" width="4.0" height="4.0" fill="#f00"/>
<rect x="405.1" y="371.2" width="4.0" height="1.7" fill="#f00"/>
<rect x="439.2" y="365.7" width="3.0" height="3.0" fill="#f00"/>
<rect x="411.1" y="372.7" width="4.6" height="1.4" fill="#f00"/><rect x="412.7" y="371.1" width="1.4" height="4.6" fill="#f00"/>
<rect x="444.3" y="364.5" width="4.6" height="1.4" fill="#f00"/><rect x="445.9" y="362.9" width="1.4" height="4.6" fill="#f00"/>
<rect x="439.8" y="368.0" width="3.0" height="3.0" fill="#f00"/>
<rect x="457.0" y="381.2" width="3.0" height="3.0" fill="#f00"/>
<rect x="408.5" y="369.0" width="4.0" height="4.0" fill="#f00"/>
<rect x="443.4" y="379.2" width="3.0" height="3.0" fill="#f00"/>
<rect x="425.9" y="362.8" width="1.7" height="4.0" fill="#f00"/>
<rect x="477.9" y="369.3" width="3.0" height="3.0" fill="#00f"/>
<rect x="469.4" y="367.4" width="4.0" height="4.0" fill="#00f"/>
<rect x="468.1" y="367.4" width="4.0" height="1.4" fill="#00f"/>
<rect x="477.9" y="374.0" width="4.0" height="1.4" fill="#00f"/>
<rect x="460.5" y="363.9" width="3.0" height="3.0" fill="#00f"/>
<rect x="473.7" y="364.4" width="4.0" height="1.4" fill="#00f"/>
<rect x="476.7" y="372.1" width="4.6" height="1.1" fill="#00f"/><rect x="478.4" y="370.4" width="1.1" height="4.6" fill="#00f"/>
<rect x="477.1" y="363.6" width="4.6" height="1.1" fill="#00f"/><rect x="478.8" y="361.9" width="1.1" height="4.6" fill="#00f"/>
<rect x="469.8" y="366.4" width="4.0" height="4.0" fill="#00f"/>
<rect x="474.6" y="366.9" width="1.4" height="4.0" fill="#00f"/>
<rect x="469.4" y="372.0" width="4.6" height="1.1" fill="#00f"/><rect x="471.1" y="370.3" width="1.1" height="4.6" fill="#00f"/>
<rect x="465.0" y="362.7" width="1.4" height="4.0" fill="#00f"/>
<rect x="461.5" y="362.8" width="4.0" height="1.4" fill="#00f"/>
<rect x="473.0" y="363.5" width="3.0" height="3.0" fill="#00f"/>
<rect x="473.0" y="371.7" width="4.0" height="1.4" fill="#00f"/>
<rect x="475.2" y="371.6" width="4.0" height="1.4" fill="#00f"/>
<rect x="472.1" y="371.8" width="4.0" height="1.4" fill="#00f"/>
<rect x="469.3" y="366.9" width="4.0" height="1.4" fill="#00f"/>
<rect x="479.7" y="370.2" width="4.0" height="4.0" fill="#00f"/>
<rect x="458.7" y="361.5" width="3.0" height="3.0" fill="#00f"/>
<rect x="474.0" y="373.7" width="4.0" height="1.4" fill="#00f"/>
<rect x="425.8" y="376.2" width="4.0" height="4.0" fill="#000"/>
<rect x="467.6" y="366.1" width="4.0" height="4.0" fill="#000"/>
<rect x="474.5" y="372.9" width="3.0" height="3.0" fill="#000"/>
<rect x="458.0" y="379.2" width="3.0" height="3.0" fill="#000"/>
<rect x="481.4" y="362.8" width="3.0" height="3.0" fill="#000"/>
<rect x="479.5" y="372.9" width="3.0" height="3.0" fill="#f00"/>
<rect x="473.9" y="378.7" width="1.7" height="4.0" fill="#f00"/>
<rect x="482.1" y="387.6" width="1.7" height="4.0" fill="#f00"/>
<rect x="432.5" y="364.3" width="4.6" height="1.1" fill="#00f"/><rect x="434.2" y="362.6" width="1.1" height="4.6" fill="#00f"/>
<rect x="416.7" y="370.9" width="2.0" height="2.0" fill="#00f"/>
<rect x="425.9" y="372.4" width="1.4" height="4.0" fill="#00f"/>
<rect x="418.7" y="372.9" width="3.0" height="3.0" fill="#f00"/>
<rect x="418.7" y="377.7" width="3.0" height="3.0" fill="#f00"/>
<rect x="404.9" y="374.2" width="4.0" height="1.7" fill="#f00"/>
<rect x="406.2" y="380.0" width="1.4" height="4.0" fill="#00f"/>
<rect x="404.8" y="380.0" width="1.7" height="4.0" fill="#f00"/>
<rect x="444.5" y="381.4" width="4.6" height="1.1" fill="#00f"/><rect x="446.3" y="379.7" width="1.1" height="4.6" fill="#00f"/>
<rect x="450.4" y="378.0" width="3.0" height="3.0" fill="#f00"/>
<rect x="441.5" y="382.4" width="3.0" height="3.0" fill="#f00"/>
<rect x="437.7" y="381.1" width="3.0" height="3.0" fill="#f00"/>
<rect x="449.1" y="383.7" width="3.0" height="3.0" fill="#f00"/>
<rect x="450.2" y="378.1" width="4.6" height="1.4" fill="#f00"/><rect x="451.8" y="376.5" width="1.4" height="4.6" fill="#f00"/>
<rect x="414.5" y="384.4" width="1.4" height="4.0" fill="#00f"/>
<rect x="412.5" y="388.5" width="4.0" height="1.7" fill="#f00"/>
<rect x="422.3" y="390.0" width="6.0" height="1.7" fill="#f00"/>
<rect x="425.1" y="392.1" width="1.7" height="4.0" fill="#f00"/>
<rect x="432.5" y="389.0" width="4.6" height="1.1" fill="#00f"/><rect x="434.2" y="387.3" width="1.1" height="4.6" fill="#00f"/>
<rect x="405.4" y="391.7" width="3.0" height="3.0" fill="#00f"/>
<rect x="413.9" y="394.7" width="4.6" height="1.1" fill="#00f"/><rect x="415.6" y="393.0" width="1.1" height="4.6" fill="#00f"/>
<rect x="416.4" y="399.2" width="4.6" height="1.1" fill="#00f"/><rect x="418.1" y="397.5" width="1.1" height="4.6" fill="#00f"/>
<rect x="461.0" y="390.1" width="4.6" height="1.1" fill="#00f"/><rect x="462.7" y="388.3" width="1.1" height="4.6" fill="#00f"/>
<rect x="468.6" y="390.6" width="4.6" height="1.1" fill="#00f"/><rect x="470.3" y="388.8" width="1.1" height="4.6" fill="#00f"/>
<rect x="441.7" y="395.7" width="4.0" height="1.4" fill="#00f"/>
<rect x="456.7" y="396.5" width="1.7" height="4.0" fill="#f00"/>
<rect x="462.3" y="397.7" width="4.6" height="1.1" fill="#00f"/><rect x="464.0" y="395.9" width="1.1" height="4.6" fill="#00f"/>
<rect x="474.7" y="400.0" width="1.4" height="4.0" fill="#00f"/>
<rect x="429.9" y="408.1" width="4.6" height="1.1" fill="#00f"/><rect x="431.7" y="406.3" width="1.1" height="4.6" fill="#00f"/>
<rect x="454.3" y="408.2" width="4.0" height="1.4" fill="#00f"/>
<rect x="408.4" y="416.3" width="4.6" height="1.1" fill="#00f"/><rect x="410.1" y="414.6" width="1.1" height="4.6" fill="#00f"/>
<rect x="472.1" y="416.6" width="4.0" height="1.4" fill="#00f"/>
<rect x="476.8" y="417.9" width="4.6" height="1.1" fill="#00f"/><rect x="478.6" y="416.2" width="1.1" height="4.6" fill="#00f"/>
<rect x="405.9" y="423.3" width="4.6" height="1.1" fill="#00f"/><rect x="407.6" y="421.5" width="1.1" height="4.6" fill="#00f"/>
<rect x="447.9" y="423.4" width="3.0" height="3.0" fill="#00f"/>
<rect x="465.1" y="423.2" width="4.0" height="1.7" fill="#c8c8c8"/>
<rect x="485.5" y="367.9" width="3.0" height="3.0" fill="#00f"/>
<rect x="499.5" y="371.0" width="1.4" height="4.0" fill="#00f"/>
<rect x="487.7" y="381.1" width="3.0" height="3.0" fill="#00f"/>
<rect x="488.9" y="370.9" width="4.6" height="1.1" fill="#00f"/><rect x="490.7" y="369.2" width="1.1" height="4.6" fill="#00f"/>
<rect x="490.4" y="369.5" width="3.0" height="3.0" fill="#00f"/>
<rect x="483.9" y="370.5" width="4.0" height="4.0" fill="#00f"/>
<rect x="493.8" y="367.7" width="4.0" height="1.4" fill="#00f"/>
<rect x="493.2" y="365.5" width="4.0" height="4.0" fill="#00f"/>
<rect x="483.4" y="376.5" width="4.0" height="4.0" fill="#00f"/>
<rect x="488.0" y="369.1" width="3.0" height="3.0" fill="#00f"/>
<rect x="490.4" y="363.7" width="3.0" height="3.0" fill="#00f"/>
<rect x="487.8" y="380.7" width="4.0" height="1.4" fill="#00f"/>
<rect x="485.9" y="367.5" width="1.4" height="4.0" fill="#00f"/>
<rect x="491.0" y="366.7" width="3.0" height="3.0" fill="#00f"/>
<rect x="486.3" y="380.5" width="1.4" height="4.0" fill="#00f"/>
<rect x="493.3" y="367.2" width="4.0" height="4.0" fill="#00f"/>
<rect x="490.0" y="365.8" width="4.0" height="1.4" fill="#00f"/>
<rect x="497.0" y="371.7" width="1.7" height="4.0" fill="#f00"/>
<rect x="494.3" y="371.5" width="4.0" height="1.7" fill="#f00"/>
<rect x="504.4" y="374.6" width="4.0" height="1.7" fill="#f00"/>
<rect x="497.3" y="370.1" width="4.0" height="1.7" fill="#f00"/>
<rect x="496.0" y="373.2" width="4.0" height="1.7" fill="#f00"/>
<rect x="499.2" y="378.3" width="3.0" height="3.0" fill="#f00"/>
<rect x="505.1" y="376.3" width="4.6" height="1.4" fill="#f00"/><rect x="506.7" y="374.7" width="1.4" height="4.6" fill="#f00"/>
<rect x="498.3" y="371.2" width="4.0" height="1.7" fill="#f00"/>
<rect x="500.8" y="377.5" width="4.0" height="4.0" fill="#f00"/>
<rect x="503.9" y="373.9" width="3.0" height="3.0" fill="#f00"/>
<rect x="496.2" y="375.1" width="1.7" height="4.0" fill="#f00"/>
<rect x="496.4" y="372.2" width="3.0" height="3.0" fill="#f00"/>
<rect x="507.1" y="369.1" width="3.0" height="3.0" fill="#f00"/>
<rect x="495.8" y="372.6" width="4.6" height="1.4" fill="#f00"/><rect x="497.4" y="371.0" width="1.4" height="4.6" fill="#f00"/>
<rect x="500.6" y="376.3" width="1.7" height="4.0" fill="#f00"/>
<rect x="502.6" y="374.2" width="1.7" height="4.0" fill="#f00"/>
<rect x="500.5" y="368.4" width="1.7" height="4.0" fill="#f00"/>
<rect x="486.8" y="371.8" width="4.0" height="4.0" fill="#000"/>
<rect x="491.1" y="379.2" width="3.0" height="3.0" fill="#000"/>
<rect x="500.0" y="363.4" width="3.0" height="3.0" fill="#000"/>
<rect x="502.5" y="362.8" width="3.0" height="3.0" fill="#000"/>
<rect x="503.9" y="381.3" width="4.0" height="4.0" fill="#00f"/>
<rect x="504.5" y="384.4" width="4.0" height="4.0" fill="#00f"/>
<rect x="503.1" y="379.2" width="3.0" height="3.0" fill="#00f"/>
<rect x="510.2" y="364.9" width="4.0" height="1.4" fill="#00f"/>
<rect x="515.4" y="364.8" width="1.4" height="4.0" fill="#00f"/>
<rect x="517.0" y="368.0" width="4.0" height="4.0" fill="#00f"/>
<rect x="513.9" y="362.8" width="3.0" height="3.0" fill="#f00"/>
<rect x="510.5" y="373.6" width="6.0" height="1.7" fill="#f00"/>
<rect x="521.5" y="370.4" width="3.0" height="3.0" fill="#f00"/>
<rect x="525.1" y="369.5" width="6.0" height="1.7" fill="#c8c8c8"/>
<rect x="527.2" y="373.7" width="1.7" height="4.0" fill="#f00"/>
<rect x="531.5" y="368.1" width="4.6" height="1.1" fill="#00f"/><rect x="533.2" y="366.4" width="1.1" height="4.6" fill="#00f"/>
<rect x="531.5" y="370.9" width="4.6" height="1.4" fill="#f00"/><rect x="533.1" y="369.3" width="1.4" height="4.6" fill="#f00"/>
<rect x="541.0" y="370.9" width="4.6" height="1.4" fill="#f00"/><rect x="542.6" y="369.3" width="1.4" height="4.6" fill="#f00"/>
<rect x="548.3" y="371.3" width="4.0" height="1.7" fill="#f00"/>
<rect x="545.0" y="364.0" width="3.0" height="3.0" fill="#f00"/>
<rect x="552.4" y="375.3" width="2.0" height="2.0" fill="#f00"/>
<rect x="545.1" y="374.6" width="4.0" height="1.7" fill="#c8c8c8"/>
<rect x="511.2" y="379.7" width="2.0" height="2.0" fill="#f00"/>
<rect x="519.8" y="382.0" width="4.0" height="1.4" fill="#00f"/>
<rect x="517.4" y="383.8" width="1.7" height="4.0" fill="#f00"/>
<rect x="521.9" y="383.8" width="1.7" height="4.0" fill="#f00"/>
<rect x="523.8" y="387.5" width="3.0" height="3.0" fill="#00f"/>
<rect x="540.1" y="376.2" width="1.4" height="4.0" fill="#00f"/>
<rect x="537.5" y="381.3" width="4.0" height="4.0" fill="#00f"/>
<rect x="544.1" y="383.7" width="3.0" height="3.0" fill="#00f"/>
<rect x="534.2" y="383.0" width="3.0" height="3.0" fill="#f00"/>
<rect x="535.5" y="388.2" width="1.7" height="4.0" fill="#f00"/>
<rect x="538.8" y="389.6" width="2.0" height="2.0" fill="#f00"/>
<rect x="531.8" y="386.7" width="4.0" height="1.4" fill="#00f"/>
<rect x="548.9" y="386.4" width="4.0" height="1.4" fill="#00f"/>
<rect x="553.3" y="379.3" width="4.0" height="1.7" fill="#f00"/>
<rect x="557.1" y="384.3" width="4.0" height="1.7" fill="#f00"/>
<rect x="555.1" y="391.9" width="3.0" height="3.0" fill="#f00"/>
<rect x="556.5" y="392.8" width="2.0" height="2.0" fill="#000"/>
<rect x="486.0" y="385.6" width="3.0" height="3.0" fill="#f00"/>
<rect x="489.2" y="388.2" width="1.7" height="4.0" fill="#f00"/>
<rect x="495.0" y="389.4" width="4.0" height="1.7" fill="#f00"/>
<rect x="496.8" y="391.3" width="3.0" height="3.0" fill="#f00"/>
<rect x="501.2" y="387.5" width="3.0" height="3.0" fill="#00f"/>
<rect x="505.8" y="392.4" width="4.0" height="4.0" fill="#00f"/>
<rect x="515.8" y="388.6" width="1.4" height="4.0" fill="#00f"/>
<rect x="519.0" y="392.6" width="3.0" height="3.0" fill="#f00"/>
<rect x="514.1" y="395.2" width="4.0" height="4.0" fill="#00f"/>
<rect x="520.7" y="399.2" width="4.6" height="1.1" fill="#00f"/><rect x="522.4" y="397.5" width="1.1" height="4.6" fill="#00f"/>
<rect x="527.1" y="398.5" width="4.6" height="1.1" fill="#00f"/><rect x="528.8" y="396.8" width="1.1" height="4.6" fill="#00f"/>
<rect x="529.3" y="397.2" width="4.0" height="1.4" fill="#00f"/>
<rect x="538.5" y="395.1" width="4.6" height="1.1" fill="#00f"/><rect x="540.2" y="393.4" width="1.1" height="4.6" fill="#00f"/>
<rect x="544.5" y="396.1" width="4.0" height="1.7" fill="#c8c8c8"/>
<rect x="492.2" y="397.8" width="4.6" height="1.4" fill="#000"/><rect x="493.8" y="396.2" width="1.4" height="4.6" fill="#000"/>
<rect x="496.2" y="402.3" width="3.0" height="3.0" fill="#f00"/>
<rect x="485.4" y="381.8" width="3.0" height="3.0" fill="#00f"/>
<rect x="516.9" y="406.5" width="4.6" height="1.1" fill="#00f"/><rect x="518.6" y="404.8" width="1.1" height="4.6" fill="#00f"/>
<rect x="530.5" y="408.0" width="4.0" height="1.4" fill="#00f"/>
<rect x="540.1" y="404.7" width="1.4" height="4.0" fill="#00f"/>
<rect x="540.1" y="409.8" width="1.4" height="4.0" fill="#00f"/>
<rect x="505.5" y="410.6" width="4.6" height="1.1" fill="#00f"/><rect x="507.2" y="408.9" width="1.1" height="4.6" fill="#00f"/>
<rect x="508.0" y="417.1" width="6.0" height="1.4" fill="#00f"/>
<rect x="516.9" y="416.3" width="4.6" height="1.1" fill="#00f"/><rect x="518.6" y="414.6" width="1.1" height="4.6" fill="#00f"/>
<rect x="530.0" y="413.2" width="1.4" height="4.0" fill="#00f"/>
<rect x="551.1" y="414.9" width="6.0" height="1.4" fill="#00f"/>
<rect x="544.5" y="419.6" width="4.0" height="1.4" fill="#00f"/>
<rect x="555.9" y="408.2" width="4.0" height="1.4" fill="#00f"/>
<rect x="560.4" y="408.5" width="1.4" height="4.0" fill="#00f"/>
<rect x="559.4" y="399.2" width="4.6" height="1.1" fill="#00f"/><rect x="561.1" y="397.5" width="1.1" height="4.6" fill="#00f"/>
<rect x="555.0" y="399.8" width="2.0" height="2.0" fill="#00f"/>
<rect x="562.2" y="411.8" width="4.0" height="1.4" fill="#00f"/>
<rect x="585.9" y="363.8" width="3.0" height="3.0" fill="#f00"/>
<rect x="595.9" y="362.3" width="2.0" height="2.0" fill="#00f"/>
<rect x="601.0" y="362.3" width="2.0" height="2.0" fill="#f00"/>
<rect x="617.6" y="363.8" width="3.0" height="3.0" fill="#f00"/>
<rect x="567.7" y="366.0" width="4.0" height="1.7" fill="#c8c8c8"/>
<rect x="592.0" y="373.3" width="6.0" height="1.7" fill="#c8c8c8"/>
<rect x="631.3" y="372.7" width="3.0" height="3.0" fill="#f00"/>
<rect x="618.3" y="379.8" width="4.6" height="1.4" fill="#f00"/><rect x="619.9" y="378.2" width="1.4" height="4.6" fill="#f00"/>
<rect x="616.1" y="383.2" width="1.4" height="4.0" fill="#00f"/>
<rect x="570.5" y="382.4" width="3.0" height="3.0" fill="#f00"/>
<rect x="578.9" y="381.1" width="3.0" height="3.0" fill="#f00"/>
<rect x="585.7" y="382.0" width="4.0" height="1.4" fill="#00f"/>
<rect x="566.1" y="391.3" width="4.6" height="1.1" fill="#00f"/><rect x="567.8" y="389.6" width="1.1" height="4.6" fill="#00f"/>
<rect x="601.3" y="389.0" width="4.6" height="1.1" fill="#00f"/><rect x="603.1" y="387.3" width="1.1" height="4.6" fill="#00f"/>
<rect x="577.2" y="397.8" width="4.0" height="4.0" fill="#00f"/>
<rect x="583.5" y="406.1" width="4.0" height="1.4" fill="#00f"/>
<rect x="586.6" y="410.0" width="4.6" height="1.1" fill="#00f"/><rect x="588.4" y="408.2" width="1.1" height="4.6" fill="#00f"/>
<rect x="601.0" y="417.6" width="4.6" height="1.1" fill="#00f"/><rect x="602.7" y="415.8" width="1.1" height="4.6" fill="#00f"/>
<rect x="581.3" y="424.5" width="4.6" height="1.1" fill="#00f"/><rect x="583.0" y="422.8" width="1.1" height="4.6" fill="#00f"/>
<rect x="242.1" y="442.0" width="4.0" height="1.4" fill="#00f"/>
<rect x="245.3" y="429.3" width="1.4" height="4.0" fill="#00f"/>
<rect x="246.5" y="431.1" width="4.6" height="1.1" fill="#00f"/><rect x="248.2" y="429.4" width="1.1" height="4.6" fill="#00f"/>
<rect x="258.7" y="432.1" width="4.6" height="1.1" fill="#00f"/><rect x="260.4" y="430.4" width="1.1" height="4.6" fill="#00f"/>
<rect x="266.2" y="431.1" width="4.6" height="1.1" fill="#00f"/><rect x="268.0" y="429.4" width="1.1" height="4.6" fill="#00f"/>
<rect x="281.3" y="428.9" width="4.6" height="1.1" fill="#00f"/><rect x="283.0" y="427.2" width="1.1" height="4.6" fill="#00f"/>
<rect x="285.8" y="425.6" width="1.4" height="4.0" fill="#00f"/>
<rect x="283.5" y="433.9" width="4.0" height="1.4" fill="#00f"/>
<rect x="292.0" y="432.1" width="4.6" height="1.1" fill="#00f"/><rect x="293.8" y="430.4" width="1.1" height="4.6" fill="#00f"/>
<rect x="262.5" y="438.6" width="2.0" height="2.0" fill="#00f"/>
<rect x="309.6" y="440.2" width="4.6" height="1.1" fill="#00f"/><rect x="311.3" y="438.5" width="1.1" height="4.6" fill="#00f"/>
<rect x="320.9" y="434.0" width="4.6" height="1.1" fill="#00f"/><rect x="322.6" y="432.2" width="1.1" height="4.6" fill="#00f"/>
<rect x="324.9" y="436.7" width="4.0" height="1.4" fill="#00f"/>
<rect x="344.4" y="439.1" width="4.6" height="1.1" fill="#00f"/><rect x="346.1" y="437.3" width="1.1" height="4.6" fill="#00f"/>
<rect x="361.6" y="435.2" width="4.0" height="1.4" fill="#00f"/>
<rect x="244.6" y="441.6" width="2.0" height="2.0" fill="#00f"/>
<rect x="384.7" y="433.1" width="1.4" height="4.0" fill="#00f"/>
<rect x="414.2" y="440.6" width="1.4" height="4.0" fill="#00f"/>
<rect x="418.0" y="437.6" width="4.0" height="1.4" fill="#00f"/>
<rect x="422.9" y="445.7" width="4.0" height="1.4" fill="#00f"/>
<rect x="533.3" y="431.2" width="1.4" height="4.0" fill="#00f"/>
<rect x="545.2" y="434.3" width="4.6" height="1.1" fill="#00f"/><rect x="547.0" y="432.6" width="1.1" height="4.6" fill="#00f"/>
<rect x="485.2" y="427.2" width="2.0" height="2.0" fill="#00f"/>
<rect x="330.9" y="292.4" width="3.0" height="3.0" fill="#000"/>
<rect x="274.1" y="245.2" width="3.0" height="3.0" fill="#000"/>
<rect x="318.1" y="280.5" width="4.0" height="4.0" fill="#000"/>
<rect x="340.2" y="298.2" width="3.0" height="3.0" fill="#000"/>
<rect x="261.1" y="234.5" width="4.0" height="4.0" fill="#000"/>
<rect x="336.9" y="300.5" width="3.0" height="3.0" fill="#000"/>
<rect x="296.0" y="268.9" width="3.0" height="3.0" fill="#000"/>
<rect x="260.2" y="225.5" width="3.0" height="3.0" fill="#000"/>
<rect x="312.1" y="276.1" width="4.0" height="4.0" fill="#000"/>
<rect x="316.4" y="278.6" width="4.0" height="4.0" fill="#000"/>
<rect x="327.6" y="292.0" width="3.0" height="3.0" fill="#000"/>
<rect x="256.4" y="220.5" width="3.0" height="3.0" fill="#000"/>
<rect x="335.9" y="296.9" width="3.0" height="3.0" fill="#000"/>
<rect x="344.1" y="297.1" width="4.0" height="4.0" fill="#000"/>
<rect x="269.0" y="238.8" width="3.0" height="3.0" fill="#000"/>
<rect x="313.4" y="276.9" width="3.0" height="3.0" fill="#000"/>
<rect x="265.8" y="231.2" width="4.0" height="4.0" fill="#000"/>
<rect x="282.2" y="262.2" width="4.0" height="4.0" fill="#000"/>
<rect x="308.7" y="279.5" width="3.0" height="3.0" fill="#000"/>
<rect x="329.1" y="294.5" width="3.0" height="3.0" fill="#000"/>
<rect x="333.2" y="290.5" width="3.0" height="3.0" fill="#000"/>
<rect x="292.3" y="269.6" width="3.0" height="3.0" fill="#000"/>
<rect x="293.2" y="264.7" width="3.0" height="3.0" fill="#000"/>
<rect x="274.7" y="247.2" width="4.0" height="4.0" fill="#000"/>
<rect x="324.7" y="290.9" width="3.0" height="3.0" fill="#000"/>
<rect x="328.3" y="291.3" width="3.0" height="3.0" fill="#000"/>
<rect x="336.8" y="293.1" width="3.0" height="3.0" fill="#000"/>
<rect x="343.6" y="298.1" width="3.0" height="3.0" fill="#000"/>
<rect x="330.3" y="290.6" width="3.0" height="3.0" fill="#000"/>
<rect x="264.4" y="226.3" width="3.0" height="3.0" fill="#000"/>
<rect x="279.0" y="256.3" width="3.0" height="3.0" fill="#000"/>
<rect x="324.7" y="286.3" width="4.0" height="4.0" fill="#000"/>
<rect x="279.3" y="248.4" width="3.0" height="3.0" fill="#000"/>
<rect x="260.2" y="226.8" width="3.0" height="3.0" fill="#000"/>
<rect x="274.4" y="242.0" width="3.0" height="3.0" fill="#000"/>
<rect x="270.1" y="243.0" width="3.0" height="3.0" fill="#000"/>
<rect x="261.3" y="229.1" width="3.0" height="3.0" fill="#000"/>
<rect x="322.8" y="284.8" width="3.0" height="3.0" fill="#000"/>
<rect x="337.9" y="295.3" width="3.0" height="3.0" fill="#000"/>
<rect x="265.7" y="231.1" width="3.0" height="3.0" fill="#000"/>
<rect x="272.0" y="247.2" width="3.0" height="3.0" fill="#000"/>
<rect x="327.4" y="290.9" width="4.0" height="4.0" fill="#000"/>
<rect x="314.3" y="282.9" width="3.0" height="3.0" fill="#000"/>
<rect x="268.4" y="236.3" width="4.0" height="4.0" fill="#000"/>
<rect x="273.2" y="243.4" width="4.0" height="4.0" fill="#000"/>
<rect x="332.7" y="289.4" width="3.0" height="3.0" fill="#000"/>
<rect x="265.3" y="232.8" width="4.0" height="4.0" fill="#000"/>
<rect x="311.3" y="279.4" width="3.0" height="3.0" fill="#000"/>
<rect x="284.0" y="262.1" width="3.0" height="3.0" fill="#000"/>
<rect x="262.1" y="237.2" width="4.0" height="4.0" fill="#000"/>
<rect x="271.1" y="238.1" width="4.0" height="4.0" fill="#000"/>
<rect x="344.8" y="297.7" width="3.0" height="3.0" fill="#000"/>
<rect x="265.9" y="241.5" width="4.0" height="4.0" fill="#000"/>
<rect x="325.1" y="290.8" width="4.0" height="4.0" fill="#000"/>
<rect x="330.9" y="287.7" width="3.0" height="3.0" fill="#000"/>
<rect x="326.2" y="283.9" width="4.0" height="4.0" fill="#000"/>
<rect x="318.8" y="279.8" width="3.0" height="3.0" fill="#000"/>
<rect x="329.6" y="288.7" width="3.0" height="3.0" fill="#000"/>
<rect x="319.6" y="278.5" width="3.0" height="3.0" fill="#000"/>
<rect x="292.0" y="262.2" width="4.0" height="4.0" fill="#000"/>
<rect x="271.9" y="248.8" width="3.0" height="3.0" fill="#000"/>
<rect x="276.7" y="251.4" width="3.0" height="3.0" fill="#000"/>
<rect x="272.0" y="239.2" width="3.0" height="3.0" fill="#000"/>
<rect x="277.2" y="254.5" width="3.0" height="3.0" fill="#000"/>
<rect x="339.1" y="296.3" width="4.0" height="4.0" fill="#000"/>
<rect x="320.7" y="286.2" width="3.0" height="3.0" fill="#000"/>
<rect x="337.6" y="300.1" width="3.0" height="3.0" fill="#000"/>
<rect x="271.3" y="238.7" width="3.0" height="3.0" fill="#000"/>
<rect x="288.1" y="259.7" width="3.0" height="3.0" fill="#000"/>
<rect x="280.8" y="259.5" width="3.0" height="3.0" fill="#000"/>
<rect x="314.5" y="283.2" width="3.0" height="3.0" fill="#000"/>
<rect x="343.2" y="299.1" width="3.0" height="3.0" fill="#000"/>
<rect x="326.5" y="289.0" width="3.0" height="3.0" fill="#000"/>
<rect x="312.7" y="280.7" width="3.0" height="3.0" fill="#000"/>
<rect x="314.4" y="279.3" width="3.0" height="3.0" fill="#000"/>
<rect x="333.9" y="290.4" width="3.0" height="3.0" fill="#000"/>
<rect x="287.5" y="263.5" width="3.0" height="3.0" fill="#000"/>
<rect x="312.1" y="280.5" width="4.0" height="4.0" fill="#000"/>
<rect x="292.9" y="267.5" width="4.0" height="4.0" fill="#000"/>
<rect x="266.0" y="230.0" width="4.0" height="4.0" fill="#000"/>
<rect x="256.7" y="224.8" width="3.0" height="3.0" fill="#000"/>
<rect x="258.3" y="219.6" width="3.0" height="3.0" fill="#000"/>
<rect x="277.5" y="255.5" width="4.0" height="4.0" fill="#000"/>
<rect x="296.4" y="266.0" width="3.0" height="3.0" fill="#000"/>
<rect x="259.0" y="229.3" width="3.0" height="3.0" fill="#000"/>
<rect x="301.3" y="274.0" width="4.0" height="4.0" fill="#000"/>
<rect x="308.7" y="278.8" width="3.0" height="3.0" fill="#000"/>
<rect x="289.3" y="264.7" width="4.0" height="4.0" fill="#000"/>
<rect x="271.6" y="248.6" width="3.0" height="3.0" fill="#000"/>
<rect x="261.9" y="224.1" width="3.0" height="3.0" fill="#000"/>
<rect x="308.9" y="274.8" width="4.0" height="4.0" fill="#000"/>
<rect x="304.4" y="276.9" width="4.0" height="4.0" fill="#000"/>
<rect x="297.7" y="274.3" width="3.0" height="3.0" fill="#000"/>
<rect x="255.0" y="217.1" width="3.0" height="3.0" fill="#000"/>
<rect x="339.9" y="300.1" width="3.0" height="3.0" fill="#000"/>
<rect x="261.1" y="228.0" width="3.0" height="3.0" fill="#000"/>
<rect x="267.4" y="241.9" width="3.0" height="3.0" fill="#000"/>
<rect x="268.8" y="244.7" width="4.0" height="4.0" fill="#000"/>
<rect x="335.4" y="291.7" width="3.0" height="3.0" fill="#000"/>
<rect x="259.2" y="225.7" width="3.0" height="3.0" fill="#000"/>
<rect x="293.8" y="268.5" width="3.0" height="3.0" fill="#000"/>
<rect x="327.5" y="287.5" width="3.0" height="3.0" fill="#000"/>
<rect x="260.7" y="232.7" width="3.0" height="3.0" fill="#000"/>
<rect x="312.6" y="282.6" width="3.0" height="3.0" fill="#000"/>
<rect x="269.3" y="236.6" width="3.0" height="3.0" fill="#000"/>
<rect x="257.6" y="218.1" width="4.0" height="4.0" fill="#000"/>
<rect x="332.3" y="290.8" width="3.0" height="3.0" fill="#000"/>
<rect x="312.5" y="278.4" width="3.0" height="3.0" fill="#000"/>
<rect x="254.2" y="167.4" width="4.6" height="1.1" fill="#00f"/><rect x="255.9" y="165.7" width="1.1" height="4.6" fill="#00f"/>
<rect x="254.3" y="169.0" width="3.0" height="3.0" fill="#000"/>
<rect x="256.5" y="168.5" width="2.0" height="2.0" fill="#f00"/>
<rect x="249.5" y="176.0" width="3.0" height="3.0" fill="#f00"/>
<rect x="250.0" y="177.5" width="3.0" height="3.0" fill="#000"/>
<rect x="250.5" y="179.5" width="3.0" height="3.0" fill="#00f"/>
<rect x="262.0" y="182.0" width="3.0" height="3.0" fill="#f00"/>
<rect x="264.2" y="177.7" width="3.0" height="3.0" fill="#f00"/>
<rect x="256.5" y="174.4" width="1.7" height="4.0" fill="#f00"/>
<rect x="241.7" y="178.0" width="4.0" height="1.7" fill="#f00"/>
<rect x="228.4" y="184.2" width="4.0" height="1.7" fill="#f00"/>
<rect x="267.0" y="183.7" width="2.0" height="2.0" fill="#000"/>
<rect x="181.1" y="89.6" width="2.0" height="2.0" fill="#f00"/>
<rect x="448.3" y="367.9" width="4.6" height="1.4" fill="#f00"/><rect x="449.9" y="366.3" width="1.4" height="4.6" fill="#f00"/>
<rect x="440.2" y="361.9" width="4.0" height="1.7" fill="#f00"/>
<rect x="469.3" y="369.1" width="3.0" height="3.0" fill="#f00"/>
<rect x="455.6" y="373.3" width="1.7" height="4.0" fill="#f00"/>
<rect x="442.3" y="357.6" width="4.0" height="1.7" fill="#f00"/>
<rect x="464.0" y="360.8" width="4.0" height="1.7" fill="#f00"/>
<rect x="460.8" y="355.9" width="4.0" height="1.7" fill="#f00"/>
<rect x="467.5" y="372.8" width="4.0" height="4.0" fill="#f00"/>
<rect x="465.9" y="358.4" width="4.0" height="1.7" fill="#f00"/>
<rect x="457.8" y="377.3" width="1.7" height="4.0" fill="#f00"/>
<rect x="468.2" y="356.0" width="4.0" height="1.7" fill="#f00"/>
<rect x="449.5" y="373.8" width="4.6" height="1.4" fill="#f00"/><rect x="451.1" y="372.2" width="1.4" height="4.6" fill="#f00"/>
<rect x="450.9" y="376.2" width="3.0" height="3.0" fill="#f00"/>
<rect x="461.4" y="357.7" width="4.0" height="1.7" fill="#f00"/>
<rect x="466.7" y="368.7" width="4.0" height="4.0" fill="#f00"/>
<rect x="460.6" y="368.8" width="1.7" height="4.0" fill="#f00"/>
<rect x="452.8" y="374.1" width="3.0" height="3.0" fill="#f00"/>
<rect x="457.4" y="358.5" width="3.0" height="3.0" fill="#f00"/>
<rect x="460.9" y="376.0" width="4.6" height="1.4" fill="#f00"/><rect x="462.5" y="374.4" width="1.4" height="4.6" fill="#f00"/>
<rect x="444.2" y="377.2" width="4.0" height="4.0" fill="#f00"/>
<rect x="460.1" y="360.3" width="3.0" height="3.0" fill="#f00"/>
<rect x="469.8" y="362.2" width="4.6" height="1.4" fill="#f00"/><rect x="471.4" y="360.6" width="1.4" height="4.6" fill="#f00"/>
<rect x="456.6" y="361.3" width="1.7" height="4.0" fill="#f00"/>
<rect x="267.5" y="188.5" width="1.7" height="4.0" fill="#f00"/>
<rect x="276.5" y="190.6" width="3.0" height="3.0" fill="#f00"/>
<rect x="263.3" y="189.8" width="3.0" height="3.0" fill="#f00"/>
<rect x="273.5" y="192.5" width="1.7" height="4.0" fill="#f00"/>
<rect x="275.0" y="190.4" width="3.0" height="3.0" fill="#f00"/>
<rect x="283.9" y="196.3" width="4.6" height="1.4" fill="#f00"/><rect x="285.5" y="194.7" width="1.4" height="4.6" fill="#f00"/>
<rect x="275.2" y="192.8" width="1.7" height="4.0" fill="#f00"/>
<rect x="281.3" y="191.8" width="3.0" height="3.0" fill="#f00"/>
<rect x="283.1" y="194.8" width="4.0" height="1.7" fill="#f00"/>
<rect x="273.8" y="189.7" width="1.7" height="4.0" fill="#f00"/>
<rect x="272.4" y="190.6" width="4.0" height="4.0" fill="#f00"/>
<rect x="264.1" y="192.0" width="4.0" height="1.7" fill="#f00"/>
<rect x="280.6" y="193.3" width="4.0" height="4.0" fill="#f00"/>
<rect x="282.0" y="194.5" width="4.0" height="4.0" fill="#f00"/>
<rect x="278.2" y="193.4" width="1.7" height="4.0" fill="#f00"/>
<rect x="267.4" y="191.1" width="4.6" height="1.4" fill="#f00"/><rect x="269.0" y="189.5" width="1.4" height="4.6" fill="#f00"/>
<rect x="264.6" y="191.6" width="4.0" height="4.0" fill="#f00"/>
<rect x="270.8" y="194.1" width="1.7" height="4.0" fill="#f00"/>
<rect x="278.5" y="192.4" width="4.0" height="1.7" fill="#f00"/>
<rect x="288.2" y="195.0" width="4.0" height="1.7" fill="#f00"/>
<rect x="270.9" y="189.0" width="1.7" height="4.0" fill="#f00"/>
<rect x="265.7" y="189.5" width="3.0" height="3.0" fill="#f00"/>
<rect x="292.5" y="210.3" width="4.0" height="4.0" fill="#f00"/>
<rect x="296.3" y="202.6" width="4.0" height="1.7" fill="#f00"/>
<rect x="266.3" y="209.8" width="4.6" height="1.4" fill="#f00"/><rect x="267.9" y="208.2" width="1.4" height="4.6" fill="#f00"/>
<rect x="269.5" y="208.5" width="3.0" height="3.0" fill="#f00"/>
<rect x="269.5" y="215.5" width="3.0" height="3.0" fill="#f00"/>
<rect x="293.7" y="202.0" width="1.7" height="4.0" fill="#f00"/>
<rect x="267.4" y="211.7" width="4.0" height="4.0" fill="#f00"/>
<rect x="298.1" y="211.6" width="4.0" height="4.0" fill="#f00"/>
<rect x="298.1" y="203.5" width="4.0" height="4.0" fill="#f00"/>
<rect x="283.2" y="220.9" width="1.7" height="4.0" fill="#f00"/>
<rect x="294.1" y="215.4" width="4.0" height="1.7" fill="#f00"/>
<rect x="279.0" y="208.8" width="4.6" height="1.4" fill="#f00"/><rect x="280.6" y="207.2" width="1.4" height="4.6" fill="#f00"/>
<rect x="281.1" y="205.9" width="4.0" height="1.7" fill="#f00"/>
<rect x="283.6" y="203.5" width="4.0" height="1.7" fill="#f00"/>
<rect x="290.3" y="223.7" width="4.6" height="1.4" fill="#f00"/><rect x="291.9" y="222.1" width="1.4" height="4.6" fill="#f00"/>
<rect x="298.7" y="204.9" width="4.0" height="1.7" fill="#f00"/>
<rect x="296.4" y="208.2" width="3.0" height="3.0" fill="#f00"/>
<rect x="297.5" y="204.5" width="3.0" height="3.0" fill="#f00"/>
</g>
<g id="axes" stroke="#1a1a1a" stroke-width="1.5" fill="none">
<line x1="85" y1="11" x2="85" y2="462.5"/>
<line x1="84.25" y1="462.3" x2="637" y2="462.3"/>
</g>
<g id="orange">
<line x1="160.4" y1="77.3" x2="211" y2="156" stroke="#fa6423" stroke-width="3.6" stroke-linecap="butt"/>
<polygon points="217.7,167.7 204.0,159.4 216.6,151.8" fill="#fa6423"/>
</g>
<text x="117" y="64" font-family="'Liberation Sans', sans-serif" font-weight="bold" font-size="28.5" fill="#fa6423">turn-off</text>
<text x="499.5" y="100" font-family="'Liberation Sans', sans-serif" font-size="24" fill="#0000ff">M 67</text>
<text x="500" y="128" font-family="'Liberation Sans', sans-serif" font-size="24" fill="#ff0000">NGC 188</text>
<g stroke="#0d0d4d" fill="none" stroke-linecap="round">
<line x1="247" y1="483.7" x2="280" y2="483.7" stroke-width="2.2"/>
<path d="M256.2,479.4 Q250,481.8 245.6,483.7 Q250,485.8 256.6,490.6" stroke-width="2"/>
<line x1="43.9" y1="354.4" x2="43.9" y2="386" stroke-width="2.2"/>
<path d="M39.1,379.2 Q41.5,384 43.9,388.4 Q46.5,383 50.4,377.8" stroke-width="2"/>
</g>
<text x="287.4" y="492.3" font-family="'Liberation Sans', sans-serif" font-size="24" letter-spacing="0.4" fill="#0d0d4d">Temperature</text>
<text transform="translate(54.4,341) rotate(-90)" font-family="'Liberation Sans', sans-serif" font-size="24" fill="#0d0d4d">Absolute magnitude</text>
</svg>
</body></html>
